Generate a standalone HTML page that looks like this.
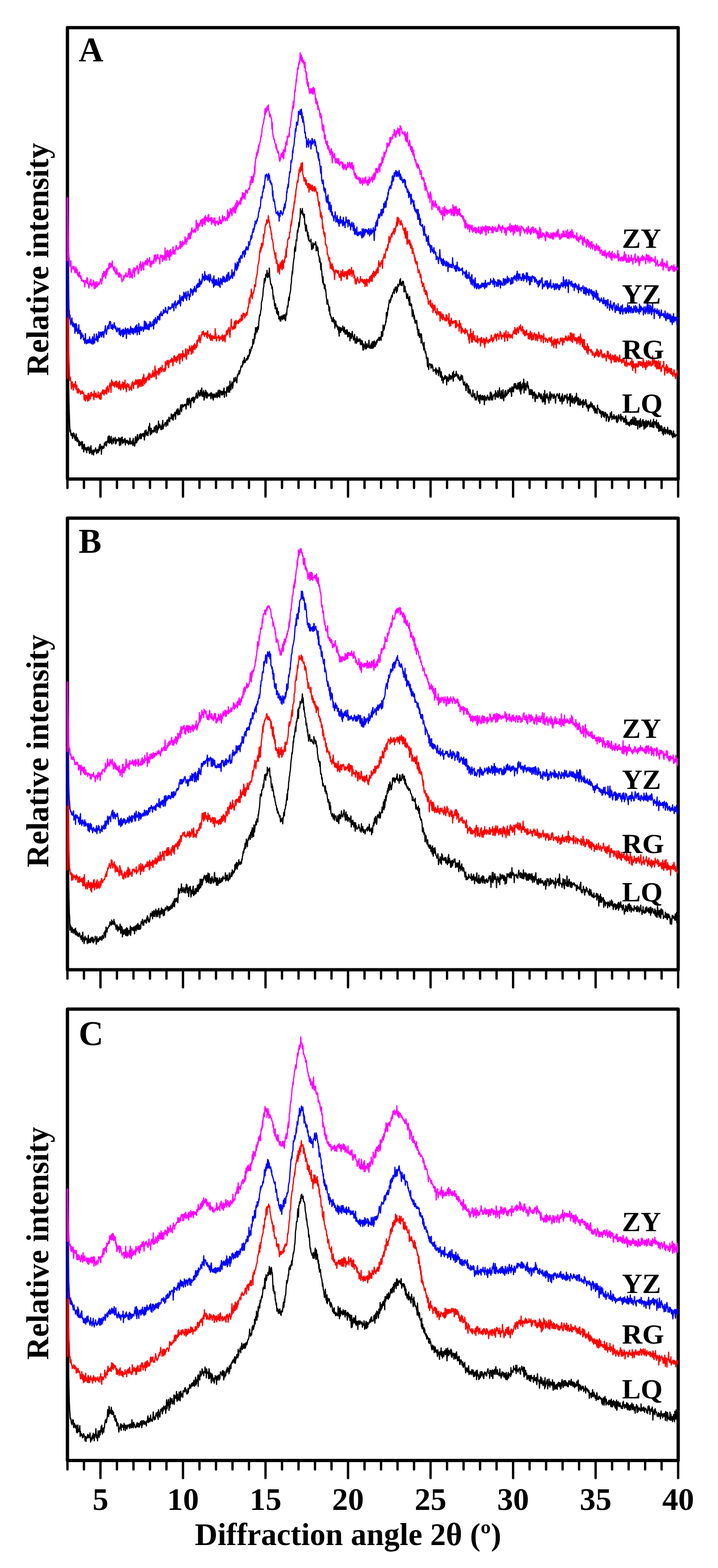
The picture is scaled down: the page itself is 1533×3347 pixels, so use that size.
<!DOCTYPE html>
<html><head><meta charset="utf-8"><title>XRD patterns</title>
<style>
html,body{margin:0;padding:0;background:#fff;}
svg{display:block;}
.fr{fill:none;stroke:#000;stroke-width:7;stroke-linejoin:round;}
.tk{fill:none;stroke:#000;stroke-width:5;stroke-linecap:round;}
.ax{fill:none;stroke-width:4;}
.cv{fill:none;stroke-width:2.6;stroke-linejoin:round;stroke-linecap:round;}
text{font-family:"Liberation Serif","Times New Roman",serif;font-weight:bold;fill:#000;}
.pl{font-size:73px;}
.lb{font-size:60px;}
.yt{font-size:67px;}
.xl{font-size:68px;}
.xt{font-size:67px;}
</style></head>
<body>
<svg width="1533" height="3347" viewBox="0 0 1533 3347">
<rect width="1533" height="3347" fill="#fff"/>
<rect x="144.0" y="59.0" width="1304.0" height="963.5" class="fr"/>
<path d="M144.0 1022.5V1041.5M179.2 1022.5V1041.5M214.5 1022.5V1060.0M249.7 1022.5V1041.5M285.0 1022.5V1041.5M320.2 1022.5V1041.5M355.4 1022.5V1041.5M390.7 1022.5V1060.0M425.9 1022.5V1041.5M461.2 1022.5V1041.5M496.4 1022.5V1041.5M531.6 1022.5V1041.5M566.9 1022.5V1060.0M602.1 1022.5V1041.5M637.4 1022.5V1041.5M672.6 1022.5V1041.5M707.8 1022.5V1041.5M743.1 1022.5V1060.0M778.3 1022.5V1041.5M813.6 1022.5V1041.5M848.8 1022.5V1041.5M884.0 1022.5V1041.5M919.3 1022.5V1060.0M954.5 1022.5V1041.5M989.8 1022.5V1041.5M1025.0 1022.5V1041.5M1060.2 1022.5V1041.5M1095.5 1022.5V1060.0M1130.7 1022.5V1041.5M1166.0 1022.5V1041.5M1201.2 1022.5V1041.5M1236.4 1022.5V1041.5M1271.7 1022.5V1060.0M1306.9 1022.5V1041.5M1342.2 1022.5V1041.5M1377.4 1022.5V1041.5M1412.6 1022.5V1041.5M1447.9 1022.5V1060.0" class="tk"/>
<path d="M144.5 422.0l.7 211.1 .7 119 .7 68 .7 44 .7 21.4 .7 20.1 .7 16.1 .7-4.4 .7 2.9 .7 8.6 .7 1 .7 0 .7-4.6 .7 5.9 .7 4.9 .7-10.4 .7 5.7 .7-7.2 .7 4.1 .7-2.3 .7 9.6 .7-5 .7 9.2 .7 .1 .7-1.2 .7-12.2 .7 11.5 .7 3.4 .7 1.5 .7-8.4 .7 6.4 .7-2.2 .7 1.5 .7 10.8 .7-9.7 .7 4.8 .7 5.6 .7-7.5 .7 3.2 .7 1.8 .7 .3 .7-6.5 .7 7.7 .7 7.7 .7-15.5 .7 13.9 .7-3.5 .7-3.6 .7 15.1 .7-6.3 .7-10.2 .7 7.5 .7 3.3 .7-3.7 .7 5.3 .7-3.6 .7 4.5 .7 4.8 .7-11.2 .7 5.3 .7-3.3 .7 3.7 .7-6.9 .7 3.7 .7 2.4 .7 6.4 .7 1.6 .7-13.3 .7 3.1 .7 8.2 .7-14.4 .7 8.6 .7 2.1 .7 7.6 .7-3.1 .7-5.6 .7-.2 .7 .6 .7 9.7 .7-10.8 .7 .6 .7 3.5 .7-2.7 .7-.6 .7-5.2 .7 5.9 .7-2.5 .7 8.7 .7-3.1 .7-3.9 .7 3.6 .7-5.7 .7 7.4 .7-6 .7 3 .7-10.5 .7 8.8 .7-11.5 .7-2.3 .7 9.2 .7-3.7 .7 5.3 .7 10.9 .7-17.5 .7 .6 .7 3.9 .7 .9 .7-4.4 .7-.9 .7 4.3 .7-1.7 .7-9.3 .7 4.5 .7-.2 .7-6.7 .7 6.5 .7-6.9 .7 9.3 .7-5 .7-1.2 .7-4.4 .7 1.9 .7-10.9 .7 4.2 .7 7.7 .7-14.2 .7 15.9 .7-14.6 .7 13.4 .7-9.1 .7 8.7 .7-3.7 .7-9.2 .7 15.3 .7 1 .7-8.2 .7-1.1 .7 .6 .7-4.4 .7 11.4 .7-8.9 .7 2.8 .7-4 .7 1 .7-3.5 .7 14 .7-7.7 .7 6.3 .7-5.2 .7-3.7 .7 2.1 .7-1.2 .7 3.2 .7-2 .7 .5 .7-5.8 .7 3.3 .7 13.6 .7-12.7 .7-2 .7 7.7 .7 6 .7-15.7 .7 6.9 .7-2.2 .7-6.2 .7 13.8 .7-4.2 .7 .6 .7-4.5 .7 6.6 .7-5.5 .7 2.2 .7-5.3 .7-.6 .7 14 .7-10.1 .7 4.4 .7-1.8 .7-2.2 .7-.4 .7 6.3 .7-5.2 .7 .9 .7 .9 .7 6.4 .7-2.8 .7-1.6 .7-5.2 .7-4.5 .7 12.8 .7 .1 .7-6.1 .7 3.8 .7 1.3 .7 .3 .7 .5 .7-7.6 .7 10.8 .7-15.2 .7 11.6 .7-2.1 .7 1.9 .7 5.4 .7-2.4 .7-14.7 .7-3.3 .7 13.5 .7-10.4 .7 5.2 .7 4.3 .7-14.1 .7-3 .7 12.6 .7-1.6 .7-2.1 .7 1 .7-5.4 .7-4.1 .7 6.8 .7-4.9 .7-4.3 .7 11.3 .7-3.7 .7 2 .7-8.3 .7 1.3 .7-2.4 .7 0 .7 5.4 .7-5.9 .7 5.7 .7-.6 .7 8.8 .7-19.3 .7 12 .7-5.8 .7-.1 .7-8.3 .7 5 .7 6.3 .7-4.9 .7 .5 .7-2.4 .7 7.6 .7-6.8 .7-12.3 .7 7.9 .7-7.3 .7-7.4 .7 14.6 .7 10 .7-7.4 .7-7 .7 .9 .7 11.1 .7-5.6 .7-.9 .7-.9 .7 .2 .7 3.9 .7-1.7 .7-2.2 .7-7.2 .7 8.2 .7-6.8 .7 9.4 .7-13.3 .7 5.9 .7 .4 .7-7.6 .7 16.4 .7-1.8 .7-10.9 .7 6.4 .7-2.5 .7-16.8 .7 15.3 .7-2.1 .7 .4 .7-6.7 .7 4 .7 .1 .7 7 .7-5.1 .7-2.3 .7 7.9 .7-11.9 .7 .4 .7-8.3 .7 18.1 .7-3.9 .7-.7 .7-1.9 .7-3.6 .7 0 .7-3.1 .7-.3 .7 .8 .7 7.5 .7-5.8 .7-4 .7-3.4 .7-.9 .7 11.7 .7-6.7 .7-3 .7-2.9 .7-4.8 .7 5.2 .7 4.5 .7-7.6 .7 .3 .7-.6 .7 1.2 .7-10 .7 6.9 .7-4.1 .7 9 .7-9.7 .7 6.7 .7 4.6 .7-10.7 .7-2.2 .7 3.7 .7-1.8 .7-6.1 .7 7.3 .7 7.8 .7-13.2 .7-.5 .7-5.4 .7 6.8 .7-9.4 .7 0 .7 12.4 .7-12.8 .7 10.1 .7 1.7 .7-7.7 .7 .8 .7 7 .7-12.6 .7-2.9 .7-4.9 .7 6.9 .7 7.2 .7-3.5 .7-11.1 .7-.2 .7 1.3 .7 3.8 .7-3.3 .7 1.7 .7 0 .7-3.8 .7 .9 .7 .9 .7-2 .7 2.8 .7 7.2 .7-7.5 .7-3.3 .7-9.9 .7 11 .7-13.2 .7 2.7 .7 12.1 .7-1.2 .7-5 .7-9 .7 7 .7-2 .7 6.9 .7 8.5 .7-11.6 .7-5.9 .7-2.6 .7 5.7 .7-1.1 .7-5.9 .7 6.4 .7-7.6 .7 11.8 .7-.9 .7-.6 .7-9.3 .7 4.7 .7-4.3 .7-2.2 .7-.5 .7-6.1 .7-1.5 .7 11.5 .7-6.1 .7 1.5 .7 3.6 .7-15.7 .7 4.5 .7 4.7 .7 .6 .7-4.7 .7 7.2 .7-4.9 .7-8.2 .7 1.3 .7 9.3 .7-2 .7-13 .7 17.8 .7-4 .7 4.2 .7-9.3 .7 .8 .7-4.3 .7 20.5 .7-14.5 .7 10.1 .7-11.9 .7 4.9 .7-9.6 .7 7.5 .7 8 .7-11.8 .7 13.2 .7-3.6 .7-7.2 .7 3.3 .7 .6 .7 2.5 .7-2.4 .7-1.4 .7 3 .7-4 .7-1.4 .7 6.8 .7 5.1 .7-13.3 .7 8.4 .7-3.7 .7-1.9 .7 10 .7-7.7 .7 11 .7-12.7 .7 6.3 .7-3.5 .7-3.1 .7 7.3 .7-4.3 .7 4 .7-3.8 .7-5.9 .7 5.3 .7 .6 .7 4.8 .7-10.4 .7 4.5 .7-9.4 .7 12.8 .7-9.7 .7-4.2 .7 9.4 .7 6.2 .7-14.7 .7 2.2 .7 1.6 .7-2.4 .7 8 .7-6.8 .7 .2 .7 6.9 .7-7.7 .7 6.2 .7-8.1 .7-1.6 .7-3.8 .7 19.9 .7-12.3 .7 2.7 .7-2 .7 .7 .7-1.1 .7 9.8 .7-16.7 .7-3.3 .7 2.5 .7-2.3 .7 11 .7-.2 .7-10.4 .7-2.9 .7 5 .7 8.9 .7-24 .7 17.6 .7-9.6 .7 10.7 .7-12.5 .7 3.4 .7-7.7 .7 1.9 .7 12 .7-4.2 .7-7.8 .7-3.6 .7-6.8 .7 7.1 .7 .9 .7-1.5 .7-1.2 .7-6.9 .7 4.7 .7-1.1 .7 6.1 .7 2 .7-12.2 .7-4.7 .7 2.5 .7-4.4 .7-2.2 .7 2.1 .7-7 .7 7.4 .7-5.6 .7 .2 .7-4.1 .7-4.7 .7-2.9 .7 2.3 .7-3.3 .7 2.8 .7-2.8 .7-8.8 .7 6.7 .7-8.9 .7 3.1 .7 .9 .7-10.4 .7 11.3 .7-.3 .7-2.2 .7-2.1 .7-.3 .7-4 .7 3 .7-2.5 .7 2.3 .7-8.6 .7 6.4 .7-2.3 .7-3.4 .7-3.6 .7 3.4 .7-14.3 .7 9.6 .7-3.3 .7-1.8 .7-1.6 .7-7.9 .7-.1 .7 2.6 .7-3.5 .7-3.6 .7-12 .7 8.9 .7 .9 .7-3.3 .7-6.7 .7-12.3 .7 11.4 .7-8.2 .7-15.4 .7 13.8 .7-12.6 .7-1.2 .7 1.3 .7 8 .7-11.6 .7 .9 .7 5.3 .7-3.9 .7-12.5 .7-4.4 .7-9.5 .7-1.1 .7 1.6 .7-5 .7-6.5 .7-.6 .7-15.9 .7-2.6 .7-1.8 .7-6.2 .7-2.7 .7-9 .7-9.1 .7-1.1 .7-11.8 .7-7.1 .7 9.6 .7-5.4 .7 .2 .7-12.7 .7 5.7 .7-2.8 .7-2.7 .7-8.9 .7 9.5 .7 6 .7-3.5 .7-5.9 .7 3 .7 4.4 .7-18.4 .7 16.3 .7 6 .7 3.6 .7 8.8 .7 .4 .7-1 .7 3.5 .7 6 .7-3.9 .7 6.6 .7 9.5 .7 10.3 .7-7 .7 5.1 .7 5.6 .7 10.3 .7-4.2 .7 11 .7-10.9 .7 6.8 .7 2.4 .7 7.9 .7 3.8 .7-11.8 .7 5.4 .7 9 .7-3.6 .7-3 .7 15.7 .7-1.6 .7 1.1 .7-4.4 .7 8.9 .7-6.6 .7 7.4 .7-11.1 .7 .2 .7 5.6 .7-5.3 .7 7.2 .7-2.7 .7-7 .7 4.9 .7-2.9 .7 6.3 .7-9.2 .7 .4 .7 8.1 .7 4.3 .7-2.9 .7-12.6 .7-1.3 .7 4.7 .7-11.7 .7-7.6 .7 3 .7-1.3 .7-10.2 .7-7.9 .7-2.5 .7 7.2 .7-12.7 .7-2 .7-3.8 .7-3.8 .7-11.5 .7-1.8 .7-14.1 .7-3.4 .7-9.9 .7 5.8 .7-12.4 .7-10.1 .7-4.3 .7-5.7 .7-1.4 .7-19 .7-3.1 .7-2.3 .7 10.4 .7-13.9 .7-10.8 .7-.3 .7 2.8 .7-17.1 .7-5.1 .7 4.5 .7-8.1 .7-3 .7-10.4 .7 9.4 .7-5.6 .7-10.9 .7-3.8 .7-18.9 .7 11.6 .7-6.5 .7 3 .7 1.9 .7-4.4 .7-5.7 .7 13.5 .7-3.6 .7 4.9 .7 1.3 .7 4.2 .7-8.1 .7 22 .7-2.3 .7 8.2 .7 8.4 .7-6.9 .7-6.2 .7 8.9 .7 1.9 .7 7.4 .7 6.3 .7-8.8 .7 15.1 .7-8.6 .7 11.4 .7-.8 .7 .3 .7 2.7 .7-1.4 .7 .7 .7-4.9 .7 9.9 .7 11 .7 1.2 .7-3.5 .7-3.3 .7-7.6 .7 11.6 .7-8.2 .7-.1 .7-1.2 .7 2.1 .7-2.9 .7 1.9 .7-5.5 .7 4.1 .7 15.3 .7-11.6 .7 .9 .7 6.6 .7 3.7 .7-7.1 .7 8.3 .7 9.6 .7-.1 .7 2.6 .7 11.3 .7-8.8 .7 8 .7 1.1 .7 15.8 .7-14.1 .7 12.1 .7 5.7 .7 11.3 .7 4.1 .7 8.4 .7-12.6 .7 16.4 .7-2.3 .7 1.3 .7 9.8 .7-4.8 .7-3.1 .7 12.6 .7-2.9 .7 8.1 .7 9.3 .7 3.4 .7 10.9 .7-5.9 .7-3.4 .7 8 .7 2.6 .7 1.5 .7 11.9 .7-3.5 .7-5.1 .7 16.9 .7-2.3 .7 4.5 .7 .6 .7 4.7 .7-1.6 .7 8.3 .7-2.9 .7 1.3 .7 1.5 .7-8.9 .7 8.4 .7 .7 .7 3.7 .7-7.4 .7 17.6 .7-7.3 .7-6.2 .7-1.6 .7 8.9 .7 2 .7-2.5 .7 5.4 .7-3.1 .7 7.4 .7-6.2 .7 4.5 .7 6.3 .7 9.4 .7-19.1 .7 3.5 .7-1.6 .7 9.3 .7-10.3 .7 4 .7 2.8 .7-4.9 .7 .3 .7 2.9 .7-8.7 .7 3.8 .7 5.9 .7 3.3 .7-1.6 .7-8.5 .7 7.4 .7 7.1 .7-1.1 .7-3.2 .7-4.2 .7 8.7 .7-6.4 .7-2.9 .7 2.3 .7 12.8 .7-6.4 .7 5.5 .7-8.7 .7 8.2 .7-8.1 .7 2.9 .7 14.9 .7-9 .7-6.6 .7 2.7 .7 2.7 .7 5.3 .7-8.9 .7-6.4 .7 8.5 .7 2 .7 1 .7 7.1 .7-5 .7 3.2 .7-10.1 .7 11.3 .7 7.2 .7-6.8 .7-2.3 .7-.1 .7 9.5 .7-14.4 .7 5.1 .7 3.7 .7 2.2 .7-5.8 .7 4.7 .7-2.5 .7 2.8 .7-.7 .7-4.9 .7 6.8 .7 5.6 .7-9.5 .7 4.6 .7 5.6 .7-9 .7 7.4 .7-6.3 .7 12.5 .7 6.9 .7-1.2 .7-12 .7 5.6 .7-3.2 .7 0 .7 8.2 .7-15.6 .7 13.2 .7-5.9 .7 8.2 .7-6.6 .7-4.6 .7 5.4 .7 2.6 .7-3.7 .7 2.6 .7-5.5 .7-8.8 .7 16.7 .7-1.1 .7-3 .7-.4 .7 5.2 .7-8.3 .7-1.6 .7 2.7 .7 7.3 .7-14.5 .7 13.9 .7-10.4 .7-2.9 .7 12.6 .7-7.9 .7-7 .7 4.7 .7 6.7 .7 .9 .7-9.5 .7 3.9 .7 1 .7-8.2 .7 4.6 .7-3 .7-3.7 .7-.8 .7 2 .7-1.3 .7-4.5 .7-.4 .7 7.1 .7-6.2 .7 2.3 .7 .4 .7-4.8 .7 7.8 .7-18.5 .7 7.4 .7-7.7 .7 10.4 .7-2.5 .7-21.7 .7 3.8 .7 7.2 .7-1.4 .7-2.6 .7-6.9 .7 .2 .7-1.8 .7-7 .7 2.9 .7-21.3 .7 12.5 .7-12.5 .7 7.5 .7-10 .7-7.1 .7 3.5 .7-10.4 .7-3.3 .7-6.8 .7 5.4 .7-.1 .7 .1 .7-9 .7 4.2 .7-7.8 .7-2.5 .7 2 .7 1.4 .7-9 .7-.7 .7-.8 .7 .2 .7-6.6 .7 9.4 .7-9 .7 3.6 .7-8.2 .7 5.5 .7-.8 .7-5.5 .7 12.5 .7-9.9 .7 6.9 .7-5.3 .7-9.6 .7 .9 .7 3.9 .7-2.6 .7-.6 .7-2.2 .7-8.7 .7 8.5 .7-11.1 .7 14.1 .7-5.9 .7 .2 .7 3.2 .7 3.3 .7-8.7 .7-.9 .7 4.8 .7-4.2 .7 7.1 .7 15.4 .7-13.1 .7 10.9 .7-9.6 .7 10.8 .7-1.7 .7 3.1 .7 5.2 .7 8.2 .7-6.8 .7 1.3 .7-4.3 .7 10.2 .7-2.9 .7 7.7 .7-3 .7 11.8 .7-18.5 .7 11.4 .7 8.7 .7-4.5 .7-.1 .7 5.3 .7-3.7 .7 10.7 .7 15.3 .7-4.6 .7-9.8 .7 3.8 .7 5.2 .7 10.3 .7-7.5 .7 3.3 .7 11.2 .7 2.4 .7-4.4 .7-1.6 .7-.1 .7 7 .7-6.2 .7 18.6 .7-5.4 .7 8.2 .7 9.8 .7-1.8 .7-10.7 .7 13.2 .7 3.6 .7-8.4 .7 .9 .7 6.6 .7-6.2 .7 19 .7-19.3 .7 9.2 .7 6.6 .7 2.3 .7 4.3 .7 2.7 .7-.6 .7 9.6 .7-15.8 .7 14 .7-1.5 .7 7.3 .7 3.1 .7-3.5 .7 4.2 .7 10.6 .7 .2 .7-3.2 .7 17.3 .7 3.5 .7-18.9 .7 11.2 .7 13.4 .7-8.4 .7-2 .7-1.4 .7-.8 .7 2.7 .7-1 .7 8 .7-5.5 .7 .6 .7-3.5 .7 7.1 .7-4 .7 4.6 .7 7.4 .7-3.1 .7 1.4 .7-.3 .7-1 .7-.5 .7-.4 .7 6.4 .7-9.6 .7 13.8 .7-6.6 .7-3.8 .7 1.9 .7-.5 .7 5.2 .7-4.3 .7 10.8 .7-10.1 .7-7.6 .7 9.1 .7-6.4 .7 11.4 .7 6.7 .7-1.6 .7-10.3 .7 3.8 .7 14.6 .7-7.4 .7-1.1 .7 6.4 .7 8.3 .7-5.8 .7-5.9 .7 1.7 .7 1.9 .7-6.3 .7-2 .7 6.4 .7-5.1 .7 5.1 .7 1.1 .7 12.5 .7-17.4 .7 4 .7-.2 .7 3.3 .7 3.2 .7-8.5 .7-2 .7-4.7 .7 3.8 .7 7.8 .7-2.9 .7-6.1 .7 3.2 .7 2 .7 2.3 .7-6.3 .7 1.6 .7-9 .7 3.4 .7 14.9 .7-21.2 .7 9.9 .7 2.8 .7-3.5 .7-2.7 .7 3.9 .7 .1 .7-.6 .7-10 .7 9.4 .7-4 .7 1.6 .7 4.2 .7 2.4 .7 1.5 .7-7.4 .7 8.1 .7 1.8 .7 .3 .7 2 .7-7.8 .7 .6 .7 6.2 .7-11.2 .7 9.6 .7-3.1 .7 1.9 .7-6.5 .7 5.8 .7 5.9 .7 6.1 .7 1.7 .7-4.7 .7 .5 .7-2.3 .7 7.9 .7-2.4 .7 5.9 .7 7.4 .7-8.7 .7-6.9 .7 4.5 .7-2.3 .7 2.5 .7 14.6 .7-5 .7-8.8 .7 12.7 .7 4 .7-8.2 .7-1.1 .7 2.6 .7 4.1 .7 2.7 .7 3.7 .7 .9 .7 .5 .7 1.7 .7-3.1 .7-11.4 .7 8.4 .7 3.2 .7-3.2 .7 7.8 .7-6.4 .7-2.5 .7 13.6 .7-3.7 .7-1.9 .7 4.4 .7 1.2 .7-3.6 .7-15 .7 10.1 .7 1.5 .7-2.6 .7 6.7 .7 5.6 .7-9.2 .7-3.5 .7 17.3 .7-13.6 .7-4.4 .7 8.1 .7 .9 .7-6.3 .7 8.2 .7-7.2 .7-2.5 .7 5.9 .7 3.2 .7-7.9 .7 5.2 .7-2.5 .7 15.8 .7-19.6 .7 11.4 .7-8.1 .7-.6 .7 4.5 .7 .7 .7 1.9 .7-5.3 .7-5.3 .7 .1 .7 5.6 .7 .2 .7 4.3 .7-5.5 .7 3.3 .7 2.4 .7-7.6 .7-9.3 .7 1.6 .7-1.6 .7 16.6 .7-13.6 .7 11.3 .7-3.6 .7 6.1 .7-4.1 .7-6.2 .7-.6 .7 1.4 .7 .4 .7-4 .7 2.6 .7 9 .7-18.4 .7 10.7 .7-6.5 .7 5.9 .7 3.5 .7-5.1 .7 4.5 .7-13.1 .7 14.7 .7-9.5 .7 6.7 .7-2.6 .7-15.3 .7 10 .7 5.2 .7 7.2 .7-7 .7-.3 .7-9.3 .7 15.5 .7 2 .7-9.9 .7-1.5 .7-7.8 .7 13.7 .7 9.8 .7-11 .7 2.9 .7-4.1 .7-8.5 .7 12.6 .7-14.2 .7 5.5 .7 2.6 .7 3.2 .7-2.7 .7-.2 .7-6.4 .7-3 .7 7.3 .7-4.4 .7-3.4 .7 .1 .7 4.1 .7-7.7 .7 2.6 .7-1.9 .7 9.4 .7 .3 .7 7.6 .7-20.6 .7 3 .7 7.2 .7-7.6 .7-1.9 .7 10.1 .7-12 .7-4.8 .7-.8 .7 9.1 .7 0 .7-9.1 .7 2.3 .7 8.6 .7 .4 .7-6.5 .7 7.2 .7-.1 .7-12.8 .7 8.2 .7 4.1 .7-5.4 .7-8.6 .7 10.1 .7 5.5 .7 4.3 .7-21 .7 26 .7-20.9 .7 11 .7 1.1 .7-1.8 .7-5 .7-7.6 .7 9.4 .7-7.7 .7-10.2 .7 29.3 .7-11.8 .7 6.1 .7-14.9 .7 13.3 .7 1 .7 .2 .7-8.1 .7-5.9 .7 6.3 .7-10.4 .7 3.5 .7 10.7 .7-5.1 .7 5.5 .7 1.2 .7 12.2 .7-2.5 .7-6.4 .7 7.9 .7-10 .7 3.3 .7 7.8 .7-10.9 .7 6.1 .7-5 .7 8.7 .7 8.9 .7-12.5 .7 5.9 .7-5.8 .7-1 .7-.2 .7 15.2 .7 5.3 .7-10 .7-6.2 .7 8.1 .7-5.4 .7 6.6 .7-2.5 .7 .2 .7 2.1 .7-6.3 .7 1.2 .7-7 .7 7.3 .7-5.2 .7 7.2 .7-4.3 .7 6 .7 2.1 .7-10.2 .7 3.4 .7-.6 .7 9.3 .7 5.3 .7-4.7 .7-6.6 .7 9.9 .7-16.4 .7 16.5 .7-11.9 .7-11.7 .7 29.8 .7-6 .7-14.5 .7 6.6 .7-2.2 .7 1.6 .7-8.8 .7 4.3 .7 6.2 .7-1.5 .7 5.3 .7-6.3 .7 12.4 .7-17 .7 5.3 .7-12.1 .7 3.5 .7 14.1 .7-12.6 .7 8 .7-3.3 .7-5.5 .7 3.7 .7-1 .7 .1 .7 6.8 .7-.6 .7-6.9 .7-1.8 .7 6.5 .7-2.1 .7 6.2 .7 8.9 .7-10 .7-4.8 .7-.7 .7-3.7 .7-.3 .7-.5 .7 3.4 .7-.1 .7 6.5 .7-6.2 .7 1.2 .7-5.6 .7 15.9 .7-6.2 .7 7.1 .7-5.3 .7 3.9 .7-9.4 .7 5.4 .7 11 .7-21.5 .7 13.4 .7 3 .7-6.9 .7 2 .7 2.9 .7-10.6 .7 6.2 .7-7.1 .7 1.2 .7 .5 .7 2.8 .7 1.8 .7 1.8 .7-10.3 .7 19.2 .7-4.5 .7-2.3 .7-5.9 .7 1.6 .7 3.7 .7-.6 .7-11.6 .7 13.8 .7 12.4 .7-26.7 .7 16.1 .7-3.3 .7-2.6 .7 8.6 .7-14.3 .7 7.8 .7 7.5 .7-9.2 .7-1.1 .7 3.2 .7-2.9 .7 11.4 .7-13.7 .7 10.3 .7-11.8 .7 11.1 .7-4.2 .7-13.8 .7 14.8 .7-5.8 .7 3.7 .7 11.5 .7-14.8 .7 .5 .7 14.4 .7-7.2 .7 8.3 .7-6.7 .7-6.5 .7 4.8 .7 7.6 .7-1.4 .7-5 .7 .5 .7-.6 .7-2.4 .7 14.5 .7-10.5 .7-6.1 .7 4 .7 7.1 .7-.1 .7-4 .7-2.6 .7 4.3 .7-9.2 .7 2.5 .7 12.3 .7-6.8 .7 5.2 .7 5.2 .7-2.8 .7-3.1 .7 12.4 .7-7.9 .7-5.3 .7 6.6 .7-1.4 .7-6.7 .7 5.7 .7-.9 .7-9.7 .7 10.5 .7-.1 .7-.5 .7-6.4 .7 7.7 .7 2.2 .7 1.3 .7-6.6 .7 10.4 .7-10.1 .7 6 .7 9 .7-10.9 .7 1.4 .7 9.4 .7-7.9 .7 .9 .7 3.3 .7 5.1 .7-18 .7 8.1 .7-.6 .7-.1 .7 1.7 .7 .5 .7 6.8 .7-6.3 .7 6.1 .7 1.9 .7-6 .7 5.3 .7 8.8 .7-7 .7-5.1 .7 3.6 .7-4.4 .7 7 .7 3.7 .7-9.1 .7 3.8 .7 7.7 .7-8.7 .7 4.2 .7-6.5 .7 1.4 .7 2.1 .7 15.1 .7-13.9 .7-.4 .7 .1 .7 2.4 .7 4.8 .7-2.3 .7 10.5 .7-9.9 .7 7 .7-6.2 .7 2.1 .7-11.1 .7 7.5 .7 .5 .7-.7 .7-10.3 .7 16.9 .7-6.8 .7 0 .7 1.2 .7 .3 .7 3.7 .7-9 .7 2 .7 6.9 .7-.6 .7-2.7 .7-.9 .7-1.2 .7 4.4 .7 7 .7-12.1 .7 14.4 .7-3.6 .7-6.9 .7 7 .7-12.2 .7-1.3 .7 2.6 .7 5 .7 .7 .7-.9 .7 3.6 .7-12.1 .7 14.6 .7-10.3 .7 4.4 .7 1.5 .7-3.9 .7-.9 .7 2.2 .7 5.7 .7 3.5 .7 .1 .7-8.4 .7 1.4 .7-.5 .7 7.7 .7-13.4 .7 18.2 .7-9.3 .7-1.4 .7 6.4 .7 4 .7-3.6 .7 4.1 .7-4.8 .7 6.2 .7 .3 .7-7.3 .7 8.7 .7-6.9 .7-.2 .7-5.4 .7 3.6 .7 6 .7-11.4 .7 11 .7-1.6 .7-.3 .7-13.6 .7 11.7 .7 4.2 .7-7.7 .7 4.7 .7-13.5 .7 16.8 .7-7.3 .7 8.5 .7-14.9 .7 13.9 .7-5 .7 5.7 .7-9.5 .7 1.7 .7 15.8 .7-16.9 .7 .7 .7 2.4 .7-4.1 .7 12.2 .7 2.9 .7-13.3 .7-5.6 .7 16 .7-.4 .7-1.5 .7 1.8 .7-11.1 .7 3.9 .7-6.7 .7-.2 .7 13.2 .7-9 .7 16.2 .7-12.1 .7-3.9 .7 8 .7 5.5 .7-7.2 .7-9.3 .7 8.7 .7 5.6 .7-10.2 .7-1.5 .7 9.9 .7-4.8 .7-6.7 .7 4 .7-1.9 .7 5.9 .7-.9 .7 5.8 .7-2.3 .7-12.3 .7 11 .7 2.8 .7-2.2 .7 3.3 .7-8.5 .7-2 .7 10.6 .7-10.8 .7-5.8 .7 17.7 .7-9.4 .7 2.6 .7-5.8 .7 .6 .7 1.2 .7 4.6 .7 4.3 .7-14.4 .7 17 .7-10.3 .7 .9 .7 9.8 .7-3.8 .7-7.8 .7 18.9 .7-14.6 .7 6.3 .7 0 .7 7 .7-10 .7 8.4 .7-9.3 .7 10.7 .7-10 .7 2.7 .7 12.9 .7-8.2 .7-.6 .7 12.3 .7-9.8 .7-5.9 .7 9.1 .7-10 .7 13.3 .7 1 .7-9.2 .7 .3 .7 4.9 .7-.3 .7-5 .7 9 .7-13.9 .7 9.3 .7 .5 .7 1.1 .7 3.5 .7-8.2 .7 10.2 .7-4 .7-2.5 .7-3.8 .7 1 .7 8.5 .7-7.2 .7 5.6 .7 5.6 .7-.2 .7 2.9 .7-10.2 .7-4.3 .7 11.6 .7-3.9 .7 4.5 .7-6.1 .7 6.5 .7-1.9 .7-.7 .7-1.1 .7-.6 .7-.9 .7-.1 .7 4.2" stroke="#000" class="cv"/>
<path d="M144.5 422.0l.7 173.6 .7 85.6 .7 61.9 .7 26.7 .7 18.2 .7 23.7 .7-5.8 .7-.9 .7 6 .7 4.1 .7 15 .7-9.7 .7 4.9 .7-9.9 .7 8.1 .7 2.5 .7 6.8 .7-13.1 .7 7.7 .7-1 .7-6.7 .7 6.1 .7-.8 .7-10.7 .7 16.6 .7 .3 .7-4.8 .7-4.4 .7 16 .7-6.1 .7 4.7 .7 2.7 .7-10.1 .7 7.9 .7-5.3 .7 1.6 .7 .4 .7 1.1 .7 6.8 .7-4.9 .7-.8 .7-.1 .7 4.1 .7-6.2 .7 2.8 .7 3.1 .7-2.2 .7 3.1 .7-2.2 .7 14.9 .7-3.2 .7-4.4 .7-2.3 .7 12.7 .7-10 .7-2 .7 2.4 .7 .1 .7 6.2 .7-7.9 .7 11.6 .7-16.4 .7 8.7 .7-9.3 .7 15.5 .7-11.8 .7 1.5 .7 5.4 .7 1.8 .7-13 .7 4.2 .7-5.8 .7 8.5 .7-1.4 .7-1.3 .7-1.9 .7 1.7 .7-2 .7 7 .7 5.4 .7-18.9 .7 10 .7-1.7 .7 5 .7-7.9 .7 4.4 .7-4.9 .7 9.5 .7-3.3 .7-1.4 .7 2.9 .7-3.4 .7-7.1 .7 11.8 .7-1.7 .7-2.4 .7 6.2 .7 1.2 .7-12.9 .7 1.5 .7 12.5 .7-1.1 .7-12.2 .7-3 .7 2.5 .7 .2 .7-6.6 .7 8.2 .7-7.9 .7-.3 .7 10.9 .7-9.6 .7 2.6 .7 3 .7 .2 .7-7.2 .7 1.3 .7-5.7 .7 13.3 .7-6.8 .7-10.5 .7 5.3 .7 3.1 .7-2.1 .7 6.7 .7-3.2 .7-11.2 .7 1.9 .7-7.2 .7 7.9 .7-1.1 .7 13.6 .7-14.7 .7-12.3 .7 7.5 .7 4.2 .7-7.7 .7 2.1 .7 2.8 .7 3.9 .7-2.8 .7-3.9 .7 9.3 .7-7.3 .7 .3 .7-4.8 .7 3.3 .7 8 .7-12.4 .7 8.6 .7 4.5 .7-6 .7 3.5 .7-7.3 .7 13.4 .7-1 .7-4.7 .7-10.8 .7 4 .7 11.2 .7 4.2 .7-7.7 .7 5.3 .7-10.1 .7 2.4 .7 1.1 .7 2.4 .7-10.6 .7 13.7 .7 2.1 .7-13.5 .7-1.1 .7 9.5 .7-5.5 .7-9.4 .7 17.5 .7-3.6 .7-3.4 .7 14.2 .7-10.8 .7-5 .7 4.7 .7-6.4 .7 1.5 .7 6.2 .7-5.2 .7 .4 .7 11.6 .7-4.6 .7-.5 .7-1.6 .7-.5 .7 5.2 .7-8.3 .7 10.1 .7-15.6 .7 3.6 .7-6.4 .7 5.5 .7 4.5 .7 4.9 .7-11.8 .7 3.4 .7-2.3 .7-2.3 .7-2.7 .7 6.6 .7-10.1 .7 9.9 .7-.8 .7-3.9 .7-2.2 .7-2.3 .7 17.6 .7-18 .7 15.7 .7-5.6 .7-5.7 .7-4.7 .7 11.7 .7 3.4 .7-15.1 .7 3.1 .7 7 .7-4.4 .7 8.7 .7-14.6 .7 5.7 .7-10.3 .7 17.9 .7-16 .7-8.6 .7 11 .7-.5 .7 10.8 .7-12.8 .7 1.3 .7 2.9 .7 5 .7-9.5 .7 5.7 .7-3.3 .7-4.9 .7 1.7 .7-.7 .7-5.6 .7 11.3 .7-14.7 .7 13.7 .7-1.6 .7-6.2 .7-4 .7 2.5 .7 3.5 .7 1.1 .7-2.9 .7 3.4 .7-8.9 .7 4 .7-10.3 .7 12.4 .7-3.8 .7-3.5 .7 8.3 .7-3 .7-19.7 .7 15.3 .7-8.7 .7 13.5 .7 7.4 .7-16.9 .7 2.8 .7-2.2 .7 2.9 .7 1.2 .7 3.1 .7-13 .7 13.7 .7-14.2 .7 6.2 .7 4.4 .7-2.9 .7-9.6 .7 .9 .7 .8 .7 1.8 .7 6.1 .7-13.9 .7 9.2 .7 .3 .7-.8 .7-1 .7 5.3 .7-6.2 .7 1.5 .7-2.1 .7 6.2 .7-20.8 .7 17 .7-9 .7-.6 .7-4.4 .7-5.4 .7 7.6 .7-2.2 .7 6 .7-11.3 .7 15.4 .7-6.9 .7-3.4 .7-3 .7-.9 .7-2.4 .7 2.7 .7 2.5 .7-1.5 .7-7.3 .7 5.9 .7-4 .7 5.4 .7 8.9 .7-7.3 .7-5.6 .7-7.6 .7 .7 .7-1.9 .7 12.8 .7-8.6 .7 4.2 .7-4.2 .7 3.6 .7 6.8 .7-11.8 .7 1.5 .7-2.9 .7 8.8 .7-10.8 .7-.9 .7-1.8 .7-.4 .7 9.9 .7 11.2 .7-19.9 .7 10.3 .7-4.2 .7-7.8 .7 4.2 .7-.1 .7-2.9 .7 14 .7-21.5 .7 12.2 .7-.6 .7-5.4 .7 3.6 .7 3.6 .7-4.4 .7 1 .7 1.1 .7-15.5 .7 18.9 .7 3.9 .7-7.6 .7-.3 .7-13.8 .7 6.5 .7-4.3 .7 .7 .7 7.9 .7-10.3 .7 3.1 .7-10.4 .7 9 .7 .8 .7-5 .7-.8 .7 13.7 .7-17.7 .7 .1 .7 .7 .7 10.3 .7 4.2 .7-10.4 .7-6.5 .7 .8 .7 7.4 .7-11.6 .7 12.2 .7-1 .7-8.1 .7 2.3 .7-.2 .7 3.6 .7-15.2 .7 11.3 .7-9.7 .7-3.3 .7 3.6 .7-3 .7-5.5 .7-4.6 .7 2.3 .7 11.9 .7 1.5 .7-8.4 .7 1.8 .7-10.5 .7 1.4 .7 1 .7-8.3 .7-.2 .7 5.4 .7-2.7 .7-4.4 .7 7.9 .7-3.5 .7 7.1 .7-5.5 .7-1.5 .7 2.6 .7-1.4 .7-2.5 .7 1.8 .7 6.7 .7-.2 .7 3.9 .7-16 .7 7.5 .7 .3 .7 3.7 .7-3 .7 .1 .7 7.5 .7-2.9 .7-6.9 .7 14.1 .7-1.4 .7-8.3 .7 8.1 .7-8.3 .7 10.5 .7-7.1 .7-3 .7 2.6 .7-2 .7 5.4 .7-.1 .7-.7 .7-3.3 .7-17.1 .7 20.7 .7-11 .7 11.7 .7 4.8 .7-4.8 .7-3.7 .7 1 .7 .2 .7-2.4 .7-.3 .7-2 .7 11.5 .7-6.8 .7 5.2 .7-6.8 .7 1.6 .7-1.5 .7 3.3 .7 1.8 .7-3.4 .7-5.3 .7-.8 .7 13.3 .7-10.9 .7-.3 .7 9.4 .7-2.3 .7-3.4 .7-5.6 .7 14.6 .7-11.3 .7 .2 .7-4.6 .7-7.6 .7-.3 .7 8.8 .7-1 .7-4.3 .7-6 .7-2.4 .7 5.2 .7-7.2 .7 12 .7 .5 .7 8.2 .7-11.6 .7-9.1 .7-2.4 .7-15.1 .7 14.9 .7 1.5 .7 5.5 .7-2.7 .7-.9 .7-2.7 .7 1.8 .7 3.7 .7-14.5 .7 2.7 .7-5.8 .7 15.9 .7-2.4 .7-3.6 .7-11.3 .7 6.9 .7-2.8 .7 1.1 .7-2.1 .7 3.3 .7-5.6 .7 6.2 .7-3.9 .7-3.6 .7 .4 .7-2.4 .7 6.3 .7-6.6 .7 2.5 .7-4.5 .7-6.6 .7 12.5 .7-11.5 .7 9 .7-2 .7-12 .7 3.4 .7 1.9 .7-2.2 .7-2.5 .7 10 .7-6 .7 2.8 .7-5.2 .7 3.2 .7-6.7 .7 3 .7 2.3 .7-4.3 .7-5.2 .7-7.4 .7 1.9 .7-4.6 .7-8.8 .7-7.8 .7 3.1 .7 8 .7-16.3 .7 2.9 .7-.3 .7-16.5 .7 14.4 .7-4.9 .7 11.1 .7-9.5 .7-3.6 .7 1.8 .7 0 .7-6.8 .7-.7 .7-11.1 .7 1.8 .7 .7 .7 1.6 .7-12.1 .7-7.5 .7-.1 .7-5.8 .7-1.1 .7-7.5 .7-10.5 .7-1.6 .7-4.1 .7-2.9 .7-4.1 .7-9 .7-10.7 .7 4.4 .7-10.9 .7 8 .7-3.7 .7-12.7 .7 9.5 .7-2.5 .7-7.8 .7 5 .7-2.7 .7-20.9 .7 8.3 .7-7.2 .7-3.8 .7-.7 .7-12.3 .7-2 .7-3.6 .7-1.8 .7 1.4 .7-9.6 .7 .3 .7 7.3 .7-4.9 .7 1.6 .7-12.9 .7 6.5 .7 2.5 .7 5.3 .7-.6 .7 11.7 .7-1.8 .7 4.4 .7 4.1 .7 8 .7-2.5 .7 12.5 .7 0 .7 2.2 .7 3.6 .7 7 .7 7 .7 4 .7 1.1 .7 6.7 .7-.5 .7 9.5 .7-3.8 .7-7.9 .7 22.2 .7-3.3 .7-3.8 .7 8.5 .7-1 .7 18.9 .7-6.7 .7-9.8 .7 12.7 .7-4.9 .7 12.6 .7-16.6 .7-7.2 .7 12 .7-3.2 .7-1.4 .7-10.7 .7 12.7 .7 5.4 .7-21.3 .7 15.3 .7-11.4 .7 14.2 .7-12.4 .7-5.3 .7 5.2 .7-5.2 .7-8.4 .7 4.6 .7-9.7 .7-10.4 .7 17.5 .7-16.8 .7-5.3 .7 1.2 .7-14.5 .7-2.9 .7 .7 .7-4 .7-.6 .7 1.9 .7-12.8 .7 1.2 .7-3.6 .7-13.5 .7 3 .7-10.8 .7 6.7 .7-7.8 .7-6.9 .7-12 .7 3.4 .7-9.7 .7 3.2 .7-9.6 .7-8.9 .7 4.4 .7-6.2 .7-12.3 .7 4.7 .7-12.9 .7-4.7 .7-2 .7-9.3 .7-3 .7-3.5 .7 4.3 .7-5.2 .7-14.5 .7 5.8 .7-13.2 .7-1.1 .7 0 .7-5.1 .7 10.8 .7-11.8 .7-7 .7 15.2 .7-7.5 .7 3 .7-12.2 .7 24.8 .7 1.9 .7 2.7 .7 3.8 .7 6.4 .7-7.4 .7 7.3 .7-7.2 .7 4.3 .7 9.8 .7-1.5 .7-7.5 .7 11.3 .7-1.3 .7-1.9 .7 8.1 .7-3.6 .7-5.8 .7 2.8 .7 16.1 .7-17.9 .7 9.7 .7 2.2 .7 .3 .7-10.2 .7 5.1 .7 2.6 .7 3.7 .7-7.8 .7-2.8 .7 12.1 .7 .8 .7-3.9 .7-5 .7 6 .7-1.1 .7 4.7 .7-10.7 .7 8.4 .7-.5 .7-4.1 .7 8.5 .7 .4 .7-.3 .7 7.3 .7-6.6 .7 11.3 .7 6.6 .7 3.1 .7 7.9 .7-9.1 .7 1.7 .7 13 .7 4.6 .7 12.6 .7-4.8 .7-4.6 .7 12.8 .7-5.5 .7 .2 .7 26.3 .7-8.8 .7 6.2 .7 3.4 .7 11.2 .7-4 .7 9.5 .7-7.9 .7 2.4 .7 19.8 .7 4.4 .7-1.3 .7 2.3 .7 3.6 .7-.7 .7 16.1 .7-1 .7 2.7 .7 2.7 .7 6.7 .7-.2 .7 3.8 .7-8.2 .7 11.5 .7 11.5 .7-12.7 .7 4.2 .7 7.6 .7 2.2 .7-.1 .7-10.7 .7 13.1 .7-7.9 .7 3.2 .7 8.5 .7-3.8 .7 6.8 .7 13.5 .7-12.3 .7 .3 .7-8.3 .7 2 .7-1.7 .7 3.5 .7-2.6 .7 2.9 .7 2.9 .7-4 .7-1.9 .7 .6 .7 10.3 .7-2 .7 5.5 .7 .2 .7-7.6 .7 5.6 .7-11.6 .7 20.4 .7-6 .7-7.8 .7-5.2 .7 8.4 .7-12.4 .7 5.9 .7 8.3 .7-3.8 .7-3.2 .7 7.9 .7-11.1 .7 7.2 .7-4.4 .7-2 .7 7.1 .7-8.2 .7 15.8 .7-13.8 .7 13.9 .7-17.3 .7 8.9 .7-10.3 .7-1.2 .7 7.8 .7 2.4 .7-11.1 .7 13.1 .7-11.2 .7 4.9 .7 1.2 .7 1.1 .7-13.1 .7 19.4 .7-4.9 .7-4.2 .7-1.8 .7-2.1 .7 3.7 .7 12.3 .7-3.1 .7-2.6 .7 5 .7 12.9 .7-9.3 .7-.6 .7 11.1 .7-4.5 .7-2 .7-3.3 .7-4.9 .7 2.3 .7 4.1 .7 1.6 .7 3.4 .7 1.3 .7-1.6 .7 .1 .7-6.6 .7-6.1 .7 9.1 .7-2.3 .7 1.7 .7 2.1 .7-5.3 .7 .8 .7 5.5 .7 1.2 .7-4.4 .7 6.3 .7-4.1 .7-4.6 .7 5.6 .7 9.9 .7-14.3 .7 9.8 .7 .9 .7 .3 .7-13.1 .7 15.3 .7-10.8 .7-2.4 .7-.3 .7 4.2 .7-3.4 .7-1.6 .7 7.6 .7-11.6 .7-2.3 .7 9.5 .7-1.1 .7 1.5 .7-12.6 .7 11.1 .7-4.1 .7 6.3 .7-17.4 .7 7.3 .7-3.6 .7-8.1 .7 4 .7 9.3 .7-9.7 .7-2.3 .7 7.8 .7-.3 .7-1 .7-10.8 .7 2.9 .7 4.9 .7-10.4 .7-1.7 .7 7.6 .7 2.8 .7-16.1 .7-9.1 .7 5.1 .7 1.2 .7 3.7 .7 2.9 .7-5.3 .7-4.2 .7 3.5 .7-7.2 .7 3.8 .7-4.4 .7 17.1 .7-11.5 .7-10.4 .7-2.2 .7 1.7 .7-8.2 .7 3.5 .7-1.7 .7 7.1 .7-9.3 .7-4.3 .7-5.5 .7-1.7 .7 3.4 .7-3.6 .7 4.6 .7-12.5 .7 6.5 .7-7 .7-4 .7-13.3 .7 1.8 .7 9.3 .7 1.8 .7-8.2 .7 1.3 .7-8 .7-1.4 .7-3.1 .7 7.6 .7-4.9 .7-4.6 .7-1.9 .7 3.5 .7-2.6 .7-7.7 .7 12.6 .7-9.4 .7-2.8 .7 6.5 .7-4.1 .7-7.7 .7 1.8 .7-10.4 .7 .9 .7-10.4 .7 17.8 .7-18.4 .7 13 .7-9.3 .7-1.6 .7 3.7 .7 2.2 .7 1.8 .7 6.6 .7-7.1 .7 4 .7-6.7 .7 9 .7-1.2 .7-1.2 .7 4.3 .7 2.5 .7 3.8 .7 3.5 .7-2.8 .7 .8 .7 10 .7-11.8 .7 7.5 .7 13.4 .7-22 .7 12.6 .7 9 .7-11.5 .7 24.7 .7-27.1 .7 23.5 .7 2.1 .7-2.1 .7-4.8 .7 4.7 .7-5.4 .7 11 .7-8.9 .7 6.4 .7 8.9 .7-9.7 .7 6.1 .7 5 .7-6.1 .7 15.9 .7-2.3 .7-8 .7 10.3 .7-1.7 .7 2.8 .7 6.2 .7-2.2 .7 11.3 .7-7.2 .7 11.3 .7-3.8 .7 6.9 .7-5.9 .7 2.1 .7-1.7 .7 11.4 .7 3.9 .7 8.4 .7-2.6 .7-3.6 .7-.4 .7 5.5 .7 .1 .7 10.8 .7-.1 .7-6.8 .7 3.9 .7 14.4 .7-2.7 .7 .1 .7 10.8 .7-5.8 .7 3.2 .7 1.4 .7-6.1 .7 17.5 .7-9.4 .7 5.3 .7 .9 .7 9.8 .7-2.7 .7 2.1 .7-7.7 .7 10.3 .7-6.1 .7 11.3 .7 1.7 .7-.7 .7 12.7 .7-6.9 .7 1.7 .7-1.2 .7-.5 .7 7.7 .7 2.1 .7-11.9 .7 14.3 .7-1.6 .7 3.8 .7-1.4 .7-8.1 .7 1.7 .7 17.8 .7-7.4 .7-7.9 .7 10.9 .7-2.8 .7-7 .7-1.4 .7 4.9 .7 11.2 .7-.8 .7-.3 .7 3.7 .7 2.5 .7-14.2 .7 10.4 .7-2.3 .7-1.7 .7 4.3 .7 2.8 .7-.4 .7-6 .7 5.7 .7 14.2 .7-16.5 .7-3.1 .7 11.2 .7 2.1 .7-.4 .7-8.3 .7 11.9 .7-9.4 .7-1.6 .7 3.2 .7 3 .7 4.8 .7-.2 .7-3.2 .7 5.5 .7-4.4 .7 4.8 .7-12.4 .7-.6 .7 13.2 .7-11.6 .7 6.3 .7 1.4 .7-1.8 .7 .5 .7 10.5 .7-21.2 .7 19.1 .7 8.1 .7-12.1 .7 .1 .7 4.5 .7 6.5 .7-16.2 .7 7.4 .7-1.1 .7 4.5 .7-1.8 .7 3.2 .7-5.6 .7 3 .7-3.5 .7 .4 .7 3.3 .7 .4 .7-5.2 .7 15.5 .7-9 .7-6.4 .7 14.1 .7-9.7 .7 7.3 .7-2.4 .7 1.9 .7 0 .7-3.7 .7 3.9 .7 11.4 .7-23 .7 13.1 .7 2.5 .7-7.7 .7-1.2 .7 19.9 .7-13.4 .7 13.9 .7-7.9 .7-2 .7 2.7 .7 1.5 .7 3.6 .7-3.4 .7-1 .7 .8 .7 7.2 .7-2.3 .7-9.2 .7 2.7 .7 6 .7-4.5 .7 2.1 .7-2.5 .7 4.6 .7 4.5 .7 3.8 .7-4.7 .7 12.1 .7-11.2 .7 18.7 .7-11.4 .7-2.1 .7-4.9 .7-12.2 .7 15.3 .7 2.3 .7 10.1 .7-17.6 .7 18.5 .7-11.5 .7 5.8 .7-17.6 .7 15 .7-2.4 .7 6 .7-3 .7-6.5 .7 11.7 .7-1.1 .7-.3 .7 2.6 .7 .7 .7-5.9 .7-7.1 .7 .1 .7 15.2 .7-3.2 .7-3.2 .7-2.7 .7 2.8 .7 .1 .7-1.8 .7-1.8 .7 16 .7-10.5 .7-4.5 .7-3.6 .7 3.3 .7 8 .7 .4 .7-5.3 .7 1.6 .7-1.9 .7-4.3 .7 13.3 .7-5.1 .7 11.6 .7-17.8 .7 3.4 .7 5.6 .7-6.3 .7-6.4 .7 2.3 .7 5.6 .7 1.1 .7-2.6 .7 5.8 .7-.4 .7-4 .7-2 .7-1.9 .7 4.1 .7 1.6 .7-5.1 .7 1.7 .7-4.6 .7-6.4 .7 1.8 .7 9.3 .7-2.2 .7 5.8 .7-8.9 .7 4 .7 2.1 .7-2.2 .7-9.2 .7 1.9 .7 1.3 .7-6.5 .7 7.7 .7 2.7 .7-8.6 .7 13.2 .7-12.7 .7 .2 .7-.4 .7-2.8 .7 6.1 .7-2.3 .7 8.9 .7-5.9 .7-.5 .7-4.3 .7-6.6 .7 7.2 .7-4.3 .7 9.9 .7-5.5 .7 9.3 .7-5.2 .7 .5 .7-3.4 .7-.2 .7 2.4 .7 1.5 .7-9.1 .7 6.6 .7 11.7 .7-15 .7-.9 .7-2.5 .7-4.2 .7 14.5 .7-6.3 .7 1.3 .7 8.4 .7 3.6 .7-18.7 .7 10.6 .7-2.4 .7-1.3 .7 .4 .7-2.8 .7 8.7 .7-5.4 .7-1.6 .7 4.9 .7-2 .7-2.5 .7-.8 .7 7.7 .7-7 .7-3.4 .7-4.4 .7 2.6 .7-4.3 .7 6 .7 .4 .7-13.2 .7 10.8 .7 2.9 .7-3.2 .7-6.8 .7 11.6 .7-11.4 .7-3.5 .7 .3 .7 5.3 .7 5 .7 .6 .7-5.7 .7-8 .7 2.7 .7-1.5 .7 3.9 .7-8.7 .7 10.5 .7 3.1 .7-4.1 .7 3.6 .7-7.3 .7-2.4 .7 5 .7 10.4 .7-.2 .7-7.6 .7 9.8 .7-7.8 .7 10.7 .7-5 .7-4.4 .7 7.5 .7-8 .7-.3 .7-2.2 .7 10 .7-1.2 .7 .4 .7-1.4 .7 10.6 .7-9.9 .7-1.3 .7 11.1 .7 1.2 .7-5.8 .7-11.2 .7 6.4 .7 6.9 .7-3.1 .7 8.6 .7-15.9 .7 11.4 .7-7 .7 10.9 .7-7.6 .7 6.2 .7-9.1 .7-4 .7 1.7 .7 2.9 .7-2.2 .7 12.4 .7 .9 .7-5.8 .7-7.1 .7 5.2 .7-3 .7 11.8 .7-6.1 .7 1.1 .7-4.8 .7-8.8 .7 7 .7-1.8 .7 8.3 .7-1.4 .7-4.8 .7 2.4 .7 10.9 .7-13.7 .7 .4 .7 3.9 .7-2.4 .7 1.6 .7 5.5 .7 6.8 .7-19.1 .7 9.9 .7 .6 .7-.4 .7-.4 .7-.5 .7 7.6 .7-7.8 .7 2.1 .7 1 .7 .9 .7-1.3 .7 6.8 .7-5.3 .7 1.3 .7-1 .7-4.9 .7 1.2 .7-1 .7 7.1 .7-4.7 .7-1.7 .7 7.4 .7 1.8 .7-12.3 .7 19.1 .7-8.9 .7-.6 .7 6.6 .7-5.3 .7-3.6 .7 15.5 .7-17.9 .7 5.5 .7 5.2 .7-10.5 .7 5.3 .7 2.7 .7 11 .7-18.2 .7 4.6 .7 3.7 .7-3.3 .7-7.2 .7 8.6 .7-1.8 .7 1.6 .7 3.5 .7-.9 .7-3.6 .7-.8 .7-8 .7 5 .7 1.6 .7-3.7 .7 2.4 .7-5.4 .7 12.7 .7 3.1 .7-14.3 .7 4 .7-3.8 .7 8 .7-4.9 .7-2.2 .7-1.9 .7 1.7 .7-6.4 .7 9 .7-7.9 .7 6.7 .7-2.3 .7 5.1 .7-6.2 .7 5.7 .7-10.8 .7 8.5 .7-4.6 .7 2.3 .7-.7 .7 4.8 .7-16.2 .7 12.9 .7-10 .7 14.9 .7-17.4 .7 5.4 .7-3.6 .7 18.3 .7-16.1 .7 7.8 .7-3.5 .7-6.8 .7 8.1 .7 5.6 .7-4.5 .7 6.3 .7-7.1 .7 2.2 .7-2.1 .7 4.2 .7 8.6 .7-8.3 .7-.7 .7-4.4 .7-.6 .7 12.4 .7-14 .7 1.2 .7 4.8 .7-1.5 .7 13.6 .7-23.2 .7 15.6 .7 2.7 .7-9.3 .7 3.4 .7 6.9 .7 7.5 .7-13 .7-2.6 .7 15 .7 4.1 .7-9.1 .7-9.3 .7 21.2 .7-8 .7 8.3 .7-5.5 .7-.9 .7 .5 .7 11.4 .7 .6 .7-19 .7 7.3 .7 15.4 .7-11.3 .7-5.1 .7 7.9 .7-.2 .7 .4 .7-1.7 .7 1.3 .7-.4 .7 4.6 .7-5.9 .7 3.2 .7 1.1 .7 8.3 .7-4.9 .7-2.3 .7 3.8 .7-.4 .7 4 .7-2.9 .7 7.3 .7-2.2 .7-7.4 .7-1.8 .7 7.4 .7-1.8 .7-3.1 .7-7.4 .7-1.7 .7 12.2 .7 2.6 .7 .4 .7-11.3 .7 13 .7-8.4 .7 5.3 .7 .3 .7-6.4 .7 1.4 .7-8 .7 6.6 .7-4.6 .7 12.5 .7-1.8 .7 4.9 .7-2.8 .7-5.3 .7 5.6 .7-3.8 .7 5.7 .7-1.4 .7-7 .7 5.7 .7 .5 .7-1.8 .7 6.8 .7 4.7 .7-11.3 .7 .3 .7-10.2 .7 11.8 .7-1.5 .7-9.3 .7 13.7 .7 1.8 .7-7.1 .7 2.2 .7-3.1 .7 9.7 .7-12.3 .7 6.8 .7 12.6 .7-10.2 .7 2.5 .7-3.2 .7-5.5 .7 6.5 .7 2.6 .7-7.7 .7 7.8 .7 5.1 .7-.7 .7-14.4 .7 3.6 .7-3.3 .7 14.9 .7-2.3 .7 .8 .7-8.5 .7-1.4 .7 7.1 .7 .4 .7-5 .7 5.7 .7 3 .7-2.1 .7-6.7 .7-5.7 .7 10.5 .7 2.5 .7-2.1 .7-.7 .7-1.2 .7 8 .7-4 .7 1.2 .7-5.8 .7 2.1 .7 4.6 .7-6.2 .7-1.2 .7 5.3 .7 8.6 .7-5.3 .7 7.2 .7-8.6 .7-.8 .7-5.8 .7 4.7 .7 11.3 .7-6 .7 2.4 .7 0 .7-3.7 .7-.9 .7 1.9 .7 3.3 .7-1 .7 .3 .7-1.7 .7-4.9 .7 3 .7-3.5 .7 10.8 .7-16.9 .7 10.6 .7 14.5 .7-14.9 .7-4.2 .7 6.3 .7 7.4 .7-7.8 .7 4.4 .7-2.7 .7-2.4 .7 19.5 .7-16.8 .7-3.3 .7 .4 .7 4.9 .7 .3 .7 2.1 .7-3.4 .7-8.6 .7 10.9 .7-4.6 .7 .2 .7-6.5 .7 5 .7-.8 .7 3.8 .7-7.8 .7 8.3 .7 .3 .7-6.9 .7 2.7 .7-1.4 .7 9.6 .7-19 .7 11.9 .7-7.4 .7 6.6 .7 6.9 .7-8.3 .7 4 .7-5.5 .7 15.1 .7-5.9 .7 1 .7-13.7 .7 1.1 .7 11.8 .7-7.2 .7-.6 .7 3.1 .7-8.9 .7 10.9 .7-4.3 .7 2.4 .7-6.5 .7 6.3 .7-6.8 .7 9 .7 .8 .7-1.3 .7-2.3 .7 .6 .7-18.5 .7 19.4 .7-6.1 .7 2 .7-2.1 .7-6 .7 4.8 .7 6.7 .7 4.3 .7-11.1 .7-1.3 .7 13.2 .7-12.6 .7 16.5 .7-10.8 .7-4.8 .7 10.6 .7 4.3 .7-16.8 .7 16.8 .7-9.7 .7 10.2 .7-9.8 .7-6.2 .7 11.9 .7 2.8 .7 6.9 .7-1.6 .7-5.2 .7-4.6 .7-1.1 .7 1.7 .7-2.5 .7 3.5 .7-12 .7 15.4 .7-.7 .7 14.7 .7-9.6 .7-6.4 .7 6.1 .7-9.5 .7 3.8 .7-6.7 .7 18.5 .7-4.3 .7-9.5 .7 6.4 .7 5.9 .7-2.3 .7-.3 .7-6.6 .7 1.5 .7 4.3 .7 4.8 .7-9.3 .7-1.4 .7 12.7 .7-11.1 .7 11.3 .7-4.3 .7 3.7 .7 5 .7-5.6 .7 .8 .7-9.1 .7 1.4 .7 7.6 .7 5.2 .7-.6 .7 5.3 .7-10.8 .7-.4 .7 4.7 .7-5.3 .7-.2 .7-5.2" stroke="#f00" class="cv"/>
<path d="M144.5 422.0l.7 104 .7 72.9 .7 26.8 .7 35.7 .7 1.1 .7 17.8 .7-8.2 .7 9.6 .7 11.2 .7-9.3 .7 6.1 .7-1.9 .7-9.1 .7 15.3 .7 1.5 .7-7.6 .7 10 .7-6.7 .7-.3 .7 6.3 .7-2.9 .7 17.1 .7-20.4 .7 13.5 .7 2.1 .7-15.5 .7 2.2 .7 13.4 .7-4.9 .7 5.5 .7 5 .7-7.5 .7-3 .7-8.4 .7 17 .7-5.4 .7 7.7 .7 .5 .7-7.8 .7 18.1 .7-2.5 .7-.2 .7-10.1 .7 5.4 .7 .3 .7 1.8 .7-2.9 .7 9.6 .7-.2 .7 1.7 .7-4 .7 10.7 .7-5.4 .7-15.4 .7 12.1 .7 3.6 .7 6 .7-6.8 .7 .4 .7-2.3 .7 7.3 .7-6.2 .7-.9 .7-.9 .7 7.1 .7-6.2 .7-6.4 .7 12.4 .7-7.5 .7 5.6 .7-.1 .7 4.3 .7-1.2 .7-9.2 .7 2 .7-6.5 .7 16 .7-7.2 .7 4.9 .7-9.8 .7-9.8 .7 19.3 .7-8.3 .7-.2 .7-.8 .7 2.8 .7-1 .7-12.1 .7 14.3 .7-9.3 .7 0 .7 11.6 .7-4.8 .7-7.4 .7-8.7 .7 10.7 .7 1.6 .7-3.8 .7-7 .7 2 .7-3.2 .7 7.5 .7 2.6 .7 .4 .7-10.4 .7 4.6 .7 1 .7-6.7 .7 1.2 .7 11.6 .7-11.4 .7 2.9 .7-8.1 .7 1.8 .7-10.5 .7 8.5 .7 5.9 .7 4.2 .7-5.8 .7-3.5 .7-4.2 .7-4.3 .7 1.8 .7 3.6 .7-8.2 .7 8.9 .7-11 .7-4.8 .7 3.9 .7-3.9 .7 1.4 .7 13.6 .7-7.4 .7 2.3 .7 5.2 .7 .7 .7-9.5 .7 10.3 .7-5 .7-1.8 .7 2.8 .7-9.9 .7 3.9 .7 4.2 .7 4.4 .7-4.9 .7 1.9 .7 6.5 .7 3 .7-3 .7 3.3 .7-8.6 .7 1.1 .7 4 .7-2.9 .7-.5 .7 12.4 .7-9.7 .7-3.7 .7 8.5 .7 7.8 .7-9.2 .7 6.7 .7-8.8 .7 0 .7-.8 .7 3.2 .7 11.1 .7-16.3 .7 15.4 .7-14.5 .7 4.2 .7 5.9 .7-1.2 .7-2 .7-10.6 .7 11 .7-7.7 .7 19.6 .7-15.3 .7 2.1 .7-7.5 .7 3.6 .7-4.6 .7 12.3 .7-6.9 .7 4.4 .7-7.1 .7 .9 .7 9.7 .7-12.6 .7-4.8 .7 12 .7-8.7 .7 3.7 .7 7.2 .7-9.7 .7 9.2 .7-8.8 .7 11.7 .7-1.1 .7-10 .7 1.2 .7-3.6 .7 5.5 .7 5 .7-14.5 .7 12.8 .7-12.5 .7 2.4 .7-5.3 .7 21.2 .7-11.4 .7 .8 .7-5.2 .7 9.4 .7-17.7 .7 11.6 .7 11.8 .7-14.5 .7 2 .7 3.5 .7-8.4 .7 4.4 .7 5 .7-4.5 .7 .8 .7-4.2 .7 3.5 .7-1.7 .7 7.5 .7-4.2 .7-5.6 .7-12.3 .7 17.1 .7 0 .7-9.4 .7-6.2 .7 4.4 .7 11.2 .7-11.3 .7 3.1 .7 3.5 .7 5.2 .7-7.1 .7-.8 .7-2.7 .7 11.7 .7-3.5 .7-6.7 .7-7.5 .7 3 .7 7.2 .7-7.5 .7 8.5 .7-3.3 .7-.7 .7 1.5 .7-1.3 .7-7.9 .7 2.3 .7 14.1 .7-20.1 .7 3.4 .7 7.8 .7-7.4 .7-4.3 .7-3.6 .7 9.5 .7 2 .7 1.3 .7-8.2 .7 4.7 .7-12.2 .7 5.9 .7-5.4 .7 3.9 .7 2.5 .7 1.1 .7-12.1 .7 11.8 .7-10.2 .7-3.7 .7 4.1 .7-7.7 .7 7.5 .7 .9 .7-3.3 .7 3.5 .7-5.3 .7 1.2 .7-8.6 .7 7.6 .7-5.5 .7 1.6 .7 1.4 .7 1 .7-10.7 .7-.1 .7 6.3 .7 3.7 .7-1.2 .7 2.4 .7 1.7 .7-5 .7-3.4 .7-6.1 .7-.1 .7 2 .7 3.5 .7-.8 .7-1.7 .7-1.5 .7 3.8 .7-2.9 .7-.1 .7-.5 .7-5.2 .7-3.2 .7 7.8 .7-1 .7-4 .7-1.7 .7 14.3 .7-17.3 .7 2.5 .7 2.1 .7-8.4 .7 6.5 .7 8.7 .7-5.3 .7-2.2 .7-.8 .7-3.1 .7 4.1 .7-6.7 .7-2 .7 2.4 .7 3.9 .7-3.7 .7 1.3 .7-15.3 .7 17.1 .7 5.8 .7-6.1 .7-9.6 .7-3.4 .7 5.6 .7-7.4 .7 8.8 .7-7.4 .7 7.7 .7 1.7 .7-19.2 .7 12.2 .7-6 .7-4.4 .7 3.8 .7 1.7 .7 6.3 .7-14.6 .7 13.6 .7 4.8 .7-8.4 .7-.8 .7-3.6 .7-6.9 .7 8.8 .7-1.3 .7 1.4 .7 9.6 .7-10.7 .7-2.2 .7 5.8 .7-16.5 .7 .6 .7 3.7 .7-2.1 .7 6.9 .7-6.1 .7 10.8 .7-1.7 .7-4.7 .7-6.9 .7 4.9 .7 .5 .7-10.9 .7 7.1 .7 1.4 .7-3.4 .7 6.8 .7-2.6 .7-11.9 .7 4.4 .7-6.2 .7 6.8 .7-9 .7 8.8 .7-4.2 .7 2 .7-7.3 .7-8.5 .7 16.4 .7-11.9 .7 7.3 .7-6.4 .7 .1 .7 5.2 .7-9.2 .7 4.8 .7-16.8 .7 12.1 .7-6.8 .7-.1 .7 .3 .7 1.5 .7 7.1 .7-19.4 .7 10.5 .7-4 .7 10.5 .7-8.5 .7 5.2 .7-4.3 .7 6.2 .7 2.4 .7-7.3 .7 3 .7-7.5 .7 10 .7 3.6 .7-7.1 .7 9.8 .7-17 .7 1.8 .7 3.2 .7 5.5 .7 3.3 .7 0 .7 .5 .7 4.8 .7-6.2 .7-4 .7 .4 .7 18.7 .7-24.4 .7 12.1 .7 9 .7-5.4 .7-7.2 .7 4.5 .7 4.7 .7 1.9 .7-11.7 .7 9 .7-2.9 .7 4.6 .7 1.5 .7-9.7 .7-6.2 .7 10 .7 7.4 .7-6.2 .7-2.6 .7 11.7 .7-19.1 .7 10.5 .7-8.3 .7 3.2 .7 0 .7 7.7 .7-13.7 .7 2 .7-6.1 .7 11.3 .7-5.5 .7 4.7 .7-8.5 .7 3.7 .7 7.4 .7-6.9 .7 4.1 .7-.9 .7-5.2 .7-6.9 .7 13.6 .7-4.8 .7 4.1 .7-16.9 .7 1.5 .7-3.1 .7 6.5 .7 10.1 .7-3.1 .7-3.8 .7 .4 .7 3 .7-6.4 .7 3.3 .7-2 .7-13.4 .7 9.3 .7 8.9 .7-10.3 .7 .7 .7-3.4 .7-.3 .7 7.8 .7-8.8 .7-5.3 .7-12.8 .7 12.6 .7-9 .7-.7 .7 12.9 .7-2 .7-16 .7 13.6 .7-3.7 .7-8.5 .7 6.7 .7-14.6 .7 .7 .7-3 .7 .2 .7 9.4 .7-13.7 .7-.6 .7-.3 .7 4.8 .7-4.3 .7 5.3 .7-9.9 .7-4.4 .7 3.1 .7 1.8 .7-6.4 .7 5.5 .7 7.4 .7-14.3 .7 2.4 .7 6.2 .7-12.1 .7-2.2 .7-2.4 .7 7.1 .7-.5 .7-4.8 .7-.1 .7 5.5 .7-3.5 .7-13.8 .7 6.3 .7-.8 .7 1.9 .7-6.8 .7-4 .7-.7 .7-9.1 .7 7.6 .7-5.8 .7 3 .7-11.3 .7 .3 .7-5.7 .7-2.9 .7 7.4 .7-8.6 .7 2.8 .7-10.7 .7 4.6 .7-11.9 .7 4.6 .7-2.3 .7 3.8 .7-4.4 .7-4.3 .7 3.1 .7-6.2 .7-.9 .7-1.7 .7-7.7 .7-4.6 .7 0 .7-7.6 .7 .8 .7 .3 .7-5.1 .7-10.4 .7-8.7 .7 3.1 .7-4 .7 3.3 .7-11.6 .7-2.5 .7 1.2 .7-10.8 .7-2.5 .7 6 .7-5.3 .7-8.6 .7-5.5 .7-9.7 .7 6.1 .7-4.3 .7 .3 .7-4 .7 3.1 .7-.4 .7 3.5 .7 7.1 .7-4.7 .7-9.9 .7 5.2 .7-1.9 .7 5.9 .7 9.1 .7 .8 .7-3.5 .7 7.3 .7-2.4 .7 0 .7 4 .7 7.1 .7 16.7 .7-11.1 .7 18 .7 4 .7-4.8 .7 4.4 .7 .6 .7 7 .7 7.3 .7-.2 .7 8.4 .7 3.6 .7-2.6 .7 1.4 .7-.8 .7 3.5 .7-6.8 .7 9.4 .7-.1 .7-5.1 .7 17.2 .7-16.7 .7 .7 .7 6.3 .7-12.6 .7 5.7 .7-4.9 .7 1.9 .7 3.3 .7 .9 .7 2.6 .7-3.4 .7 .1 .7-5.4 .7-7.9 .7 6.5 .7-11 .7-3 .7 9.2 .7-7.2 .7-6.7 .7-1.1 .7-3.5 .7-16.8 .7 2.2 .7-10.7 .7 2.2 .7-9.2 .7 6.4 .7-9.3 .7-11.9 .7-.3 .7-11.4 .7 2 .7-2.2 .7-6.6 .7-17.1 .7 3.7 .7-.4 .7-6.2 .7-.3 .7-18.4 .7 5 .7-11.7 .7-.6 .7-4.1 .7-3.8 .7-12.2 .7-1 .7-12.4 .7-6.1 .7 6.3 .7-7.6 .7-12.4 .7 .6 .7 1 .7 4.6 .7-6.5 .7-5.1 .7-17.7 .7 6.1 .7 .3 .7-2.9 .7-1.7 .7-4.9 .7 10.4 .7-1.4 .7-7.5 .7-3.1 .7 19.1 .7-11.4 .7 12.9 .7 7.3 .7-12.1 .7 10.2 .7-.2 .7 8.2 .7 3.2 .7 13.7 .7-2.3 .7 1.9 .7 11.5 .7-2.8 .7 4.1 .7 18.2 .7-13.8 .7 3.9 .7 3.8 .7-6.1 .7-5.9 .7 17.2 .7-10.4 .7 1 .7 .5 .7-3.8 .7-.9 .7 6.3 .7 11.9 .7-9.6 .7-.3 .7-12.8 .7 7.9 .7-6.6 .7 10.6 .7-5.6 .7 1.7 .7-.1 .7-1.7 .7-3.9 .7 13.1 .7-9.1 .7 3 .7 6.8 .7-.2 .7 7.3 .7 6.5 .7-1.5 .7 2.9 .7 2.5 .7 8.2 .7-11 .7 16.1 .7-3.1 .7 2.4 .7 10.8 .7 1.7 .7 9 .7 6.7 .7-14.9 .7 16.4 .7 15.3 .7-1.9 .7 7.3 .7-3.4 .7-4.6 .7 5.4 .7 13.5 .7 4.5 .7-6.5 .7 5.2 .7 5.3 .7-8.8 .7 9.8 .7 12.9 .7 5.1 .7-10.7 .7 12.6 .7-11.1 .7 .4 .7-5.9 .7 19.6 .7-5.1 .7 17.2 .7-8.7 .7 1.5 .7-8.6 .7 20.6 .7-8 .7 3.3 .7-9.2 .7 19.1 .7 2 .7-7.3 .7 5.1 .7 2.9 .7 4.4 .7-3.4 .7 10.1 .7-9.6 .7-.9 .7 1.9 .7-10.3 .7 10.5 .7 10.9 .7-3.2 .7-5.2 .7 7.2 .7-12.4 .7 10 .7 4.9 .7 1.2 .7-7.9 .7 9.4 .7 5.3 .7-12.6 .7 6.4 .7-12.6 .7-2.2 .7 14.2 .7-3.1 .7 .9 .7-4.3 .7 1.6 .7 6.1 .7 5 .7-10.6 .7-7.9 .7 16.1 .7-3.7 .7 .5 .7-2.7 .7 11.8 .7-12.3 .7 2.4 .7-13 .7 7.1 .7-.5 .7 3.7 .7 2.4 .7-5.7 .7 14.1 .7-14.9 .7 4 .7 4.5 .7-7.5 .7 10.7 .7 1.1 .7-4.3 .7 12.9 .7-9.3 .7 1.9 .7-6.1 .7-3 .7 6.7 .7 2.8 .7 .5 .7 7.9 .7-16.1 .7 8.1 .7-2.7 .7 18.5 .7-9.6 .7 1.1 .7-2.6 .7 11.5 .7-7 .7 3.7 .7-12.3 .7 17.8 .7-4.2 .7 1 .7 3.9 .7-7.7 .7 .2 .7 5 .7-1.5 .7-3.6 .7 1.6 .7-2.9 .7 6.7 .7 1.3 .7-5.1 .7 10.4 .7-18.8 .7 7.1 .7 10.8 .7-11.8 .7-6.5 .7 16.4 .7-4.7 .7-9.6 .7 10.7 .7-10 .7-1.8 .7 6.5 .7-1.9 .7-3.6 .7 4 .7-3.7 .7 5.8 .7-.6 .7 4.1 .7-6.8 .7-4.9 .7-.1 .7 5.8 .7 9.6 .7-3.9 .7-8.4 .7 8.5 .7-11.8 .7 11.7 .7-8 .7 6.1 .7-1.1 .7-5.3 .7 2.9 .7-8.1 .7 5.1 .7 5.9 .7 16.1 .7-19.4 .7-4.4 .7-7.6 .7 9.7 .7-17.1 .7 2.5 .7 4 .7-11 .7 12.7 .7-4.8 .7-11.4 .7-1.8 .7-5.9 .7-2 .7 8.7 .7-.4 .7-2.8 .7-1.8 .7-5.9 .7 3.8 .7-11.4 .7 6.8 .7 6.7 .7-2.3 .7-11.5 .7-.9 .7 7.8 .7 .5 .7-19.9 .7 4.1 .7 1.8 .7 3.5 .7-13.3 .7 6.3 .7-7.2 .7 12.9 .7-12.7 .7-5.2 .7-3.1 .7 5.5 .7-4.2 .7-11.9 .7 5 .7-10.7 .7 1 .7-5.1 .7-2.2 .7 1.5 .7-3.6 .7 6.2 .7-.7 .7-8 .7-7.2 .7 8.2 .7-18.1 .7-1.8 .7 12.3 .7-2.5 .7-.3 .7-8.5 .7-7.4 .7 2.7 .7 4.8 .7-8.2 .7-.1 .7-3.9 .7 1.3 .7 11.3 .7-1.9 .7-8.6 .7 .8 .7 3.3 .7 6.7 .7-9 .7 6.1 .7-10.3 .7 5.6 .7 9.9 .7 3.3 .7-10.7 .7 2.8 .7 9.4 .7-5.8 .7 0 .7 6.8 .7-.8 .7 6.1 .7-.7 .7-6.4 .7 3.7 .7 1.5 .7-5.9 .7 3.4 .7 12 .7-12.8 .7 15.6 .7-2.4 .7-.7 .7 5.5 .7 1.4 .7 5.9 .7-7 .7 2.8 .7 1.8 .7 13.7 .7-3.3 .7-8.5 .7 5 .7-.3 .7 5.6 .7 2.6 .7 13.1 .7-21.3 .7 17.3 .7-1.8 .7-4.8 .7 4.5 .7-.5 .7 4.5 .7 6.8 .7-12.5 .7 17.2 .7-7.8 .7 12 .7-4.4 .7 6.2 .7-2 .7 4.5 .7-4 .7-3.1 .7 10 .7 2 .7 9.4 .7-20.8 .7 11.7 .7 8.8 .7-10.9 .7 7.5 .7 14.8 .7-1.9 .7-10.7 .7 14.7 .7 .7 .7-.1 .7-.1 .7 1.3 .7-4 .7 4 .7 8.9 .7-1.2 .7 11.4 .7-10.1 .7-9.5 .7 13.2 .7 5.2 .7 2.5 .7 .1 .7-3.1 .7 14.6 .7-10.2 .7 9.4 .7-3.8 .7-3.4 .7 16.1 .7-20.1 .7 10.7 .7 8.5 .7-2.9 .7 7.5 .7-3.4 .7-.6 .7 15.6 .7-11.8 .7 1.5 .7-3.9 .7 3 .7 8.9 .7 .6 .7-2 .7-2.9 .7 8.7 .7-12.2 .7 8.5 .7 1.4 .7-2.3 .7 6.4 .7-3.6 .7 .1 .7 15.2 .7-5 .7 3.3 .7-5.5 .7 5.8 .7-.2 .7 3.1 .7 7 .7-13.6 .7 3.3 .7-1 .7-18.5 .7 12.2 .7 8.4 .7 3.9 .7-6.1 .7 10 .7 1.3 .7-8.8 .7 10.6 .7 2.3 .7-6.6 .7-7.5 .7 13.9 .7-8.5 .7-.7 .7 3.1 .7-3.1 .7 9.2 .7-1.2 .7 2.8 .7-3.1 .7-7.2 .7 3.9 .7 6 .7-6.7 .7 18.6 .7-17 .7-1.6 .7 9.8 .7-1.9 .7-4 .7-.8 .7 3.8 .7 2.5 .7-.1 .7-5.7 .7 4.3 .7 2.5 .7-.2 .7-21 .7 12.3 .7 .9 .7 3.2 .7 2.5 .7 4.3 .7-1.4 .7-3.9 .7 1.1 .7 9.8 .7-12.8 .7 5.3 .7 7.3 .7-6.5 .7-12.8 .7 13.6 .7-3.8 .7 1.8 .7 6.8 .7-2.8 .7-3.7 .7 6.8 .7-2 .7-1.3 .7 1.6 .7 .3 .7-2.6 .7-.1 .7 3.4 .7-4.7 .7-1 .7 14.8 .7-7.7 .7 1.9 .7 .2 .7 1.6 .7 .8 .7 1 .7-4 .7 10.4 .7-8.2 .7 10.3 .7-15.5 .7 5.5 .7 12 .7-5.5 .7-2.2 .7 6.5 .7-7.1 .7 6.8 .7-12 .7 10.3 .7-.5 .7 7.2 .7 2.5 .7-8.9 .7 14.2 .7-11.4 .7-7.4 .7-1.1 .7 22.3 .7-8.3 .7-2.4 .7 .1 .7-1.2 .7 14.1 .7-7.3 .7 11 .7-10.4 .7-11.2 .7 18.1 .7-6.2 .7 1.3 .7 10.3 .7-9.6 .7 8.2 .7-6.1 .7-3.8 .7 7.2 .7-5.9 .7 10.2 .7-1.4 .7-5 .7 3 .7-.2 .7-4.7 .7 6.3 .7-6.2 .7 4.5 .7-8.7 .7 5.6 .7 1.6 .7-6.8 .7 1.9 .7-.9 .7 6.8 .7-8.2 .7 6.2 .7 5.7 .7-6.6 .7-11.1 .7 9.4 .7 4.8 .7-7.6 .7 7.5 .7-2.9 .7-1.3 .7-4 .7-1.6 .7 1.2 .7 1.5 .7 2.4 .7-.8 .7-4.1 .7 1.8 .7 1.7 .7-11.2 .7 4.6 .7-.3 .7 3.2 .7-.5 .7 0 .7-3.5 .7 8.4 .7-2.2 .7-10.7 .7 9.1 .7-6.4 .7 15.5 .7-11.9 .7 .2 .7 2.6 .7-1.6 .7 .7 .7 8.8 .7-7.4 .7 3.3 .7 1.6 .7-11.6 .7 14.5 .7-5.5 .7 1.4 .7-10.1 .7 9.2 .7-2.3 .7-5.3 .7 15.5 .7-9.5 .7-4.5 .7 2.3 .7 3.9 .7 1.1 .7-3.1 .7 3.4 .7 1.3 .7-14.9 .7 4 .7-2.6 .7 5.6 .7 7.3 .7-4.4 .7-9.5 .7 4.1 .7 7.1 .7-8.7 .7 2.2 .7 2 .7-11.8 .7 14.1 .7-2.7 .7 1 .7-8.7 .7 .9 .7 .7 .7 4.4 .7-1.3 .7 0 .7 8.9 .7-3 .7-11.4 .7 .1 .7 12.7 .7-11.5 .7 9 .7 1 .7-12.1 .7 1.2 .7 1.6 .7-5.4 .7-.9 .7 2.9 .7 6.6 .7-7.4 .7 1.1 .7-1.7 .7-5.1 .7 15.4 .7-21.2 .7 9.1 .7 6.5 .7-10.9 .7 10.9 .7 3.5 .7-11.7 .7 5.8 .7-7.3 .7 8.9 .7-2.3 .7 .7 .7 6.4 .7-4.8 .7 4.9 .7-3.8 .7-10 .7 8.2 .7 1.4 .7-10.5 .7 15.5 .7-6.8 .7 1.8 .7-6.7 .7 5.5 .7 1.5 .7-3.2 .7 2.4 .7-11.8 .7 19.3 .7-13.4 .7-5.6 .7 6.9 .7 .9 .7 7.8 .7-7.8 .7 6.8 .7-6.6 .7 17.6 .7-9 .7 8 .7-16.2 .7 9.5 .7-8.8 .7 8.7 .7 .8 .7-12.3 .7 2.7 .7 0 .7-1.6 .7 4.5 .7-1.1 .7-2.4 .7 8.7 .7 2.7 .7-10 .7 4.4 .7 3.3 .7-1.1 .7-2.4 .7 8.6 .7 .4 .7-.7 .7-4.7 .7 12.3 .7-1.1 .7-11.6 .7 1.7 .7 7.4 .7-10.7 .7 6.8 .7-1.8 .7-3.9 .7 2.8 .7-7.2 .7 5.8 .7-7.8 .7 23.7 .7-4.1 .7-1.3 .7-4.9 .7 4 .7 1.7 .7-1.3 .7-.3 .7-9.9 .7 7.6 .7-5.1 .7-3.4 .7 .4 .7 8.8 .7 3.7 .7-13.2 .7 17.3 .7-1.3 .7-10 .7-.3 .7 2.3 .7 6 .7-7.3 .7-3.9 .7 8.2 .7-13.1 .7 12.2 .7 5.8 .7-4.6 .7 2.7 .7-1.4 .7 1.4 .7-3.2 .7-5.2 .7 3.4 .7 .9 .7 7.3 .7 2.1 .7-6.6 .7-6.4 .7 .1 .7 3 .7 8.6 .7-5.8 .7-2.2 .7-3.9 .7 9 .7-3.3 .7-2 .7 .8 .7 8.6 .7-10.2 .7 10.1 .7-2.6 .7-6.6 .7 4.5 .7-5.6 .7-4 .7 3 .7-3.7 .7 7.7 .7-2.8 .7 3 .7 1.3 .7-21.8 .7 18.8 .7-11.8 .7 10.8 .7-5.9 .7 5.4 .7 6.8 .7-17 .7 10.4 .7-1.5 .7-10.1 .7 14 .7-3.4 .7-3.1 .7-1.2 .7 21.7 .7-19.9 .7-7.7 .7 4.8 .7 3.2 .7-.1 .7 1.8 .7-5.3 .7 8.9 .7-5.6 .7-4.7 .7 3.2 .7 2.5 .7 6.9 .7-1.8 .7-4.3 .7 2.1 .7 1.3 .7 10.2 .7-14.4 .7 6.2 .7 1.7 .7-9 .7 6.5 .7 .1 .7-3.2 .7 5.9 .7 2.8 .7 .9 .7-7 .7 2.3 .7 12.2 .7-18.7 .7 7.5 .7 4 .7-3.8 .7 3.1 .7-2.4 .7 3.5 .7 3.1 .7-8 .7 2.6 .7-1.1 .7-1.6 .7 2.4 .7-5.8 .7 10.7 .7 5.6 .7 .4 .7-2 .7-12 .7 14.1 .7-11.9 .7 4.1 .7 10.8 .7-15.6 .7 11 .7-2.7 .7-1.9 .7-3.5 .7 7.6 .7-4.5 .7 8.8 .7 1.5 .7-13.9 .7 5.3 .7 1.5 .7-4.3 .7 .8 .7 7.2 .7-1.2 .7-7.5 .7 6.6 .7 6.3 .7-9 .7 2 .7 14.3 .7-1.1 .7-15.7 .7 2 .7 9.9 .7-8.2 .7 5.6 .7-.7 .7 6 .7-16.5 .7 2.2 .7 5.9 .7 12.7 .7-5.9 .7-8.1 .7 12.5 .7 1.7 .7-4.8 .7 0 .7 4.7 .7 4.7 .7-5.4 .7 2.6 .7-2.8 .7-1.4 .7-2.5 .7 6.9 .7-2.6 .7 .8 .7 6.9 .7-2 .7 2.5 .7-13 .7 12.2 .7-5.9 .7-.8 .7 .1 .7 11.8 .7-1.7 .7-8.1 .7-2 .7 6.7 .7-2.2 .7 12 .7-16.8 .7-1.7 .7 9 .7 1.8 .7 1 .7 3.7 .7 7.6 .7-12.9 .7-.8 .7-6.3 .7 11.3 .7 3.7 .7-5.8 .7 8.3 .7-6 .7 8.5 .7-6.2 .7-7.3 .7 2.6 .7-4.6 .7-.8 .7 11.3 .7 3.6 .7 6.3 .7-10.8 .7-.7 .7-4.6 .7 11.8 .7-3 .7-5.2 .7 7.3 .7-.4 .7-13.2 .7 14.6 .7-3.2 .7-2.7 .7 .1 .7 12 .7-1 .7 1.8 .7-16.3 .7 2.9 .7 8.7 .7-11.5 .7 2.8 .7-5.9 .7 20.2 .7-4.2 .7-3.2 .7-1.2 .7-3.4 .7 .2 .7 5.7 .7-7.2 .7 10.8 .7-9.4 .7-2 .7 12 .7-7.8 .7 3.9 .7-5.2 .7-10 .7 15.4 .7-10.3 .7 13.4 .7-14.4 .7-1.7 .7 12.1 .7 .7 .7-1.7 .7-7.2 .7 11.6 .7-12.9 .7 5.5 .7-1.7 .7 2.2 .7 6.8 .7-8.1 .7 6.6 .7 .7 .7-13.2 .7 3 .7 4.3 .7-1.2 .7 4.9 .7-12.3 .7 14.5 .7 .1 .7-5.1 .7-6.8 .7 7.6 .7-3.1 .7 6 .7-3.7 .7 4.4 .7-6.5 .7 10.2 .7-20.7 .7 7 .7 8.2 .7-11.2 .7 12.3 .7-10.9 .7 7.1 .7-5.6 .7 2.5 .7 3.2 .7-1.6 .7-1.6 .7 13.8 .7-11.8 .7-5.5 .7 10.3 .7-.6 .7 2.1 .7 3.1 .7-15.1 .7 11 .7 .4 .7-6.3 .7 1.3 .7-17.8 .7 13.4 .7 13 .7-19.6 .7 6.9 .7 4.7 .7 1.6 .7 6 .7-18.6 .7 10.1 .7 4.7 .7-11.8 .7 7.2 .7 10.7 .7-2.9 .7-4.1 .7-17.1 .7 13.9 .7 3.1 .7-3.6 .7 1.6 .7 17.6 .7-17.9 .7-3.9 .7 7 .7-2.8 .7 .3 .7 1.5 .7 5 .7-2.6 .7-7.6 .7 6.1 .7 3.7 .7-4.9 .7 9.1 .7-1.7 .7-9.5 .7 7.5 .7 9.5 .7-2.1 .7-8.6 .7 5.5 .7-8.3 .7-4 .7 11.4 .7-1.4 .7 1.8 .7-2.6 .7 2.3 .7-4.2 .7 5.8 .7 2.3 .7-4.5 .7 5.1 .7-13.8 .7 5.8 .7 12.6 .7 2.1 .7-7.9 .7-1.6 .7-6.1 .7 9.4 .7 2.6 .7-12.1 .7 11.5 .7-.1 .7 .1 .7-8.4 .7 9.5 .7-10.9 .7 16.7 .7-7.1 .7-6.9 .7 14.1 .7-.7 .7-9.7 .7 16 .7-17.4 .7 7.6 .7 5 .7-18.7 .7 18.3 .7-5.6 .7 .5 .7-5.5 .7 8 .7-7.7 .7 1 .7 3.2 .7-4.1 .7 15.7 .7-15.7 .7 3.4" stroke="#00f" class="cv"/>
<path d="M144.5 422.0l.7 59.6 .7 39 .7 20.5 .7 5.6 .7 6.5 .7 6.5 .7 7.6 .7 1.6 .7-5 .7-7.1 .7 24.3 .7-5.5 .7-2.8 .7 1.3 .7-3.8 .7-1.8 .7 4.6 .7 1.4 .7-1.4 .7-3.7 .7 7.1 .7 5.7 .7-5.1 .7 3.6 .7-10.8 .7 11 .7 1.2 .7-5.3 .7-2.1 .7 12.5 .7-6 .7 7.8 .7-4.4 .7 6.4 .7-4.7 .7-5.8 .7 8.5 .7-.7 .7 6 .7-5.4 .7 1 .7 7.5 .7 2.4 .7-1.6 .7 2.2 .7-2.6 .7 2.4 .7 1.3 .7-2 .7-1.2 .7 1 .7 13.1 .7-12.5 .7-.8 .7-.1 .7 2.4 .7 2.1 .7-7.1 .7-4.1 .7 13 .7-10 .7 10.7 .7-.2 .7 6 .7 3.2 .7-6.8 .7-4.7 .7-3.1 .7 2.3 .7 4.9 .7-11.4 .7 11.9 .7-.3 .7 3.7 .7-5.4 .7 2.5 .7-4.7 .7 1.5 .7-7.2 .7 10.3 .7 7.8 .7-7.7 .7 1 .7-7.6 .7 13.2 .7-12.3 .7 8.5 .7-4 .7-6.1 .7 10.8 .7-5.8 .7 .7 .7 1.3 .7-2.9 .7-2.1 .7 4.4 .7-5.1 .7 2.2 .7-4.6 .7-5.1 .7 3.7 .7 .1 .7 1.8 .7 5.4 .7-17 .7 8.7 .7-14.1 .7 5 .7 1.5 .7-11 .7 .7 .7 9.5 .7-2 .7-2.6 .7-5.3 .7 14.7 .7-14.3 .7-5.4 .7 12.5 .7-7.3 .7-6.8 .7 7.3 .7-7 .7 1.5 .7-3.4 .7-7.9 .7 10 .7-5.3 .7-7.1 .7 .8 .7 9 .7-7.6 .7 2.1 .7 3.3 .7-2.8 .7-8.8 .7 12.3 .7 2.2 .7 .2 .7 4.8 .7-6.1 .7 3.1 .7 5.4 .7-9.3 .7 12.2 .7 1.1 .7-4.1 .7 7 .7-4.3 .7-8.3 .7 12.2 .7-3.2 .7 1.6 .7-.3 .7 7.7 .7-3.4 .7-5.8 .7 7.4 .7 2.2 .7-7.2 .7 2.3 .7 .9 .7-.7 .7 5.6 .7 4 .7 4.9 .7-3.8 .7-1 .7 .6 .7 .9 .7-9.5 .7 5.7 .7-2.3 .7-2.7 .7-2 .7-.6 .7 1 .7-5.6 .7 9.3 .7-3.4 .7 .4 .7 .9 .7 1.7 .7-7.7 .7 2.3 .7-8.7 .7-3.8 .7 1.1 .7 18.6 .7-18.9 .7 12.2 .7 5.1 .7-11.1 .7 11 .7 .8 .7-5.4 .7 7.4 .7-10 .7-7.8 .7 6.5 .7-5.7 .7-5.1 .7-.3 .7 19.4 .7-16.2 .7 2.5 .7-4 .7 4 .7-2.5 .7-1.4 .7-4.9 .7-1.6 .7 3.2 .7 5.3 .7 9.3 .7-6.1 .7 3.8 .7-7.8 .7-3.7 .7-7.2 .7 6.8 .7-12.3 .7 9.7 .7 10.1 .7-7.6 .7 4 .7-8.8 .7-5.9 .7 4.5 .7 0 .7 8.4 .7 3.8 .7-15.4 .7 1.7 .7 .8 .7-1.5 .7-5.3 .7 7 .7 1.1 .7-.2 .7-9.1 .7 5.7 .7-9.3 .7 14.3 .7-10.9 .7 3.8 .7-1.2 .7-1.1 .7-2.9 .7-4.1 .7 19 .7-8.4 .7-.2 .7 9.8 .7-12.3 .7 3.3 .7-3.2 .7 6.2 .7-4 .7-1.3 .7-3.3 .7 2.7 .7 4.6 .7-18.1 .7 10.5 .7-1.8 .7 .4 .7-9.5 .7 14.7 .7-8.9 .7 3.1 .7-1.8 .7-6.6 .7 6.4 .7-7.9 .7 4.7 .7 3.1 .7 1.5 .7 0 .7-1.3 .7 12.2 .7-9.7 .7-9.4 .7 3 .7-.5 .7 2.3 .7-2.6 .7-1.8 .7 13.5 .7-9.1 .7-2.5 .7 .2 .7-.1 .7 8.5 .7-5.4 .7 3.2 .7-23.6 .7 18.6 .7 3.7 .7 4.6 .7-11 .7-10 .7 12.4 .7-6.9 .7-7 .7 6.1 .7 8.9 .7 .4 .7-3 .7-10.2 .7 19.3 .7-20.7 .7 5.6 .7-7.9 .7 14.7 .7-5.2 .7 2 .7-4.8 .7-1.3 .7 .9 .7-11.8 .7 15.4 .7-.9 .7-7.7 .7 1.6 .7 1.2 .7 6.5 .7-6.8 .7-2.7 .7-3.6 .7-6 .7 4.4 .7 3.1 .7-2.4 .7 1.2 .7 3.1 .7-2.3 .7-1.5 .7 1.4 .7-3.2 .7-1.9 .7 2.1 .7-12.7 .7 15.7 .7-14.7 .7 11.1 .7-5.3 .7 5.4 .7-6.6 .7-6.1 .7 10.4 .7-5.6 .7-1.1 .7-.9 .7 4.3 .7-1.7 .7-3.9 .7-10.5 .7 5.5 .7 2.1 .7 8.6 .7-8.5 .7-3.3 .7 6.4 .7-7.9 .7-.3 .7 .3 .7-9.8 .7 12.7 .7-3.6 .7-4.7 .7-5.5 .7 6.7 .7 5.7 .7-12 .7-3.1 .7 7.4 .7-11.9 .7-4.2 .7 8.9 .7-2.1 .7 1.5 .7-2.3 .7 4 .7-3.8 .7-2.9 .7 0 .7 5.2 .7 1.1 .7-1.1 .7-1.9 .7-22.7 .7 11.9 .7 3 .7 2.1 .7-10.8 .7 16 .7-7 .7-5.8 .7 3.5 .7-3.6 .7-3.1 .7 6.2 .7-6.1 .7-6.1 .7 3.5 .7 2.1 .7-6 .7 12.1 .7-13.6 .7 14.9 .7-5.4 .7-10.7 .7 5.2 .7 5.2 .7-8.1 .7-6 .7 6.6 .7 9.9 .7-19.6 .7 10.9 .7-3.4 .7-1.1 .7-1.9 .7 0 .7 7.1 .7-2.8 .7-9.1 .7 13.8 .7-16 .7 10.6 .7-2.8 .7 5.4 .7-4.7 .7 4 .7-5.6 .7 6.1 .7-2.7 .7 10.8 .7-14.6 .7 11.5 .7-3 .7-.5 .7-3.1 .7 6.3 .7-9.9 .7 1 .7 11.5 .7-12.5 .7 16.5 .7-9.5 .7 2.8 .7-1 .7 1.7 .7-3.9 .7-.7 .7 1.2 .7 6.3 .7 .3 .7 .5 .7-5.2 .7-3.3 .7-8.4 .7 12.6 .7 .8 .7-7.1 .7 6.4 .7 2.3 .7-6.8 .7 5 .7-4.5 .7-11.5 .7 6.6 .7 .1 .7 4.8 .7-8 .7 2 .7-3.3 .7 4.7 .7 .1 .7 4.4 .7-1.5 .7-4.1 .7-.2 .7-1.4 .7-.6 .7 7.2 .7-23 .7 12 .7 1.9 .7 3.7 .7-13 .7 7.1 .7 2 .7-8 .7-8.9 .7 7.7 .7-5.5 .7 9.3 .7-9.1 .7 13.7 .7-9.8 .7-6.1 .7 .9 .7-4 .7 7.3 .7 5.2 .7-10.2 .7 5.5 .7-11.2 .7 6.1 .7 10.1 .7-21.3 .7 13.6 .7-1.2 .7-17.7 .7 1.5 .7 1.6 .7 9.8 .7-8.6 .7 .5 .7 3.9 .7-4.2 .7-.4 .7-3.9 .7 7 .7-11.5 .7 12.6 .7-12.1 .7-3.5 .7 7 .7-2.1 .7-14.3 .7 11.2 .7-9.6 .7 1.9 .7 7.9 .7-10 .7 5.8 .7-5 .7 11.7 .7-12.1 .7-7 .7-.6 .7 .1 .7 4.6 .7-1.8 .7 4.2 .7-5.5 .7-1.4 .7-.2 .7-3.8 .7 1 .7 1.4 .7-1.4 .7-8.7 .7-8.2 .7 3.7 .7 4.4 .7-17 .7 9.2 .7 3.1 .7-7.6 .7-5.3 .7 13.4 .7-4.9 .7-12.4 .7 4.8 .7-4.5 .7-17.9 .7 16.2 .7-24.8 .7-1.1 .7-9.3 .7 2 .7-11.8 .7 3.6 .7 2.7 .7-7.8 .7-5.5 .7 7.3 .7-16 .7 7.7 .7-9.5 .7 .3 .7-3.6 .7-2.2 .7-3.9 .7-7.2 .7-2.3 .7 1.6 .7-7.3 .7-10.4 .7-2.1 .7-4.5 .7-.8 .7-2.8 .7-4 .7-7 .7 .9 .7-10.4 .7-11 .7 12.9 .7-11.4 .7 1.6 .7-3.6 .7 8.2 .7-11.6 .7 7 .7-4.9 .7-4.4 .7-1.6 .7 12.1 .7 1 .7 3.9 .7 8.1 .7-6.1 .7 2.8 .7 .8 .7 4.4 .7 .7 .7 1.7 .7 22.1 .7-14.1 .7 18.9 .7 7.8 .7 4.2 .7-2 .7 7.3 .7 1.3 .7-.9 .7 7.8 .7 .1 .7 1.2 .7 8.6 .7-7.6 .7 10.2 .7-3.7 .7 8 .7 .5 .7 3.5 .7-4.1 .7 3.7 .7 2 .7 7.9 .7 5.1 .7 3.4 .7-7.5 .7 3.9 .7-9.2 .7-3.7 .7 6.6 .7 0 .7-6.3 .7-3 .7 10.7 .7-9.4 .7-7.1 .7 19.7 .7-14 .7-5 .7 3.3 .7-10 .7 10.5 .7-19.6 .7-1.3 .7 3.8 .7-6.2 .7 9 .7-19.5 .7 1.7 .7 2.1 .7-1.4 .7-.9 .7-7.1 .7 6.5 .7-18.5 .7-.4 .7-.4 .7-10.6 .7-4.3 .7-5.4 .7-5.5 .7-7.4 .7-1.5 .7-10.3 .7 5.5 .7-16.2 .7 14.3 .7-7.9 .7-9.3 .7-13.3 .7-8.2 .7 4 .7-11.5 .7-3.3 .7-12.1 .7 5.1 .7-14.6 .7 .3 .7-14.7 .7 1.1 .7 1.8 .7-9.6 .7-4.1 .7 3.2 .7-7.8 .7 4.8 .7-21.7 .7 15.6 .7-.3 .7-11 .7 1.9 .7 12.6 .7-9.8 .7 3.4 .7 7.9 .7-3.8 .7 5.7 .7-5.9 .7 8.2 .7 6.9 .7-.9 .7-10.1 .7 19.6 .7 .9 .7-1.1 .7 16.6 .7-13.5 .7 23.1 .7-10.3 .7 15.8 .7-5.1 .7-3.3 .7 11.3 .7 4.3 .7 3.7 .7 4.5 .7-9.9 .7 7.7 .7 1.3 .7-5.5 .7-3.6 .7-.1 .7 9.3 .7 .3 .7-8.9 .7-2.8 .7 14.1 .7-15 .7 10.1 .7-4 .7-3.6 .7 12.3 .7 .6 .7 11.4 .7 7.3 .7-10.6 .7 9.5 .7 3.1 .7-5.7 .7 .9 .7 16.3 .7-8.3 .7 4.3 .7 1.2 .7 3.5 .7 .1 .7 10.1 .7 5.6 .7-6.1 .7-2.6 .7 10.8 .7-5.4 .7 7.7 .7 13.3 .7 9.3 .7-7 .7-4.1 .7 13.9 .7-12.6 .7 12.4 .7 15.9 .7-.5 .7-8.2 .7 1.6 .7 16.7 .7-2.5 .7-.8 .7 7.6 .7-3.4 .7-5.5 .7 16.7 .7-6.2 .7-.4 .7-.2 .7 10.1 .7-4.4 .7 9.1 .7-3.7 .7 8.5 .7-6.9 .7-.4 .7-6.1 .7 5.7 .7 11 .7 13.7 .7-22.7 .7 2 .7 8.4 .7 1.6 .7-5.5 .7 4.9 .7-8.5 .7 8 .7 7.2 .7 4.8 .7-9.2 .7 .2 .7 4.6 .7 4.3 .7-2.7 .7-6.1 .7 6.8 .7 4.1 .7-8.4 .7-2.7 .7 10.8 .7 0 .7 3.9 .7-4.1 .7-3.3 .7 1.7 .7-2.6 .7 1 .7 2.6 .7 .9 .7 9.1 .7-12.5 .7 6.8 .7-2.8 .7 11.6 .7-6.7 .7-3.4 .7 6.5 .7-4.2 .7-3 .7 10.9 .7-4.6 .7 5.4 .7-3.3 .7-2.2 .7-3.7 .7-6.8 .7 9.7 .7-3.7 .7 3.2 .7-3.9 .7-3.9 .7-1.8 .7 9.2 .7 3.2 .7-8.7 .7 4 .7 5 .7-11.9 .7 3.4 .7-2.9 .7 14.3 .7-2.8 .7-1.6 .7-4 .7 10.8 .7 9.1 .7-4.5 .7 1.6 .7 8 .7-8.5 .7 8.3 .7 3.7 .7-6.9 .7 .3 .7 6.4 .7-1.3 .7-.3 .7 2.9 .7 .6 .7-5.8 .7 1.8 .7 6.4 .7 4 .7 1.6 .7-11.7 .7 10.8 .7-1.6 .7-4.2 .7 3 .7 1.9 .7 5.3 .7-15.6 .7 9.1 .7-4.1 .7-.3 .7 7.4 .7-1.8 .7-10 .7 4 .7 2.8 .7-9 .7 12.4 .7-5.1 .7 1.3 .7 1 .7 8 .7-9.7 .7-2.1 .7 11.4 .7-12.2 .7-.1 .7-4.8 .7 13.2 .7-4.7 .7 .6 .7-2.1 .7-2.2 .7-4.2 .7-.6 .7 5.9 .7-2.5 .7 7.4 .7-13.8 .7 .6 .7-3.7 .7 12.2 .7-15 .7 10.1 .7 2.7 .7-9.5 .7 3.7 .7-16.6 .7 8.4 .7-8.1 .7 8.8 .7-2.2 .7-5.5 .7 8.1 .7-4.6 .7-6.1 .7-1.3 .7-6.6 .7 5.6 .7 11.2 .7-16.8 .7 4.7 .7-6.7 .7 5.8 .7-3.6 .7-5.2 .7-10.1 .7 5.3 .7 7.6 .7-9.5 .7 3 .7-7.7 .7-9.3 .7 10.8 .7-2.3 .7-6.6 .7-.7 .7 1.7 .7-6.8 .7 3.2 .7-5 .7-13.7 .7 10 .7-4.4 .7-3.2 .7 4.8 .7-6.7 .7 3.9 .7 1.3 .7-6.7 .7-10.7 .7 3.1 .7 7.7 .7-7.6 .7-4.1 .7 2.7 .7 2.2 .7-2.4 .7 1.1 .7-9 .7 2 .7-.8 .7 .3 .7-12.1 .7 9.2 .7-6.9 .7 14.1 .7 0 .7-.1 .7-5.6 .7-8 .7 7 .7-7.3 .7 3.5 .7-9.1 .7 .9 .7 5.1 .7 6.5 .7-10.2 .7 12.1 .7 2.6 .7-21.9 .7 7.1 .7-4.6 .7 5 .7-1.4 .7 3.3 .7 6.5 .7 .8 .7-2.7 .7-.4 .7 1.6 .7 1 .7 3.4 .7-2 .7 3.9 .7-8.7 .7 12.8 .7 6.5 .7-7.1 .7-7.2 .7 16.5 .7-7.6 .7-12.9 .7 16.6 .7 6.1 .7 .4 .7 6.3 .7-1.7 .7-1 .7-9.6 .7 6.6 .7 8.9 .7 4.7 .7-7.4 .7 4.3 .7 7.8 .7-11 .7 1.8 .7 11.2 .7 4.5 .7-2.2 .7-8.2 .7 14.3 .7-5.7 .7 12.4 .7-2.5 .7 3.6 .7 3.7 .7-4.8 .7 9 .7 3.8 .7-3 .7 6.7 .7-9 .7 10.1 .7-1.8 .7-5 .7 6.7 .7-.7 .7 1.7 .7 5.3 .7 7.2 .7-5.7 .7 4.3 .7-6.8 .7 10.5 .7 7.6 .7 0 .7 .1 .7-3.5 .7-.5 .7 6.8 .7-4.7 .7 2.7 .7 14 .7-7.9 .7 16.9 .7-15.4 .7 12.2 .7-6.7 .7 9.3 .7-4.7 .7 7.6 .7 .6 .7-.1 .7 6.7 .7 6.8 .7-10.2 .7 9.3 .7-3.1 .7 .5 .7 13.3 .7-22.7 .7 9.2 .7-5 .7 9.2 .7 1.5 .7 23.1 .7-17.8 .7 8.9 .7-1.6 .7-8.4 .7 6 .7 7.5 .7-7.1 .7 1.2 .7 2.6 .7-10 .7 4.8 .7 7.2 .7 2.1 .7-7 .7 4.2 .7 2 .7 .8 .7 5.5 .7-2.2 .7 1.4 .7-7.5 .7 3.2 .7 8.6 .7-9.3 .7 11.2 .7-4.1 .7-.1 .7 8.5 .7-6.9 .7-1 .7 1 .7 4 .7 14.6 .7-26.6 .7 11.3 .7-1.3 .7 6.4 .7-7.3 .7-11.7 .7 20.6 .7-13.4 .7 5.5 .7-7.3 .7 1.3 .7 3 .7 7.2 .7-.3 .7-8.1 .7 5.8 .7-5 .7 2.4 .7 .1 .7 2.3 .7-7 .7 2.4 .7 1.7 .7-.9 .7-5.1 .7 13.6 .7-12.1 .7 6.4 .7-3.2 .7 5.4 .7-18.7 .7 22.9 .7-12.5 .7-5.7 .7 7.4 .7 11.5 .7-9.7 .7-9.5 .7 4.1 .7 9.8 .7-14.9 .7 6.8 .7-.4 .7 13.8 .7-12.9 .7 9.4 .7-10.2 .7 .2 .7 10.8 .7-1.1 .7-11.7 .7 14.1 .7 1.2 .7-5.6 .7 5.8 .7 1.6 .7-2.7 .7 .8 .7 .9 .7 3.5 .7-4.4 .7 8.4 .7-6.6 .7 9.8 .7 .3 .7-4 .7 11.4 .7 6.9 .7-2.4 .7-13.8 .7 15.1 .7-5.1 .7-.9 .7-2.4 .7 3.8 .7 8.2 .7-4 .7-4.7 .7-.8 .7 1.9 .7 6.1 .7 7.5 .7-15.4 .7 6.3 .7-1.6 .7-1.5 .7 6.7 .7 1.3 .7-10.3 .7 2.5 .7 12.6 .7-4.4 .7 1.4 .7-5.2 .7 .9 .7 4.9 .7-5 .7-3.1 .7 6.2 .7 5.1 .7-10.5 .7 11.5 .7-2 .7-8.5 .7 4.7 .7-.3 .7 3.7 .7 .1 .7-10.7 .7-.3 .7 12.9 .7-5.1 .7 1.6 .7-.5 .7 6.4 .7-15 .7 12.4 .7-10.4 .7 8.3 .7 3.2 .7-14.9 .7 9.6 .7-3.8 .7-.2 .7 1.8 .7-6.1 .7 .4 .7 8.7 .7 .9 .7-7.8 .7-4.9 .7 20.4 .7-6.7 .7-4.1 .7-7.6 .7 2.3 .7 4.4 .7-6.6 .7 13.9 .7-8 .7 1.3 .7-7.8 .7 .7 .7 .6 .7 5.7 .7-2.9 .7-.2 .7 3.3 .7-.5 .7 6.9 .7-9.2 .7-4.4 .7 5.4 .7 8 .7-10.9 .7 3.3 .7-2.2 .7 4.1 .7-.8 .7-5.8 .7 3.2 .7 6.3 .7 .8 .7-.9 .7-.3 .7-6.5 .7-.2 .7 7 .7-11.3 .7 6 .7-9.7 .7 8 .7-1.8 .7-2.7 .7 9.7 .7-7.2 .7 2 .7 .6 .7-2.6 .7 11.7 .7-10.4 .7 3.8 .7-8.1 .7 4.5 .7 .8 .7 .1 .7-1.5 .7 3.9 .7 7.6 .7-9.1 .7 0 .7-1.4 .7 15.8 .7-5 .7-5.7 .7 .8 .7-7.6 .7 3 .7 2 .7-.5 .7-5.3 .7 .4 .7 7 .7-1.1 .7-13 .7 11.8 .7 6.4 .7-10.4 .7 4.8 .7-9.1 .7 12.3 .7-10.5 .7-.7 .7 5 .7 14.5 .7-16.1 .7-3.5 .7 9.3 .7-1.2 .7 7.7 .7-15.8 .7-1.8 .7 6.9 .7 3.8 .7-.1 .7 3.9 .7-13.9 .7 3.6 .7 3.7 .7 5.3 .7-2 .7-4.8 .7-3.3 .7 10.3 .7 .4 .7 9.5 .7-15.6 .7 9.7 .7-15.2 .7 3.6 .7-.7 .7 1.2 .7-2.1 .7 1.9 .7 2.7 .7-2 .7 6 .7-3.8 .7 .5 .7 8.1 .7-6.1 .7-.8 .7-.8 .7 .6 .7 2.9 .7-7.2 .7 10.6 .7 2.4 .7-2.1 .7-8.7 .7-5.8 .7 6.4 .7 3.3 .7 3.8 .7-5.3 .7-.5 .7 10 .7-11.6 .7 9.6 .7-.7 .7-11.8 .7 8.9 .7-4.3 .7-1.9 .7-4.6 .7 1.8 .7 10.9 .7-4.1 .7 3.9 .7-7 .7 4.3 .7 .5 .7-6.6 .7-.4 .7 11.6 .7-1.3 .7-5.5 .7 4.7 .7 4.4 .7 6.5 .7-14.4 .7 8.4 .7 8.3 .7-10.9 .7 7.8 .7-21.6 .7 21.9 .7-7.7 .7-9.9 .7 14.5 .7 1.6 .7 1 .7 .1 .7-6.5 .7-3.8 .7 1.7 .7 2.4 .7 2.5 .7-4.7 .7 2.9 .7 4.6 .7-2.9 .7 10.8 .7-.7 .7-17.7 .7 3.2 .7-3.9 .7 .9 .7 9.3 .7-8.2 .7-.2 .7 4.3 .7 5.8 .7-6.1 .7 0 .7 7 .7-2.4 .7 0 .7 2.8 .7-10.6 .7 6.7 .7-4.5 .7 9 .7-1.1 .7-10 .7 12.9 .7-13.5 .7 12.7 .7-5.2 .7-5.8 .7-1.3 .7 4.4 .7 1.5 .7-3.7 .7 6.9 .7-10.7 .7 7.5 .7 .1 .7-10.2 .7 11.7 .7-8.5 .7-6.8 .7 10.1 .7 2.1 .7 6 .7-7.6 .7 10.5 .7-.3 .7-1.9 .7 1.1 .7-5.4 .7-5 .7 6.4 .7 1.7 .7-4.1 .7-2.7 .7-7.3 .7 12.1 .7-1.9 .7-9 .7 7.5 .7 3.2 .7-4.6 .7 4.8 .7-.2 .7-12.2 .7 6.3 .7 4.2 .7 2.3 .7 2.7 .7-18.1 .7 10 .7 4.2 .7 2.8 .7 2.5 .7-14.2 .7 3.1 .7-3.6 .7 10.3 .7-11.5 .7 13.8 .7-1.2 .7-2.3 .7-14.2 .7 8.3 .7 8 .7-11.5 .7 6.7 .7 1 .7 5.7 .7-3 .7 .3 .7-3.6 .7 2.8 .7-.4 .7 5 .7-4.6 .7 7 .7-14.5 .7 16.1 .7-7 .7 7.4 .7-5.3 .7 4.6 .7 3.8 .7-10.7 .7 3.8 .7-1 .7 2.4 .7-9.5 .7 8.2 .7-.1 .7-2.5 .7 3.5 .7-7 .7 16.4 .7-4.9 .7 8.2 .7-14.6 .7-1.2 .7 8.2 .7-10.2 .7 10.7 .7-4.6 .7 2.4 .7 3.6 .7-.8 .7 10.3 .7-6.2 .7-10.1 .7 12.8 .7-12.2 .7 8.2 .7-6.8 .7 2.7 .7 12.1 .7-9.8 .7 0 .7 .9 .7 1.8 .7 10 .7-13.8 .7 .1 .7 10.3 .7-11.4 .7 7.1 .7 8.6 .7-5.7 .7-2.2 .7-.8 .7-.7 .7 2.2 .7 4.4 .7 6.4 .7-1.1 .7-7.9 .7-.4 .7 8.2 .7-13.2 .7 7.9 .7 1.1 .7-3.8 .7 1.1 .7 7.8 .7-10.4 .7 4.5 .7 2 .7 4.4 .7-7.4 .7 13.8 .7-7 .7 .7 .7-.1 .7-1.2 .7-1.2 .7 12 .7-4.7 .7-1.2 .7 6.4 .7-8.8 .7 7.7 .7-2.9 .7-4.5 .7 9.3 .7-11.9 .7 12 .7-8 .7 7.4 .7 5.5 .7-4.1 .7-6.1 .7 3.4 .7-1.6 .7-4.2 .7 .6 .7 6.4 .7 2.9 .7-12.3 .7 9.4 .7 3.3 .7-2 .7-5.8 .7 11.2 .7-12.1 .7 10.3 .7 5.3 .7-19.6 .7 12.6 .7 .5 .7-.3 .7-5.3 .7 2.6 .7-5.7 .7 8.4 .7 2.3 .7-6.4 .7-1.3 .7 2.6 .7 2.6 .7 .5 .7-.7 .7 1 .7-7.3 .7-7.6 .7 18.2 .7 4.4 .7-15.2 .7 4.2 .7 5.3 .7 3.6 .7-1.6 .7 3.5 .7-7.1 .7 2.7 .7 0 .7-4.4 .7 8.9 .7-3 .7 2 .7-7.3 .7 7.8 .7-11.2 .7 7.9 .7-16.1 .7 8.7 .7 9.5 .7-6.3 .7 3.5 .7-9.6 .7 17.2 .7-5.1 .7-3.2 .7 2.4 .7-.4 .7 6 .7-6.4 .7-9 .7 6.6 .7 8.3 .7-3.7 .7-5.3 .7 5.6 .7-2.6 .7 2.7 .7-11.8 .7 3.8 .7 8.4 .7-4.7 .7 3.1 .7 8.7 .7-12.2 .7 2.9 .7-4.2 .7-.4 .7 2.9 .7-7.4 .7-3.5 .7 18.7 .7-7.9 .7 6.6 .7-5.4 .7 .2 .7 2.8 .7 .2 .7-10.3 .7 12.9 .7-11.7 .7 6.3 .7 12.7 .7-13.3 .7 8.5 .7-10.8 .7 5.2 .7-3.1 .7 2 .7-6.8 .7-.4 .7 6.8 .7-10.2 .7 3.8 .7 8 .7-6.7 .7-1.5 .7-1.2 .7 6.7 .7-2.7 .7 2.8 .7-1.9 .7 11 .7-12.3 .7-8.2 .7 11.2 .7-.6 .7 .8 .7-9.4 .7 14.7 .7-6.1 .7 0 .7-8.1 .7 11.2 .7-2.7 .7 7.8 .7-9.2 .7-4.1 .7 7.5 .7-5.2 .7 7.4 .7-7.7 .7 5.4 .7-.2 .7 1.4 .7-2.2 .7-1.2 .7 4.4 .7-2.4 .7 4.3 .7-1.9 .7-10.2 .7 12 .7 8.2 .7-5.5 .7 2 .7-.4 .7-4.6 .7-4.3 .7 11.8 .7 1.6 .7-2.3 .7-.4 .7 .1 .7-2 .7 1.8 .7-1.1 .7 1.8 .7-6.5 .7 1.9 .7 6.5 .7-4.6 .7-10.8 .7 13.7 .7-12.6 .7 22.5 .7-6.2 .7 0 .7-6.9 .7-2.3 .7 5 .7 1.5 .7-4 .7 5.1 .7 3 .7-.3 .7-8.5 .7-5.8 .7 11.7 .7-3.4 .7 6 .7 6.5 .7 .2 .7-7 .7 4.5 .7 3 .7-8.3 .7 1.4 .7 3.2 .7-4.5 .7-2.3 .7-1.2 .7 4.1 .7-3.1 .7 7.6 .7-5.9 .7 9.6 .7-1.2 .7-12.7 .7 12.3 .7-7.7 .7 9.5 .7-4.4 .7-2.8 .7 3.8 .7-6.3 .7 4.8 .7 .3 .7-2.6 .7 2.8" stroke="#f0f" class="cv"/>
<path d="M144 422V557" stroke="#c0c" class="ax"/>
<path d="M144 557V678" stroke="#00c" class="ax"/>
<path d="M144 678V808" stroke="#c00" class="ax"/>
<rect x="144.0" y="1106.0" width="1304.0" height="964.0" class="fr"/>
<path d="M144.0 2070.0V2089.0M179.2 2070.0V2089.0M214.5 2070.0V2107.5M249.7 2070.0V2089.0M285.0 2070.0V2089.0M320.2 2070.0V2089.0M355.4 2070.0V2089.0M390.7 2070.0V2107.5M425.9 2070.0V2089.0M461.2 2070.0V2089.0M496.4 2070.0V2089.0M531.6 2070.0V2089.0M566.9 2070.0V2107.5M602.1 2070.0V2089.0M637.4 2070.0V2089.0M672.6 2070.0V2089.0M707.8 2070.0V2089.0M743.1 2070.0V2107.5M778.3 2070.0V2089.0M813.6 2070.0V2089.0M848.8 2070.0V2089.0M884.0 2070.0V2089.0M919.3 2070.0V2107.5M954.5 2070.0V2089.0M989.8 2070.0V2089.0M1025.0 2070.0V2089.0M1060.2 2070.0V2089.0M1095.5 2070.0V2107.5M1130.7 2070.0V2089.0M1166.0 2070.0V2089.0M1201.2 2070.0V2089.0M1236.4 2070.0V2089.0M1271.7 2070.0V2107.5M1306.9 2070.0V2089.0M1342.2 2070.0V2089.0M1377.4 2070.0V2089.0M1412.6 2070.0V2089.0M1447.9 2070.0V2107.5" class="tk"/>
<path d="M144.5 1456.0l.7 221.3 .7 118.5 .7 84.2 .7 42.7 .7 26.6 .7 8.2 .7 27.9 .7-11.4 .7 5.5 .7-2.5 .7 13.1 .7-8.8 .7 8.5 .7-9.4 .7 7.3 .7-3 .7 7.4 .7-5.8 .7-2.4 .7 7.4 .7-8.1 .7 1.7 .7 9.6 .7-13.3 .7 14.2 .7-5.6 .7-2.2 .7 6.5 .7 2.5 .7-5.9 .7 2.6 .7 5.5 .7 .2 .7-3.8 .7-3.3 .7-.6 .7 2.2 .7 7.1 .7-.1 .7-1 .7 6 .7-8.4 .7 .1 .7 .3 .7 12.4 .7-20.2 .7 12.6 .7 1.2 .7-1.5 .7 12.2 .7-5.7 .7-1.6 .7-8.3 .7 7.6 .7-4.1 .7 2.5 .7 1.1 .7-3.2 .7 6.1 .7 5.5 .7-2.8 .7-4 .7-10.8 .7 15.9 .7 .1 .7-6.4 .7-1.2 .7 6 .7-7.5 .7 8.5 .7-9.7 .7 .9 .7 4.9 .7-7.6 .7 7.5 .7 2.7 .7-9.6 .7 11.6 .7-7.7 .7 5.6 .7-1.8 .7-3.5 .7-.5 .7-6.2 .7 5.1 .7-.5 .7 12.4 .7-3.4 .7-12.5 .7 11.1 .7-3.1 .7-3.3 .7 4.2 .7 1.5 .7-7.2 .7 1.3 .7 2.1 .7-6.1 .7 5.8 .7-1.6 .7-3.5 .7-1.3 .7 5.3 .7 2.3 .7-3.6 .7-7 .7 7.3 .7-4 .7 1.1 .7 1.8 .7-11.8 .7 2.7 .7-3.6 .7-2.7 .7 13.5 .7-6.8 .7-15.3 .7 9.9 .7-6.3 .7 7.4 .7-6.8 .7-2.6 .7 .4 .7 .1 .7-3 .7-2.4 .7-.6 .7 2.4 .7-9.4 .7 5 .7-1.3 .7-2.5 .7 5.7 .7-10.8 .7 4.4 .7-2.6 .7 7.1 .7-5.1 .7 2.8 .7 2 .7-9.9 .7 11 .7-5.7 .7 3.1 .7 1.4 .7 5.4 .7 .4 .7 6.1 .7-7.4 .7-2.5 .7 .8 .7 6.8 .7 5.8 .7-5.6 .7-3.8 .7 5.3 .7 .7 .7-.2 .7-3.2 .7-8.4 .7 11 .7 8.9 .7-3.6 .7-11.8 .7 11.9 .7-9.1 .7 20.1 .7-8.9 .7-6.9 .7 10.4 .7-8.1 .7 6.9 .7-2.9 .7-6.2 .7 9.4 .7-10.4 .7 13.6 .7-6.7 .7-5.8 .7-4.2 .7 17.4 .7-1.1 .7-14.2 .7 14.7 .7-7.9 .7-2.3 .7 .4 .7-1.2 .7 8.4 .7-6.9 .7-10.6 .7 19.9 .7-6.6 .7-10.5 .7 3.4 .7-3.2 .7 4.6 .7 1.4 .7-1.2 .7-4.6 .7-1.4 .7 8.1 .7-5.3 .7 11.8 .7-16.1 .7 7.8 .7-4.1 .7-4.6 .7 10.5 .7-6.8 .7-5.7 .7 2.5 .7 6.4 .7-12 .7 12.9 .7-4 .7-5.5 .7 7.9 .7 1.5 .7-6.4 .7-2.7 .7 8 .7-2.3 .7-13 .7 3.2 .7-.6 .7-1.6 .7-6.1 .7 11.8 .7-4.8 .7-.4 .7 6.2 .7-10.7 .7 2.1 .7 1.2 .7-4.2 .7 1.2 .7 4 .7-4.5 .7 6.4 .7-11.3 .7 4.4 .7-9 .7 6.2 .7-3.6 .7 10.1 .7-3.7 .7-1.8 .7 6.3 .7-2.6 .7-4.3 .7-7.9 .7-4.4 .7 6.8 .7-2.2 .7-2.1 .7 1.4 .7-7.6 .7 15.8 .7-14 .7 2 .7 6 .7-11.8 .7 12.8 .7-.2 .7-6.8 .7-4.3 .7 2.9 .7-7.4 .7 16.5 .7-7.1 .7-4.4 .7-1.1 .7 7.5 .7 4.6 .7-14.6 .7 3.4 .7-6.3 .7 12.4 .7-2.9 .7 10.8 .7-12.6 .7-1.9 .7-1.6 .7 7.9 .7-13.1 .7 12.1 .7-2.9 .7-4.1 .7-2.3 .7 9.9 .7 4 .7-12.2 .7 4.8 .7 6.1 .7-12.5 .7 1.7 .7-5.3 .7 5.3 .7 .1 .7-2 .7-2 .7-4.7 .7 .9 .7 1.6 .7 8.1 .7-6.3 .7-2.2 .7 7.5 .7-1 .7-7.4 .7 .1 .7 6 .7-2.2 .7-7.1 .7 4.8 .7-2.3 .7 5 .7-11.3 .7 8.2 .7-3.4 .7-8.6 .7 9.8 .7-1.8 .7-12.8 .7 16.2 .7-17.4 .7 0 .7 1.8 .7 4.4 .7-2.4 .7-5 .7 6.3 .7-6.5 .7 3.9 .7 6.1 .7-15 .7-15.7 .7 10 .7-4.5 .7 5 .7-1.2 .7-8.1 .7-.7 .7 3.7 .7-.4 .7-13.3 .7 18.5 .7-5.2 .7-.3 .7 1.5 .7-7.1 .7 5 .7 5.7 .7 .1 .7-3.3 .7-4 .7-2.9 .7 11.3 .7-4.3 .7-5 .7-9.3 .7 6.9 .7-5.7 .7 17 .7-5.5 .7-4.8 .7 2.7 .7 15.6 .7-7.1 .7-13.4 .7 6.8 .7-5.7 .7-2.3 .7 10.4 .7 12.2 .7-4.4 .7-8 .7-2.2 .7 3.1 .7 4.4 .7-13.6 .7-2.3 .7 20 .7-8.8 .7 6.9 .7-7.7 .7 6.4 .7-11.6 .7 5.6 .7 5.4 .7-3.2 .7-8.4 .7 6.9 .7-9 .7-4.8 .7 9.9 .7 4.1 .7-3.8 .7-12.3 .7 10.7 .7-1.9 .7-7.1 .7-12 .7 18.1 .7-1.7 .7-3.2 .7-13.2 .7 0 .7 12 .7-2.9 .7-3.5 .7-5.8 .7 1.9 .7-6.6 .7 .2 .7-3.7 .7 5.9 .7-3.6 .7 7.6 .7-1.1 .7-8.2 .7 14.8 .7-15.9 .7 8.9 .7 3.9 .7 1.4 .7-18.7 .7 18 .7 1.6 .7 1.6 .7-19.7 .7 8.9 .7 3.5 .7-1.6 .7 10 .7-10.8 .7 10.6 .7-3.6 .7-11 .7 2.6 .7 2.8 .7 3.1 .7 5 .7-6.5 .7 6 .7-13.7 .7-8.1 .7 14.9 .7 4.4 .7-4.5 .7-3.6 .7 7.9 .7 8.3 .7-11.2 .7-3.4 .7-.6 .7 15.4 .7-11 .7 3.6 .7 3.3 .7-.8 .7-11 .7 10.3 .7-.8 .7-2.1 .7 2.7 .7-8.8 .7 2.4 .7-2.7 .7 6.8 .7-8.1 .7 5.5 .7-8.5 .7 5 .7-1.6 .7 1.1 .7 1 .7-2 .7-.5 .7-10.5 .7 17.2 .7-9.8 .7 1.8 .7-3.6 .7 9.7 .7-10.8 .7 7.4 .7 3.3 .7 2.1 .7-2.9 .7-3.6 .7-10.5 .7 13.1 .7-1.1 .7-2.7 .7-1 .7-4.8 .7-4.1 .7 7.8 .7 0 .7-13.7 .7 9.6 .7-4.8 .7 2.4 .7-4.5 .7 3.4 .7-1.6 .7-1.9 .7-13.6 .7 10.9 .7-5.3 .7-7.6 .7 9 .7-12.4 .7 11.4 .7 3.4 .7-12.9 .7 6.9 .7-3.3 .7 .5 .7-11.5 .7 10.1 .7-3.1 .7 2.7 .7-4.6 .7 5.2 .7-5.4 .7 1.2 .7 2 .7-8.8 .7 1.5 .7-7.5 .7-1.8 .7-9.1 .7 3.8 .7-.5 .7-9.6 .7 2.8 .7-3.7 .7-9.9 .7 6.5 .7 3.9 .7-11.1 .7-8.3 .7 9.5 .7-5.9 .7 12.4 .7-11.9 .7-1.2 .7-4.8 .7 3.4 .7-5.8 .7-3.2 .7 3.2 .7-5.4 .7 10.2 .7-14.7 .7 4.7 .7-4.4 .7-4.8 .7 15.4 .7-21.3 .7 18.2 .7-16.6 .7 7 .7 10.5 .7-25.1 .7 2.6 .7 12.7 .7-8.4 .7-6.4 .7 0 .7-7.9 .7 2.9 .7 4.6 .7-12.8 .7 .5 .7 3.6 .7 2.2 .7-16.1 .7 2.2 .7-7.7 .7-5 .7-4.7 .7-7.9 .7-12.6 .7-7.5 .7 2 .7 .5 .7 2 .7-13.1 .7-1.4 .7 1.2 .7-2.7 .7-7.6 .7-2.7 .7 7.5 .7-14.7 .7-3.6 .7-8.8 .7 8.6 .7-6 .7 9.5 .7-14.2 .7 3.9 .7-1.6 .7 1.7 .7-17.8 .7 14 .7-9.2 .7-.8 .7-.1 .7 1.6 .7 3.1 .7-7.3 .7 19 .7 1.2 .7-2 .7 7.9 .7 15.8 .7-7 .7-.8 .7 14.7 .7-9.9 .7 6.9 .7 1.4 .7 5.3 .7 8.8 .7 2.7 .7-3.5 .7 6.8 .7 5.1 .7 1.4 .7 6 .7 .2 .7 3.4 .7 7.1 .7-3.6 .7 9.7 .7-1.4 .7-2.1 .7 3.4 .7 2.4 .7 3.3 .7 2.9 .7-.5 .7-2.4 .7 13.2 .7-2.1 .7-3.8 .7 4.7 .7-3.4 .7-3.8 .7 .5 .7 12 .7-11.3 .7-2.4 .7-10.7 .7 2 .7 5.3 .7-13.5 .7-.3 .7-2.8 .7-7 .7 1.3 .7-11 .7-2.7 .7-10.5 .7 12.7 .7-17.4 .7-6.2 .7 1.5 .7-15.5 .7-2.9 .7-9.7 .7-1.6 .7-8.5 .7-1.6 .7-10.3 .7-9.3 .7-5.1 .7-5.7 .7-8.4 .7 1.8 .7-6.9 .7-8.1 .7-12.2 .7 4 .7-14.4 .7 3 .7-5.4 .7-8 .7-5.8 .7-3.8 .7 10 .7-17.1 .7-4.4 .7 1.4 .7-7.4 .7-1 .7-16.2 .7-2.9 .7 20.3 .7-20.6 .7-3.8 .7-.1 .7 2 .7-13.9 .7 5.7 .7-3.6 .7 1.9 .7-4.1 .7-4.8 .7-2.6 .7-8.7 .7 18.7 .7-10.7 .7 9.4 .7 15.8 .7-5.6 .7 11.2 .7 1.1 .7 9.6 .7 .9 .7 1.8 .7 14.8 .7-3.7 .7-.8 .7 9.9 .7 8.9 .7-5.1 .7 13.2 .7 2.2 .7 9.3 .7-12.6 .7 8.8 .7-10.5 .7 8.2 .7 4.1 .7 2.7 .7-1.7 .7 .2 .7-2.7 .7 .9 .7 4 .7 1.3 .7 .4 .7 1.9 .7 1 .7-15.8 .7 6.8 .7 1.9 .7-2.6 .7 9 .7-1.6 .7-4.5 .7 2.7 .7 9.8 .7-3.1 .7 6.3 .7 12.4 .7 2.7 .7 9.4 .7-1 .7 6.4 .7-2.3 .7 2.2 .7 9.2 .7-9.9 .7 20.1 .7 6.6 .7-1.3 .7 1.6 .7 10 .7-3 .7 8.2 .7 9.2 .7-5.1 .7 3.8 .7 .2 .7 1.3 .7 2.7 .7 1.3 .7 7.7 .7-11.9 .7 9.4 .7 7.1 .7-5.7 .7 6.2 .7-.8 .7 8.3 .7 4.7 .7 5.6 .7-2.1 .7-3.4 .7 8.4 .7 5 .7 7.8 .7-15.5 .7 16.4 .7-8.6 .7 15.9 .7 .9 .7 2 .7 3.3 .7-1.5 .7-4.4 .7 6.3 .7 5.4 .7-6 .7 1.5 .7-5.8 .7 13.1 .7-8.3 .7-.9 .7 1.7 .7-2.1 .7 3.2 .7 8 .7-2.5 .7 3.3 .7 .4 .7-12.6 .7 7.3 .7 5.3 .7 4.2 .7-19.5 .7 0 .7 9.9 .7-4.4 .7-4 .7 6.6 .7-7 .7-8.8 .7 10.8 .7-.3 .7 1.7 .7 .8 .7-4.7 .7-2.7 .7-2.5 .7-5 .7 6.7 .7 8.1 .7-1 .7 8.3 .7-10.5 .7-7.3 .7 14.9 .7 2.4 .7-10.3 .7-1.1 .7 10.4 .7 3.9 .7-8.7 .7 4.8 .7-1.6 .7-1.5 .7 0 .7 8.2 .7-2.1 .7-1 .7-9.6 .7 23.4 .7-13.6 .7 4.8 .7-4.8 .7 8.6 .7-9.4 .7 9 .7-.9 .7 6.4 .7-9.9 .7 3 .7 2.8 .7 12.9 .7-18 .7 9.9 .7-4.4 .7 5.7 .7 2.3 .7-2.2 .7 1.1 .7 .5 .7-4.2 .7 2.3 .7-7.2 .7 7.1 .7-1.8 .7 3 .7 5.5 .7-1.6 .7 .7 .7 3.6 .7-18.2 .7 15 .7-2.3 .7-.3 .7-6.3 .7 9.7 .7 3.1 .7-.7 .7-6 .7 3.6 .7 1.4 .7 4.5 .7-3.3 .7-5.9 .7-.4 .7 .3 .7 .2 .7-3.9 .7 6.6 .7-7.7 .7-.5 .7 6.2 .7-4.8 .7 2 .7-9.5 .7 15.3 .7-4 .7-.4 .7 3.2 .7-1.2 .7-4.7 .7 14.2 .7-13.5 .7 6.2 .7 2.7 .7-15.1 .7 1.3 .7-7.5 .7 7.1 .7-9.9 .7-6.5 .7 10.6 .7-3.8 .7-10.6 .7 10.1 .7-5.8 .7 12.6 .7-5.8 .7-12.3 .7 1 .7-3.6 .7 4.9 .7-1 .7 3.1 .7-4 .7-8.9 .7 2.6 .7 10.8 .7-2.4 .7-8 .7-1 .7-1.4 .7-.4 .7-10.3 .7 12 .7-9.7 .7 2.7 .7-15.8 .7 12.6 .7 3.6 .7-21.3 .7 16.9 .7-8.5 .7-9.4 .7-7.7 .7 11.3 .7-7.9 .7-1.3 .7-7.4 .7-5.4 .7 6.4 .7-11.6 .7 8 .7-15 .7 2.4 .7-4.2 .7 13.2 .7-17.4 .7 2 .7 8.3 .7-3.3 .7 9.2 .7-2.8 .7-7.4 .7-.5 .7-14.1 .7 4.2 .7 2.1 .7 0 .7-7.1 .7 1.5 .7-.3 .7 9.2 .7-4 .7-4.7 .7-.3 .7 2.4 .7-5.6 .7 1.9 .7-8 .7 12.5 .7 1.5 .7-3.2 .7 .6 .7-.6 .7 8.8 .7-9.6 .7-8.1 .7 1.5 .7 9.2 .7 1.9 .7-1.5 .7 .3 .7-3.4 .7-8.7 .7 4.5 .7-5.2 .7 8.2 .7-4.3 .7 8.7 .7-.3 .7-8.3 .7 15.4 .7 1.4 .7-10.1 .7 9.3 .7 4.3 .7-4.2 .7 7.2 .7-2.3 .7 5.8 .7-3.4 .7-.5 .7 4.9 .7 2.8 .7-1.4 .7-2.2 .7-.3 .7 3.7 .7 .4 .7 5.7 .7 1.4 .7 .2 .7 2.1 .7 2.7 .7 9.1 .7 0 .7-7.6 .7 7.2 .7-2 .7 3.1 .7 1.1 .7-.1 .7-2.1 .7-4.1 .7 15.8 .7 6.9 .7-9.5 .7 9 .7-3.2 .7 5.1 .7-4.2 .7 4.6 .7 2.3 .7-10.3 .7 15.6 .7 0 .7-10.4 .7 18.8 .7-1.2 .7 3.8 .7 3.5 .7-1.4 .7-.7 .7 6.3 .7 3.1 .7 17.1 .7 1 .7-9.4 .7 3.4 .7 6.9 .7 4.2 .7-3.8 .7 1 .7 18.3 .7-2.2 .7-11.6 .7 1.1 .7 6.9 .7 7.4 .7 3.3 .7-3.4 .7-5.4 .7 11 .7 3.3 .7-2 .7-1.5 .7 6.9 .7-2.3 .7-4.6 .7 7.5 .7-6.4 .7 13.1 .7-1.7 .7-7 .7 7.4 .7 6.4 .7-17.3 .7 11.5 .7 10.3 .7-16.4 .7 8.2 .7-6 .7 7.9 .7-11.8 .7 4.8 .7 6.4 .7 4.2 .7 1.9 .7 .9 .7 4.5 .7-1.9 .7 .8 .7-8.6 .7 4.9 .7 18.5 .7-4.3 .7-7.2 .7 0 .7 1.9 .7-7 .7 13.2 .7-12.1 .7 2.1 .7 12.6 .7-22.5 .7 13.6 .7-10.8 .7 6.2 .7 3.4 .7-1 .7 3.2 .7-4.7 .7 4 .7-5.6 .7 4.7 .7-5.1 .7 11.3 .7-10.3 .7 11 .7-5.8 .7 .8 .7 8.3 .7-5.7 .7-10.6 .7 13.1 .7-18.3 .7 17.3 .7-3.5 .7-5.3 .7 8.1 .7-2 .7 12.6 .7-13.2 .7 13.1 .7-3 .7-10.8 .7-1 .7 11.7 .7-7.8 .7 1.7 .7-2.2 .7-5.1 .7 4.7 .7-3.1 .7-3 .7 6.9 .7 11.5 .7-.7 .7-9 .7 1.4 .7 2.3 .7 5.1 .7-5.2 .7-3.8 .7 1.1 .7 9 .7 8.8 .7-16.9 .7-7 .7 16.5 .7-3.9 .7 2.1 .7 7 .7-5.4 .7-6.6 .7-2.5 .7 11.5 .7-5 .7 8.9 .7-7.5 .7 6 .7-5.1 .7 7.1 .7 .5 .7 6.6 .7 5 .7-7.5 .7-2.9 .7 16.2 .7-8 .7 2 .7 .6 .7 5.2 .7-2 .7-1.4 .7 .9 .7-8.5 .7 1.7 .7 3.2 .7 1.5 .7-.1 .7 2 .7-1.2 .7-2.1 .7-6.2 .7 13.9 .7-1 .7-7.7 .7 7.9 .7-.3 .7-1.4 .7-10.2 .7 3.7 .7 3.7 .7 12.4 .7-13.3 .7 3 .7-3.9 .7 3.6 .7 4.7 .7-13 .7-4.1 .7 19.4 .7-3.3 .7-3.4 .7 8.7 .7 .1 .7-16.8 .7 10.6 .7 7 .7-9.7 .7 1.9 .7 6.9 .7-6.7 .7-5.1 .7 2.7 .7-3.6 .7 10.3 .7-12.6 .7 14.9 .7-14.6 .7 9.2 .7-8.5 .7 6.3 .7 7.2 .7 .5 .7 .8 .7-7.7 .7 .9 .7 .6 .7 2 .7-5.7 .7 8.1 .7-4.4 .7 4.4 .7-3.8 .7 1 .7-7.8 .7 1.6 .7-5 .7 5.4 .7 .6 .7 5.4 .7-11.6 .7 24.7 .7-18.6 .7 7.5 .7-1.2 .7-19.7 .7 12.4 .7 9.4 .7-21.5 .7 17.5 .7-9.3 .7 2.4 .7 3.7 .7-11.5 .7 11.2 .7-4.7 .7-.6 .7 7.9 .7 15.4 .7-17.5 .7 1.1 .7-3.3 .7-3.8 .7 5.3 .7 6.9 .7-7.4 .7 3.8 .7-6.2 .7 15 .7-22.9 .7 12.2 .7-.3 .7-1.6 .7-7.7 .7-.2 .7 4.9 .7 1.8 .7-7.3 .7 .7 .7 8.9 .7 2.5 .7-8.9 .7-.8 .7-.2 .7 17.5 .7-11 .7-3.2 .7 5.8 .7 7 .7-6.3 .7-14.4 .7 7.2 .7-1.9 .7 .2 .7-5 .7 4.4 .7-4 .7 7.7 .7-1.8 .7-8.2 .7-1.8 .7 6.5 .7 6.1 .7-1.1 .7-3.3 .7-18 .7 15.3 .7-1.5 .7 2 .7-5.1 .7 4.2 .7-1.5 .7 18.5 .7-11.3 .7-5.1 .7 .7 .7-.6 .7 1.6 .7-3.4 .7 2 .7 5.6 .7-1.2 .7-3 .7 5.6 .7-6.2 .7-6.8 .7-4.2 .7 5.7 .7 3.5 .7 2.5 .7 3.7 .7-9.1 .7-1.2 .7 8.8 .7 2.3 .7-9 .7 4.6 .7 5.9 .7-5.6 .7-1.9 .7-10.9 .7 19 .7-3.5 .7-2.6 .7-3 .7-4 .7 6.6 .7 .3 .7 6.9 .7-12.5 .7 15 .7-7.5 .7 6.6 .7-11.6 .7 7.6 .7 5 .7-5.8 .7-8.5 .7 6.5 .7 5 .7-10.5 .7 0 .7 9.5 .7-6.3 .7 9.2 .7-10 .7-3.4 .7 6.1 .7 12.8 .7-12.8 .7 5 .7 1.6 .7-6.3 .7 11.5 .7-4.8 .7 1.7 .7-11.5 .7-.1 .7-5.3 .7 14.4 .7 0 .7 5.4 .7 4.5 .7-9.4 .7 .1 .7 4.2 .7 6.2 .7-12.8 .7 8.2 .7-4.7 .7-.3 .7 6.5 .7-8.6 .7-1.4 .7 9.7 .7-3.7 .7-1.2 .7 .9 .7 3.5 .7-4.6 .7 6.3 .7-1.8 .7 6 .7-1.1 .7-2.1 .7-5.8 .7 1.9 .7-3.8 .7 19 .7-16.8 .7 4.4 .7 4.5 .7-14.9 .7 3.1 .7 2.4 .7-3.2 .7-1.4 .7 4.2 .7 10.1 .7-3.1 .7-3.7 .7 0 .7-9.2 .7 13 .7-1.4 .7-8.2 .7 7.1 .7-2.1 .7-1.8 .7-2.5 .7 1.8 .7-1.5 .7 7.8 .7-.5 .7-.2 .7-2.8 .7-1.2 .7 13.5 .7-21.5 .7 16.8 .7-4.6 .7-1.6 .7-3.2 .7 1.6 .7-5.3 .7-1.1 .7 7 .7-8.5 .7 13.8 .7 1.5 .7-25.1 .7 10.4 .7 10 .7-.3 .7-.5 .7 1.7 .7 1.7 .7 .7 .7 5.1 .7-9.7 .7 4.6 .7-13.7 .7 8.2 .7-6 .7 14.4 .7 5.2 .7-9.9 .7-10.1 .7 6.5 .7 .8 .7 1 .7 4.8 .7-.7 .7-19.8 .7 22.1 .7-10.3 .7-.3 .7 10.9 .7-9.3 .7-6 .7 .3 .7 7.7 .7 4.8 .7 3.4 .7-9 .7-1.5 .7 11.8 .7-11.2 .7 10.8 .7-6.4 .7 .3 .7-2.2 .7 3.2 .7-3.8 .7-.8 .7 3.4 .7-2.4 .7 5.7 .7-.8 .7-1.5 .7 .8 .7 .3 .7 11.3 .7-9.1 .7-2.8 .7 2.1 .7 5.8 .7-4.3 .7 .7 .7-.1 .7 2.8 .7 1.6 .7 .8 .7-11 .7 3.5 .7-8.2 .7 19.3 .7 2 .7 1.4 .7-6 .7 5.9 .7-6.2 .7-.1 .7-7.5 .7 4.5 .7 1.4 .7 8.7 .7 4.4 .7-11.4 .7 5 .7-.2 .7-5.4 .7-4.9 .7 5.7 .7-3.4 .7 6.5 .7 1.3 .7 .1 .7 .4 .7 3.9 .7-7.4 .7 10.4 .7-13.8 .7 9.9 .7 2.2 .7-6.2 .7-4 .7 12.6 .7-6.9 .7 8.4 .7 .3 .7-3.9 .7 .4 .7 5.8 .7-3 .7-6.8 .7 6.4 .7 2.5 .7-1.6 .7 .3 .7-1.4 .7 .6 .7-4.1 .7-2.3 .7 14.4 .7-9.2 .7 5.2 .7-9 .7 9.5 .7-5 .7 21.3 .7-21.4 .7 .8 .7 10.9 .7 1.5 .7-17.3 .7 13.4 .7 3.8 .7-11 .7 10.9 .7-6.2 .7-2.1 .7 3.9 .7-.1 .7-4.7 .7 20.3 .7-14.3 .7-1.2 .7 9.1 .7-4.7 .7 8.1 .7-8.4 .7 3.7 .7-1 .7 .7 .7-1.7 .7 .8 .7 10 .7-12.6 .7 1 .7 1.4 .7 5.3 .7-.7 .7 3.2 .7-12.2 .7 9 .7-2.1 .7-.4 .7 2.7 .7-11.4 .7 12.5 .7-.5 .7-8.3 .7 7.5 .7 9.1 .7-10.3 .7 5.6 .7-4.3 .7-3 .7-.4 .7 3.1 .7 9.4 .7-2.4 .7-8.1 .7 9.4 .7-5.9 .7-2.9 .7 6.3 .7-7.2 .7-3.4 .7 15.7 .7-16.8 .7 13 .7-11.1 .7 8.3 .7-.8 .7-1.2 .7-9.4 .7 11.4 .7 .5 .7-4.6 .7 4.7 .7 5.8 .7-9.2 .7 5.4 .7-7.5 .7 8.4 .7 1.5 .7 10.1 .7-8.5 .7-2.5 .7 5.4 .7-13 .7 11.3 .7-8.7 .7-.3 .7 9.4 .7-4.6 .7 5.9 .7-14.9 .7 9.4 .7-4.3 .7 1.5 .7-8.8 .7 15.4 .7-3.8 .7-6.5 .7-1.8 .7 2.6 .7 12.4 .7-8.1 .7-1.2 .7 4.5 .7-2.5 .7 1.2 .7 2.9 .7-2.2 .7 3 .7-11.1 .7 6.8 .7-2.2 .7 2.6 .7-.7 .7-3.2 .7 1.6 .7 7 .7-8 .7-3.7 .7 10 .7 2.1 .7-6.7 .7 2.2 .7-5.2 .7 3.5 .7 7.1 .7-1.6 .7-3.5 .7-2.2 .7-7.3 .7 10.5 .7 .8 .7 3.3 .7 5.2 .7-8.8 .7 3.2 .7-11.1 .7 12.6 .7-1.8 .7 2.7 .7-3.6 .7-1.2 .7 5.6 .7-11.5 .7 7.1 .7 2.5 .7-10 .7-1.9 .7 8.6 .7-1.6 .7 2.7 .7 .3 .7-7.4 .7 6 .7 4.4 .7-7.8 .7 .5 .7-4.3 .7 10.6 .7 6.3 .7-17.7 .7 11.7 .7 .9 .7-7.6 .7 1.2 .7-3.4 .7 1.6 .7 5.3 .7 2.9 .7-2.7 .7 4.2 .7-3.2 .7-7.1 .7 14.2 .7-1.1 .7-10 .7 13.6 .7-6.7 .7-1.6 .7 9.8 .7-23.4 .7 5 .7 12.6 .7-4.9 .7-3.5 .7 13.4 .7-5.2 .7-9.3 .7 3.5 .7 8.3 .7 5.3 .7-20.2 .7 12.3 .7-3.2 .7-7.1 .7 8.7 .7-7.5 .7 5.9 .7 11.8 .7-5.7 .7 1.6 .7-.7 .7-1.1 .7 3.5 .7-11.3 .7 4.5 .7 6.8 .7-8.3 .7 1.7 .7 9.1 .7 1.9 .7-11.2 .7-.9 .7 7.7 .7-1.5 .7-4.9 .7 7.1 .7-.1 .7-2.3 .7 15.6 .7-8.3 .7-2.7 .7 1.3 .7 10.6 .7-9.8 .7-9.5 .7 5.8 .7-1.1 .7-3.3 .7 4.7 .7 .1 .7-1.4 .7-2.1 .7 7.3 .7-12.9 .7 13.3 .7-4.2 .7 1.6 .7-14 .7 22 .7-18.1 .7 4.8" stroke="#000" class="cv"/>
<path d="M144.5 1456.0l.7 167.9 .7 100.8 .7 48.4 .7 43.7 .7 23.3 .7 14.1 .7 1.8 .7 7 .7 3.9 .7-4.2 .7 .7 .7 15.5 .7-14.5 .7 11.7 .7-5.7 .7 7.9 .7-10.9 .7 6.6 .7-.6 .7-2.6 .7 3.3 .7-5.4 .7 4.1 .7-1.3 .7 6.6 .7-4.2 .7-6.6 .7 5.9 .7 1.9 .7-4 .7 12.4 .7-4.5 .7 2.7 .7-8.3 .7 2.4 .7 8 .7-12.7 .7 10.1 .7-1 .7-2.7 .7 3.7 .7-5.8 .7 7.5 .7-7.2 .7 .2 .7 15 .7-10.8 .7-7.1 .7 17.2 .7-8.9 .7-14.3 .7 19.2 .7 5.8 .7-2.7 .7 7.8 .7-9.5 .7 4.3 .7-8.4 .7 6.7 .7 7.6 .7-5.3 .7-1.7 .7-11.4 .7 8.8 .7-4.9 .7 11.2 .7-8.3 .7 6 .7-7.4 .7 15.6 .7-16.6 .7 7 .7 13.4 .7-13.1 .7-6 .7 7.9 .7 2 .7-.8 .7-15.5 .7 11.7 .7-12.8 .7 21.7 .7-10.1 .7-3 .7 6 .7-1.2 .7-9.3 .7 15.1 .7-10.3 .7-8.5 .7 16.9 .7 .6 .7-1.8 .7-4 .7-8.1 .7 9.7 .7 4.7 .7-5.9 .7 4 .7-13.2 .7 9.5 .7-.7 .7-13.5 .7-1.1 .7 4.4 .7 3.5 .7 1.1 .7-4.8 .7-.4 .7-1.6 .7-.4 .7 1.1 .7-2.1 .7-4.8 .7-.1 .7-5.7 .7 5 .7-9 .7 9.9 .7-10.9 .7-.2 .7-7.3 .7 .6 .7 1.2 .7-2.2 .7-4.9 .7-4.1 .7 5.5 .7-.2 .7 1.4 .7 3.3 .7-8.8 .7-9.2 .7 10.2 .7-9.2 .7 3.3 .7 12.9 .7-2.1 .7-6.2 .7 .5 .7 3.5 .7-8.5 .7 12.8 .7-3.9 .7 12.7 .7-15.1 .7 12 .7-8.4 .7 10.1 .7-10.2 .7 10.2 .7-5.6 .7-1.3 .7 4.5 .7 4.2 .7 .4 .7 7.2 .7-3.4 .7-18.3 .7 12.9 .7-8 .7 9.4 .7 6 .7-10.2 .7 1.3 .7 7.6 .7-2 .7 10.5 .7-6.7 .7 1.2 .7 6.7 .7-12.4 .7 2.7 .7-5.5 .7 6.8 .7 4.1 .7 1.7 .7-7.9 .7-3.9 .7-.5 .7-3.7 .7 8 .7 6.6 .7-20.8 .7 .8 .7 19.3 .7-16.8 .7 10.3 .7-9 .7 10.8 .7-.3 .7-3.7 .7 3.2 .7-4.6 .7 2.5 .7 6.6 .7-4.4 .7-9.9 .7-1.2 .7 2.8 .7-.2 .7 1.3 .7-4 .7 6.6 .7-3.6 .7 1.5 .7-2.2 .7 3.1 .7-10.2 .7 15 .7-7.1 .7 .3 .7 .7 .7 2.3 .7-2.1 .7-3 .7-2.6 .7-8.3 .7 10 .7-3.1 .7-.3 .7 14.7 .7-23.7 .7 10.3 .7 6.1 .7-1.7 .7 1.3 .7-14 .7 1.4 .7 8.4 .7-5.3 .7 10.8 .7-8.5 .7-.4 .7 1 .7-4.2 .7 1.9 .7-4.7 .7 3.2 .7-2.8 .7 3.8 .7-9.5 .7-.8 .7 10.4 .7-1.6 .7-6.9 .7 3.7 .7-4.9 .7 16.6 .7-20.2 .7 17.6 .7-14.4 .7 6.4 .7-4.2 .7-1.1 .7 6.8 .7-1.2 .7-6.5 .7-3.9 .7 15.9 .7-4.2 .7-7.5 .7-2.9 .7 2.7 .7-1.7 .7 5.6 .7-12.4 .7 4.8 .7-4.9 .7 10.9 .7 2.2 .7-11 .7 3 .7 4.2 .7-10 .7-4 .7 10.3 .7-3.4 .7-4.5 .7 8.7 .7-7.3 .7-11.6 .7 11.2 .7-2.8 .7 10.2 .7-10.9 .7-1.5 .7 3.1 .7-1.5 .7-9.6 .7 8 .7-2.9 .7 9.2 .7 5 .7-19.7 .7 .5 .7 .3 .7 .7 .7-.6 .7 3.8 .7 5.3 .7-13.4 .7-1.7 .7-2 .7 15.9 .7 .9 .7-16.1 .7-.9 .7 9.4 .7 4.9 .7-.7 .7-4.9 .7 2.3 .7-2.3 .7-5.2 .7 13.1 .7-10.9 .7-6.5 .7 3.1 .7-6.3 .7 8.1 .7 5.5 .7-13.5 .7 12.6 .7 4.8 .7-9.9 .7-9.1 .7 1.1 .7 2.3 .7-5.9 .7-.5 .7 4.7 .7-.6 .7 3.1 .7-11.2 .7 15.5 .7-6 .7-2.6 .7-10.1 .7 11.5 .7-13.2 .7 10.2 .7-5.7 .7-12.4 .7 1 .7 11.4 .7-6 .7-7.5 .7 1.1 .7-.8 .7-5.8 .7 2.9 .7-2.7 .7 1.2 .7 4.8 .7-8 .7 9.2 .7-3.5 .7 3.5 .7 .6 .7 1.9 .7-3.4 .7 .3 .7-4.9 .7 4.1 .7-8.2 .7 3.6 .7 5.4 .7-4.4 .7 2.7 .7-8.3 .7 13.3 .7-10.7 .7 5.3 .7-2.4 .7 5.3 .7-7.3 .7-3.4 .7-5 .7 8.7 .7-4.9 .7 9.4 .7 5 .7-20.3 .7 5.1 .7 8.7 .7 5 .7-5.2 .7 0 .7 .9 .7 .3 .7 5.8 .7-5.9 .7-10.3 .7 3.8 .7 3 .7-6.8 .7 1.6 .7-3.2 .7-2.9 .7 5.5 .7-8.3 .7-6.3 .7-.4 .7 1.7 .7 9 .7-12.6 .7 4.5 .7-7.6 .7-16.5 .7 12.3 .7-8.2 .7-3.8 .7 .9 .7 15.6 .7-18.6 .7 5.4 .7 9.9 .7-2.6 .7-13 .7 9 .7-2 .7 2 .7 5.6 .7-7.1 .7 1.7 .7 10.2 .7-17.9 .7 8.5 .7 5 .7-9.1 .7 3.8 .7-3.4 .7 8.6 .7-3.9 .7 8.2 .7 1.7 .7-5 .7-1.9 .7 3.9 .7-.7 .7-6.7 .7 13.1 .7-4.3 .7 3.5 .7-11.6 .7 12.7 .7 7.1 .7-8 .7-11.2 .7 8.5 .7-.3 .7 1.7 .7-2.4 .7 4.1 .7-5.2 .7 3.9 .7-5.1 .7 4.2 .7 4.8 .7-8.4 .7 6.1 .7-9 .7 2.5 .7 .3 .7 7.7 .7-11.7 .7 10.4 .7-15.5 .7 6.6 .7 5.2 .7-1.9 .7-10.2 .7-1.9 .7 10.9 .7-12.6 .7 9.4 .7-6.8 .7 2 .7 12.1 .7-5.1 .7-5.1 .7-13.4 .7 8.1 .7-2.7 .7-2.2 .7 6.6 .7-18.3 .7 10 .7-2.3 .7-6.1 .7 12.7 .7-17.6 .7 6.4 .7-.6 .7-13.4 .7 3.5 .7 1.9 .7 9.1 .7 .2 .7-2.5 .7-2.6 .7-14.2 .7 12.9 .7-4.7 .7 8.9 .7 .4 .7 4.3 .7-9 .7 0 .7-10.9 .7 5.5 .7-7.9 .7 11.2 .7-12.4 .7 4.7 .7-4.1 .7 1.1 .7 4.3 .7-6.7 .7 3.3 .7-8 .7 12.1 .7-12.6 .7 7.9 .7 4.9 .7-26.8 .7 6.8 .7 3.2 .7 6.6 .7-10.3 .7 4 .7-7 .7 6.4 .7-10.7 .7 10.8 .7-22.1 .7 5.4 .7 20 .7-10 .7-6.8 .7 16.5 .7-7.4 .7-.5 .7-9.6 .7 4.8 .7-1.6 .7-13.1 .7 11.6 .7-5.5 .7 7.2 .7-1.1 .7-12.1 .7-1.1 .7 3.1 .7 1.2 .7-7.4 .7 .1 .7 2.3 .7-3 .7 2 .7-7.5 .7-8.8 .7-7.5 .7 11.9 .7-9.1 .7-2.7 .7-2.2 .7-9.7 .7 4.3 .7-14.8 .7 10 .7-5.1 .7 13.1 .7-10.2 .7-6 .7-.3 .7 .8 .7-10.7 .7 .5 .7-3.1 .7 13.6 .7-15.9 .7-13.8 .7 13.1 .7 7.6 .7-22.6 .7 22.1 .7-23.2 .7 2.1 .7-13.5 .7-3.6 .7-11 .7-4.7 .7-11.8 .7 13.1 .7-17.9 .7 4.1 .7-3.8 .7-8 .7 2.1 .7-2.6 .7-3.9 .7 1.6 .7-1.5 .7-7.3 .7-2.7 .7 1.5 .7 4.8 .7 6.5 .7 .2 .7-6.6 .7 4.1 .7-3.7 .7 7.1 .7-3.6 .7 3.8 .7-1.2 .7 4.4 .7 14 .7-14.3 .7 10.2 .7 .1 .7 12.3 .7 8.3 .7-8.7 .7-10.8 .7 22.5 .7 3.8 .7-8.9 .7 12.6 .7 5.5 .7-8.6 .7 20.8 .7 1.8 .7 1.3 .7-6.1 .7 2.9 .7 1.3 .7 7.1 .7-7.6 .7 14.5 .7-5.5 .7-14.1 .7 22.5 .7-8.3 .7-3.7 .7 3.9 .7-10.8 .7 11.6 .7-15.2 .7 8 .7 13.1 .7-1.1 .7-9.9 .7-4.5 .7 9.8 .7-6.7 .7 .2 .7 1 .7-11.2 .7 9.2 .7-18.1 .7 18.8 .7-19.2 .7 2.9 .7-3.1 .7 4.7 .7-3.5 .7-6.1 .7-2.9 .7-4.5 .7-7.1 .7-14.5 .7-6.1 .7-3.5 .7 9.5 .7-4.2 .7-2.7 .7-1.1 .7-5.9 .7-7.8 .7-6.6 .7-6.2 .7 13.5 .7-6.7 .7-19 .7-.5 .7-2.8 .7-.3 .7-18.9 .7-2 .7-1 .7-23.3 .7-.9 .7-2.5 .7-10.1 .7 10.5 .7-12.5 .7-8.4 .7-10.6 .7 6.8 .7-5.1 .7-10.3 .7-2.9 .7-9 .7 5.3 .7 3.3 .7-.7 .7-3.1 .7 1.5 .7-7.7 .7 1.5 .7 10.6 .7-3 .7-5.6 .7 9.1 .7 3.7 .7 1.2 .7-1.4 .7-1.5 .7 7.3 .7 9.6 .7-6.1 .7-1.6 .7 9.3 .7-5.3 .7 12.3 .7 .9 .7 11.3 .7-1 .7 9.1 .7 10.7 .7-11.2 .7-.8 .7 10.2 .7-.5 .7 3.8 .7-1.7 .7 9 .7-.4 .7-10.5 .7 13.3 .7 5.5 .7 7 .7-8 .7 .8 .7 13.2 .7-8.1 .7 6.1 .7 3.9 .7 3.2 .7-2.5 .7-4.7 .7 13.7 .7-6.7 .7 1.1 .7 16 .7-4.8 .7-9.3 .7 5.1 .7 3.2 .7-.9 .7-4.5 .7 17.9 .7 2.3 .7-.5 .7-.9 .7 6.3 .7 5.3 .7-6.6 .7 7 .7 1.8 .7 10.2 .7 .5 .7-5.9 .7 6.8 .7 16.5 .7-12.7 .7 9.4 .7-1.4 .7 13.9 .7-4.3 .7 1.1 .7-1.1 .7 8.4 .7 9.2 .7 2.1 .7-8.5 .7 19.1 .7-7.7 .7-2.3 .7 8.9 .7-2.4 .7 2.1 .7 1.5 .7 4.8 .7-.6 .7-5.3 .7 14.3 .7-4.5 .7 11.2 .7-2.5 .7 1.7 .7-1.3 .7 7.4 .7-8.3 .7-2.9 .7 8.5 .7-16.7 .7 14.2 .7 4 .7-2.9 .7 10.2 .7-2.5 .7-2.8 .7-2.3 .7 9 .7-9.5 .7 2 .7 7.1 .7-.4 .7 8.6 .7-12.4 .7-9 .7 14.8 .7 3.8 .7-7.7 .7 10.2 .7 1.7 .7-13.5 .7 1.4 .7-4 .7 10.6 .7 1.3 .7-.4 .7-10.1 .7 2.9 .7-3.7 .7-.8 .7 1.5 .7-1.2 .7 7.9 .7 3.4 .7 1.1 .7-3.8 .7-3.8 .7 3.7 .7 3.2 .7-5.1 .7 1.9 .7-2.2 .7-1.4 .7 3.1 .7-6.7 .7 12.2 .7-14.9 .7 11.4 .7-10.4 .7 16.2 .7-3.7 .7-9.5 .7 2.3 .7-3.4 .7 6.7 .7 3.4 .7 13 .7-21.3 .7 15.8 .7-9.2 .7 6 .7 4.5 .7-.9 .7 .4 .7-2.6 .7 1.9 .7 1.7 .7 6.5 .7-14.7 .7 5.9 .7-3.9 .7 1.9 .7 1.3 .7 11 .7 6.2 .7-4.2 .7-14.1 .7 7.4 .7-6.6 .7 9.2 .7 4.9 .7-3.6 .7 1.9 .7-5.5 .7-9.9 .7 .3 .7 11 .7 4.3 .7 4.5 .7-8.7 .7 3 .7 1.6 .7 5.1 .7-5.8 .7-5.2 .7 12.9 .7-3.3 .7 .3 .7-8.9 .7 7.6 .7-9.4 .7-1.3 .7 10.1 .7-1 .7 5.7 .7 4.7 .7-8.7 .7 9.7 .7-14.2 .7 6.8 .7-12.5 .7 6.8 .7-3.7 .7-.6 .7 3.3 .7-15.2 .7 10.1 .7-6.4 .7 4.2 .7 .5 .7-5.4 .7-1.1 .7-5.6 .7 8.5 .7-8.1 .7 5.1 .7-11.7 .7 14.5 .7-14.7 .7 11.1 .7-10.3 .7 4.3 .7-5.1 .7 3.4 .7-5.1 .7 5.9 .7-4.6 .7-1.2 .7 4.3 .7-14.7 .7 10 .7-8.3 .7-10 .7 9.7 .7-5.2 .7 9.4 .7-13.7 .7 1.7 .7-.3 .7-13.4 .7 12.2 .7-9.8 .7 12.1 .7 0 .7-11 .7-10.6 .7 8.2 .7-1.9 .7 1.2 .7-7.6 .7-7 .7 4.1 .7-6.3 .7 13.5 .7-15.7 .7-1.2 .7 2 .7-8 .7 3.4 .7 .8 .7-2.6 .7 .9 .7 8.2 .7-4.7 .7-10.1 .7 4.9 .7 6.6 .7-8 .7 4 .7-.7 .7 3.1 .7-4 .7 .1 .7-4.1 .7 6.8 .7-7.4 .7 14.9 .7-10 .7-1.2 .7 5.5 .7-5.1 .7 .8 .7-1 .7-4 .7-1.4 .7 1 .7 10 .7-10.2 .7 1 .7-.5 .7 6.3 .7 7 .7-16.5 .7 8.1 .7-2.5 .7-2.4 .7 4.6 .7-9.8 .7 12.2 .7-2.9 .7-6.2 .7 15.4 .7-3.3 .7 2.7 .7-13.7 .7 7.8 .7-.3 .7 7.6 .7 5.1 .7-17.3 .7 11.9 .7 .2 .7 7.5 .7-4.7 .7-5.7 .7 7.4 .7-3.5 .7 2.8 .7 6 .7-1.5 .7 5.6 .7-8.7 .7 23 .7-4.6 .7-1.8 .7-10 .7-3.6 .7 8.5 .7 4.7 .7 15 .7-4.1 .7-9.2 .7 10.9 .7 1.1 .7-5.7 .7 7.8 .7-3.9 .7-4.5 .7-1.9 .7 7.1 .7 7.4 .7-12.1 .7-.3 .7 13.4 .7-17.1 .7 26.7 .7-11.5 .7 7.8 .7 7.6 .7-17.4 .7 3.5 .7 19.9 .7-12.9 .7 2.3 .7 3.6 .7 6.2 .7 3.3 .7-5 .7-.5 .7 4 .7 5 .7 9.3 .7-2.5 .7 13.9 .7-10.5 .7 12.5 .7 11.4 .7 1.7 .7-1.5 .7-3.4 .7 3.6 .7 5.1 .7 4.3 .7-1.5 .7-5.2 .7 5.6 .7 8.6 .7 3.2 .7-11.2 .7 7.2 .7-6 .7 7.5 .7 24.3 .7-18.4 .7-1.2 .7-.3 .7-2.5 .7-2.6 .7 11.1 .7-.4 .7 10.7 .7-16.7 .7 12.4 .7 5.8 .7-17.9 .7 15.4 .7-12.2 .7 12.5 .7 5.9 .7-7.9 .7 2 .7-5.1 .7 5.8 .7 5 .7-7.1 .7 .5 .7 3.3 .7 2.7 .7-13.6 .7 9.7 .7-3.9 .7 6.8 .7 3.3 .7-3.9 .7 5.7 .7-12.7 .7 3.5 .7-3.1 .7 6 .7 .4 .7-1.5 .7-5.6 .7 6.6 .7-1.9 .7 6 .7-4.8 .7 8.2 .7-5.1 .7-11.7 .7 9.6 .7-6.9 .7 13.6 .7 2.8 .7-8.1 .7 2.8 .7-10.5 .7-4.4 .7 9.6 .7 1.9 .7-7 .7 9.2 .7 1.3 .7 2 .7 5.2 .7-4.1 .7-6.5 .7 2.8 .7 2.8 .7-9.1 .7 13.4 .7-2.3 .7-6.2 .7-2.3 .7 25.1 .7-16.5 .7 .6 .7 5 .7-4.5 .7-4.2 .7 2.9 .7-8.9 .7 9.3 .7-12.5 .7 11.2 .7 1 .7-11.6 .7 19.9 .7-16.8 .7 12.9 .7-8.2 .7 5.4 .7-4.7 .7 18.5 .7-7.3 .7 5.3 .7-4.9 .7 .5 .7-2 .7-1.2 .7 5.8 .7-1.5 .7-.7 .7-5.9 .7 7 .7 6.1 .7-5.1 .7 5.5 .7-1.9 .7-4.1 .7 1.4 .7 1.7 .7 3.1 .7 .9 .7 8.4 .7-11.7 .7-4.7 .7 16 .7-5.7 .7 2.6 .7 15.8 .7-5.5 .7-4.2 .7 2.7 .7-4 .7 5.5 .7-8.2 .7 .1 .7 2 .7 12.2 .7 .5 .7-11.7 .7 10.6 .7-6.9 .7 7.5 .7-7.4 .7 7.7 .7-5.6 .7-.6 .7 1.9 .7 1.3 .7-3.9 .7-4.1 .7 17.5 .7-11.7 .7-7.9 .7-2.4 .7-3 .7 12.3 .7 11.1 .7-16.9 .7 7.4 .7-8.6 .7 16.6 .7-4.2 .7-.3 .7 5.7 .7 1.6 .7-3.5 .7-9.2 .7-4.3 .7 1.5 .7-4.1 .7 20 .7-11.3 .7 1.7 .7 .2 .7 10.3 .7-14.7 .7 9.7 .7-5 .7-2.7 .7-10.1 .7 15.9 .7-9.5 .7 1.5 .7 3.8 .7-.8 .7 5.7 .7-10.2 .7 4.6 .7 .6 .7-1.5 .7 3.7 .7-5.4 .7 8.2 .7-10.9 .7-4.1 .7 7.9 .7 6.8 .7-9.6 .7-.6 .7 1.6 .7 2.9 .7-2 .7 2.8 .7-11.5 .7 18.2 .7-5.2 .7-8.1 .7 12.6 .7-5.2 .7 5.8 .7-15 .7 16 .7-9.1 .7-11.9 .7 15.9 .7-6 .7-4 .7 4.5 .7-9.8 .7 14.3 .7-4.5 .7-.3 .7 9.5 .7-7.8 .7-3.9 .7-1.7 .7 5.1 .7 6.4 .7-9.4 .7-2.5 .7 11.1 .7-4.9 .7-.5 .7 11.9 .7-18.6 .7 8 .7-11.2 .7 8.3 .7 5.1 .7 3 .7-13.6 .7 12 .7-.3 .7-5.2 .7 14.6 .7-13.9 .7-5.1 .7 7.3 .7-13.1 .7 19.3 .7-3.4 .7-8.1 .7 5.6 .7-.7 .7 7.7 .7-14.7 .7-4.1 .7-4.4 .7 9.5 .7-7.5 .7 7.7 .7 3 .7-5.2 .7-3.1 .7 11.8 .7-8.2 .7 2.1 .7 3.8 .7-13.1 .7 1.9 .7 19 .7-15.3 .7-5.3 .7 4.2 .7-2.1 .7-3.9 .7 4.4 .7 1.9 .7-.1 .7 2.9 .7-13.1 .7 1.2 .7 12.8 .7-7.1 .7 9.3 .7-5.2 .7-9.7 .7 11 .7-8.8 .7 7.3 .7 5.7 .7 5.2 .7-12.1 .7 4.6 .7-1.9 .7 3.2 .7-18.5 .7 12.7 .7 4.3 .7 1.5 .7-6.4 .7 9.5 .7 2.1 .7-5.3 .7-1.2 .7-.2 .7 3.4 .7 6.4 .7 2.2 .7-10.6 .7-2.2 .7 1.2 .7 10.4 .7-4 .7 .7 .7 1.3 .7-.4 .7-2.6 .7-5 .7 2.5 .7 4.4 .7 1.7 .7-4.2 .7-.1 .7 10.2 .7-10.2 .7 4 .7-2.9 .7-2.9 .7-3.6 .7 5.7 .7-1.5 .7 9.5 .7-11.1 .7 4.2 .7 6.1 .7-4.2 .7 3.6 .7 2 .7-14 .7 7.2 .7-3 .7 13.1 .7-8.1 .7 3.5 .7 6.9 .7-11.4 .7 2.5 .7 2 .7-3.6 .7 8.6 .7-2.3 .7 1.2 .7-5.2 .7-2 .7 .1 .7 .1 .7-7 .7 11.4 .7 2.8 .7-4.5 .7-2.5 .7 3.2 .7 1.3 .7 .8 .7 8.5 .7-14.6 .7 7.1 .7 2 .7-3.1 .7-1.5 .7-4.2 .7 2.7 .7 7.5 .7 4.4 .7-11.5 .7 6.6 .7 .5 .7 3 .7-4.1 .7 1.4 .7 2.7 .7-11.2 .7 7 .7-9.9 .7-1 .7 6.6 .7-3.8 .7 11.6 .7 2.9 .7-7 .7 1 .7-.3 .7-.1 .7 2.4 .7 1.3 .7-4.5 .7-1.7 .7 1.6 .7 7.5 .7-6.7 .7 10.4 .7-9.3 .7 9 .7-14.1 .7 2.8 .7 6.6 .7 .1 .7-3.5 .7 12.3 .7-10.9 .7 1.3 .7-4.7 .7 12.4 .7-4.4 .7-2.4 .7-11.3 .7 11.2 .7-4.6 .7 4.8 .7 3 .7-9.2 .7 5.4 .7 3.7 .7-3.9 .7-2.6 .7-4 .7 2.2 .7-3.3 .7 12.6 .7-4.8 .7-7.3 .7 6.8 .7-7.1 .7-10.9 .7 24.9 .7-.2 .7-14.5 .7 4.2 .7 5.2 .7-3.2 .7-2.6 .7 2 .7 1.5 .7-1.6 .7 4.2 .7-2.3 .7-2.9 .7 4.4 .7-9.3 .7 17.2 .7-17.5 .7 9.2 .7 2.4 .7 .5 .7-.8 .7 5.5 .7-13.1 .7 5.9 .7 1.3 .7-3.5 .7-.5 .7 10.4 .7-10.9 .7 1.4 .7 1.1 .7 .5 .7 2.1 .7-1.9 .7 3.2 .7-1.2 .7 2 .7 5 .7-12.1 .7 13.8 .7-11.4 .7 6.3 .7-2.7 .7-2.3 .7-9 .7 19.8 .7-12.8 .7 .1 .7 10.4 .7-5.2 .7 10.3 .7-.9 .7-5.1 .7-2.2 .7 3.1 .7-11.1 .7 8.5 .7 .2 .7-3.1 .7 4.3 .7-9.1 .7 13.3 .7 2.5 .7-13.8 .7 8.2 .7 8 .7-5.8 .7-7.6 .7 .6 .7 10.4 .7 5.7 .7-15.7 .7 6.5 .7-4.2 .7 3 .7 3.6 .7-1.7 .7-3.2 .7 15.5 .7-12.1 .7 .1 .7 7.3 .7-5.7 .7-1 .7 6.5 .7-10.6 .7 10 .7 1.7 .7-1.8 .7-4.4 .7 1.2 .7-9.2 .7 8.9 .7 2.5 .7 3.4 .7-3.8 .7-2.7 .7-2.3 .7 4.6 .7 1.1 .7 6.1 .7-6.4 .7-2.6 .7 2.4 .7-1.9 .7 1.6 .7-10.6 .7 3.6 .7 2.4 .7 9.2 .7-2.8 .7 1.5 .7 5.7 .7-11.8 .7 12.1 .7-3.9 .7-5.7 .7 12.2 .7-15.6 .7 1.8 .7 5.3 .7 3.6 .7-3 .7-10.4 .7 10.3 .7 1.4 .7 14.6 .7-6.1 .7-6.6 .7-6.3 .7 8.1 .7-7.9 .7 7.7 .7 1.2 .7-3.9 .7 3.8 .7-2.9 .7-1 .7 11.7 .7-4.8 .7-4.6 .7-2.2 .7 5.5 .7 2.4 .7 1.8 .7 3.7 .7-5.2 .7-8.3 .7 17.4 .7-4.4 .7-1.5 .7 3 .7-15 .7 6.3 .7-.4 .7 9.5 .7-12.6 .7 4.9 .7 10.3 .7-4.4 .7-5.3 .7 12.5 .7-17.1 .7 10 .7-3.4 .7 4.3 .7-3.9 .7-2.7 .7 6 .7-8 .7 10.4 .7-4.3 .7 7.1 .7-7.1 .7-.9 .7 6.1 .7 4.9 .7-17.6 .7 12.2 .7 3.1 .7-10.8 .7 3.3 .7 8.5 .7-7.6 .7 1.3 .7 13 .7-14.1 .7 .7 .7-7.6 .7 6.8 .7-.5 .7 16.2 .7-2.4 .7-13.3 .7 17.7 .7-6.3 .7-5 .7 5.5 .7-2.2 .7-6.1 .7-5.3 .7 4.6 .7 5 .7-1.8 .7-2 .7 9.3 .7-11 .7 10.7 .7-7.4 .7 3.3 .7-6.7 .7 6.1 .7-4.1 .7-5.2 .7 9.4 .7-.2 .7 4.9 .7-3 .7-7 .7 2.2 .7-10.1 .7 7.5 .7 13.1 .7 1.2 .7-4 .7-2.5 .7 1.6 .7-.5 .7-12 .7 4.7 .7 11.2 .7 0 .7-5 .7-3 .7-.3 .7-.8 .7-2 .7-5.4 .7 11.3 .7-3.2 .7 1.4 .7 10.6 .7-6 .7-6.9 .7 7 .7-11.2 .7 14 .7-4.1 .7-2.4 .7 4.3 .7 5 .7-10.3 .7-2.7 .7 17.1 .7-11.3 .7 8.2 .7-11.6 .7 5.9 .7-5.3 .7 7.1 .7-4.7 .7-2 .7 12.3 .7-6.4 .7-12.7 .7 10 .7-3.5 .7-1.4 .7 3.6 .7 .8 .7 3 .7-4.3 .7-5.6 .7 7.4 .7 7.9 .7-12 .7 11 .7-.6 .7-4.8 .7 4.3 .7-5.5 .7 2.1 .7-3.2 .7 8.3 .7 5.1 .7-11 .7 10.5 .7-18 .7 7 .7-.5 .7 15.2 .7-12.4 .7 7.6 .7-15.2 .7 12 .7 2.7 .7-3.1 .7-14.4 .7 16 .7 3.7 .7 3 .7-4.8 .7-11.2 .7 8.3 .7 6.3 .7-9.2 .7 7.8 .7-5.5 .7 3.4 .7 3.9 .7-7.9 .7 19.9 .7-14.7 .7 1.3 .7-5.7 .7 4.6 .7-1.5 .7-6.3 .7-.2 .7 10.2 .7-1.8 .7-13.7 .7 2.9 .7 10.3 .7 1.6 .7 3.9 .7-9.9 .7 10.3 .7-4.7 .7-.8 .7 2.2 .7 6.5 .7-2.1" stroke="#f00" class="cv"/>
<path d="M144.5 1456.0l.7 109.5 .7 68.3 .7 33.7 .7 25.9 .7 14 .7 7.3 .7 11.6 .7 2.1 .7 4.3 .7-1.6 .7 6.7 .7-4.1 .7 5.8 .7-1.5 .7 2.3 .7-3.5 .7-5.5 .7-.3 .7 19.6 .7-7.7 .7 1.1 .7-2.5 .7-.8 .7 19.1 .7-21.2 .7 6.5 .7 .8 .7-5.2 .7-.1 .7 3.8 .7 2.6 .7-.2 .7 7.7 .7-10.4 .7 9.3 .7 6.3 .7-2.7 .7-10.7 .7-9.5 .7 21.4 .7-1.5 .7-5.6 .7 10.7 .7-8.8 .7 3.2 .7-5.9 .7 7.8 .7-3.7 .7-.1 .7 9.1 .7-4.4 .7-9.1 .7 12.4 .7 1.1 .7-8.8 .7 2.7 .7 2.8 .7-1.4 .7 2.4 .7 3.2 .7-6 .7 14.5 .7-15.1 .7 1.2 .7 14.1 .7 2.6 .7-12.6 .7-.9 .7-4.6 .7 12.4 .7-5 .7-5.3 .7 7.2 .7 5.6 .7-3.5 .7 8.7 .7-5.5 .7-3.6 .7-2.3 .7 3.5 .7 4.1 .7-1.7 .7 1.5 .7-4.2 .7 3.4 .7 2.8 .7-7.2 .7-5.9 .7 17 .7-6 .7-5.3 .7 4 .7-2.4 .7-7.7 .7 8.5 .7-6.6 .7 9 .7-1.6 .7 6.8 .7-6.9 .7 2.5 .7-4 .7-.9 .7-6.1 .7 12.5 .7-5.3 .7-4.9 .7 3.4 .7-4.4 .7-2.7 .7 4.3 .7 4.1 .7-9.3 .7-7.6 .7 3.2 .7 12.1 .7-15.7 .7 9.7 .7-9.1 .7 4.1 .7-5.9 .7-9.3 .7 5.2 .7 12.7 .7-13.5 .7 2.8 .7-6 .7 .2 .7 1.6 .7 0 .7 8.9 .7-12.9 .7-1.4 .7-3.1 .7-3.9 .7-1.8 .7 12.5 .7-13.9 .7 18.1 .7-2.8 .7-6.1 .7-4.4 .7 6.9 .7 .3 .7 6.6 .7-9.8 .7 2.5 .7 2.4 .7-.7 .7-1.3 .7-5.3 .7 1 .7 6 .7 3.1 .7 7.4 .7 7.9 .7-2.7 .7-6.6 .7 8.8 .7-10.4 .7-1.7 .7 16.1 .7-18.1 .7 4 .7 1.3 .7 9.8 .7-11 .7 7.7 .7-6.3 .7-4.4 .7 8 .7-.4 .7-7.3 .7 1.5 .7 .3 .7 9.5 .7-2.9 .7-1.4 .7 1.2 .7-5.5 .7 5 .7-6.2 .7-4.2 .7 3.2 .7 4.7 .7-1 .7 5.1 .7-15.5 .7 7.8 .7 3 .7-7.8 .7 6.4 .7-4 .7-4.3 .7 12 .7-14.2 .7 12.8 .7-8.1 .7-3.2 .7-.1 .7 .5 .7-.9 .7 5.8 .7-12 .7 16.7 .7-2.5 .7 2.7 .7-13.3 .7-7.6 .7 9 .7 2.1 .7 2.3 .7-4.8 .7 2 .7 1 .7-9.7 .7 18.1 .7-16.4 .7 7.3 .7 4.1 .7-10.6 .7 4 .7 8.6 .7-10.9 .7 7 .7-4.5 .7-.7 .7 2.3 .7-5.6 .7-.2 .7 6.1 .7-4.3 .7 1 .7-9.7 .7 6.3 .7 6.2 .7-2.1 .7-3.4 .7-5.1 .7-.9 .7 5.4 .7 5 .7-8 .7 6.6 .7-9.2 .7 7.8 .7-12.4 .7 6.1 .7-7.3 .7 9.1 .7-.8 .7-8.8 .7 .7 .7 1.3 .7-6.1 .7 2.7 .7-.1 .7 8.7 .7 2.9 .7-10.5 .7 .5 .7 2.3 .7-4.4 .7 .9 .7 5.7 .7-3.7 .7-2.2 .7-3.1 .7 10.8 .7-11.8 .7 3.6 .7-6.8 .7 2 .7 3.3 .7-3.1 .7 4.7 .7-3 .7-8.4 .7-5.6 .7 17.7 .7-9.1 .7 10.9 .7-8.5 .7-4.8 .7 6.8 .7-5 .7 1.1 .7-5.7 .7 8.2 .7 2 .7-9.4 .7 12.2 .7-13.4 .7 4.1 .7-10.9 .7-2 .7 21.6 .7-4.2 .7-2 .7-16.1 .7 10.1 .7 .6 .7-2.4 .7 .7 .7-7.1 .7 3.6 .7-5.8 .7 3.8 .7 3.4 .7-6.8 .7 2.2 .7-1.4 .7 1.9 .7 4.4 .7-4.3 .7 .3 .7-10.6 .7 5.3 .7 5.9 .7-9.9 .7 1.8 .7-3.6 .7 12 .7-10.5 .7-2.2 .7 6.7 .7 1.9 .7-4 .7 1.9 .7-4.9 .7-2.7 .7-2.6 .7-1.3 .7-1.6 .7 4.1 .7-3.9 .7-.2 .7 1.5 .7-4.9 .7-8.7 .7 1.8 .7-3.1 .7-5.7 .7 9.7 .7-8.4 .7-1.6 .7 0 .7 9.8 .7-7.4 .7 6.4 .7-6.6 .7-2.3 .7 5.1 .7-.2 .7-2.9 .7-6.7 .7 2.9 .7-4.2 .7 4.8 .7 1.7 .7 7.4 .7-.6 .7-4.2 .7 1.4 .7-4.2 .7 13.8 .7-7 .7 6 .7-12.5 .7 0 .7 3.4 .7-4.9 .7 .6 .7-7.3 .7 10.5 .7-4.6 .7 3.6 .7-5.8 .7-8.7 .7 12.4 .7 3.4 .7-13.6 .7 1.6 .7 3.4 .7 .1 .7-8.2 .7 18.8 .7-4.4 .7-9.2 .7-6.9 .7 11.7 .7 8.6 .7-6.8 .7 1.5 .7-12.1 .7 5.8 .7-10.4 .7 18.2 .7-8.9 .7-16 .7 .1 .7 11.4 .7-3.4 .7-4 .7 3.5 .7 6.1 .7-10.6 .7-13.5 .7 7.5 .7-7.8 .7 1.4 .7 4.8 .7-3.9 .7-6 .7 4.7 .7-5.2 .7 6.4 .7-5.2 .7 2.6 .7-4.6 .7 4.7 .7-5.7 .7 0 .7-3.7 .7 3.4 .7-10.9 .7 24.2 .7-18.5 .7 4.4 .7-3 .7 .2 .7 5.2 .7-4.7 .7 1 .7-4.7 .7 3 .7-.7 .7 17 .7-16.6 .7 2.1 .7 7.7 .7 7.5 .7-16.4 .7 1.5 .7 9.9 .7 1.9 .7-9 .7-1.5 .7 5.3 .7 9.9 .7-3.8 .7 4.8 .7-4.3 .7 .7 .7 3.8 .7-3.8 .7 2 .7-6.3 .7 1.6 .7 5.7 .7-4.1 .7-3 .7 7.4 .7-.9 .7-3.5 .7-4.5 .7 8.7 .7 8.3 .7-18.7 .7-4.5 .7 3.7 .7-1.4 .7-2.3 .7-.1 .7 10.7 .7-.4 .7 2.9 .7-4.5 .7-7.1 .7 8.2 .7-9.7 .7 1 .7-4.9 .7 12.9 .7-1.6 .7-8.5 .7 .5 .7 1.5 .7 .5 .7 3.1 .7-4.7 .7 1.4 .7-11 .7 6.1 .7-8.8 .7 19 .7-2.7 .7-4.4 .7 1.5 .7 4.2 .7-6.6 .7-14.7 .7 6.8 .7-12.6 .7 7.6 .7-3.2 .7 5.9 .7 1.3 .7-8.1 .7 2.6 .7 2.1 .7-3.3 .7-1.2 .7-13.2 .7 9.8 .7 5.7 .7-4 .7-10.6 .7 5.6 .7 1.9 .7-7.9 .7 7.9 .7-9.2 .7 1.5 .7 .1 .7 11.7 .7-15.2 .7-2.6 .7 5.8 .7-7.8 .7 2.4 .7-14.8 .7 12.7 .7-3.2 .7-8.4 .7 13.1 .7-10.3 .7-1.2 .7-7.7 .7-3.3 .7 4.2 .7-6.8 .7 9.4 .7 .4 .7-9.9 .7-7 .7 4.9 .7-5.4 .7 5 .7-1.7 .7-5.1 .7 .9 .7 3.4 .7 1.7 .7-14.4 .7 4.8 .7-7.5 .7-6.7 .7 10.7 .7-7.1 .7-3.6 .7-1 .7-5 .7-7 .7 13.4 .7-6.8 .7-5.4 .7 2 .7 0 .7-9.9 .7 2.6 .7-6.7 .7 3.7 .7-6.7 .7 13 .7-17.1 .7 2.9 .7-2.2 .7-6.5 .7 4.9 .7-7.9 .7-4.3 .7-.3 .7-6.9 .7 7.6 .7-7.2 .7-2.8 .7-18.2 .7 3 .7-11.7 .7-1.4 .7 .6 .7-11.2 .7-7.4 .7 2.8 .7-3.9 .7 2.1 .7-22.7 .7 9.7 .7-6.3 .7-4.7 .7 3.4 .7-8.9 .7-7.8 .7 5.6 .7 2 .7 10.3 .7-15.5 .7-3.6 .7-5.3 .7 8.2 .7 .1 .7 1.9 .7-8.7 .7 4.5 .7-6.7 .7 15.5 .7-6.8 .7-3.4 .7 24.9 .7 .1 .7 2.9 .7 3.8 .7-4 .7 15.1 .7-8.4 .7 19.8 .7-5.4 .7-7.4 .7 19.1 .7 10.3 .7-8.1 .7 11.2 .7-3.3 .7 1 .7-7.9 .7 23.3 .7-7.5 .7 6.1 .7-6.8 .7 2.8 .7 12.6 .7-6.9 .7 1.2 .7-3.5 .7 9.2 .7 4.2 .7-5.9 .7 2.4 .7-5 .7 15 .7-10.6 .7 2.8 .7 10.3 .7-10.5 .7-7.6 .7 2.8 .7 2.2 .7 10.7 .7-10 .7-4.1 .7 4.1 .7 .7 .7-13.4 .7 10 .7-5.3 .7-4.6 .7-18.4 .7 10.7 .7 2.6 .7-13.6 .7 9.7 .7-17.3 .7-11 .7 4 .7-6.6 .7-1.8 .7-10.9 .7 3.2 .7-15.6 .7-1.7 .7-13.2 .7-3 .7 0 .7-10.1 .7-4 .7-3.8 .7-2.6 .7-2.3 .7-5.1 .7-3.7 .7-9.6 .7-9.1 .7-10.6 .7 2.1 .7-7.1 .7-10 .7 15 .7-23.4 .7 8.4 .7-2.6 .7-7.9 .7 12.2 .7-17.6 .7-7.7 .7 10.7 .7-17.6 .7-6.8 .7-1 .7-1.5 .7 0 .7-3.1 .7-14.9 .7 7 .7 9.1 .7-15.7 .7 5.1 .7 7.5 .7 6.5 .7-6.2 .7 2.8 .7 4.4 .7 16.1 .7 3 .7-13.6 .7 3.5 .7 8.7 .7 2.3 .7 14.6 .7 2.8 .7 13.6 .7-2.7 .7-.3 .7 9.1 .7-8.7 .7-.4 .7 9.9 .7 6.3 .7-13.7 .7 14.1 .7-.2 .7-7.6 .7 3.7 .7-2.5 .7 2 .7 4.1 .7-9 .7 10.3 .7-1 .7 .2 .7-16 .7 .6 .7 14.2 .7-7.1 .7-.2 .7 .4 .7-1.9 .7 7.6 .7-.5 .7 2.6 .7 8.6 .7-6.9 .7 15.3 .7-16.3 .7 29.2 .7-18.3 .7 14.4 .7 5.6 .7-1.2 .7 8.1 .7-.9 .7-5.7 .7 15.1 .7 7.5 .7-6.7 .7-3.8 .7 8.6 .7 7.7 .7 2.3 .7 7 .7-.4 .7 2.4 .7-11.1 .7 26.8 .7-8.9 .7 8.1 .7-3.2 .7 4.8 .7 4.9 .7 12.2 .7 3.3 .7-1.4 .7 11.2 .7-9.9 .7 8.3 .7-2.3 .7 12.9 .7-3.9 .7 8.4 .7 7.2 .7-18.3 .7 26.7 .7-7.6 .7-.9 .7-6.5 .7 11.3 .7-9.2 .7 15.3 .7 .4 .7 12.9 .7-10.4 .7 9.4 .7 2 .7 6.4 .7-11.7 .7 6.9 .7-11.8 .7 3.3 .7 5.6 .7 2.3 .7-5.8 .7 5.4 .7 7.1 .7-5.7 .7 2.4 .7-3.4 .7 13.6 .7 2.9 .7-8.2 .7-1.1 .7 10.6 .7-6.1 .7-5.9 .7-3.2 .7 4.8 .7 16.2 .7-15.3 .7 20.1 .7-15.9 .7-.8 .7 9 .7-8.5 .7 3.9 .7-7.7 .7-.9 .7 3.1 .7 5.7 .7-4.7 .7-7.1 .7 14 .7-3.4 .7-.4 .7-1.7 .7-9.1 .7 21.9 .7-11.5 .7 5.9 .7 5 .7-1.3 .7-5 .7-.9 .7 1.8 .7 3.6 .7-1.7 .7-5.6 .7 5.2 .7-.2 .7 1.9 .7-2.6 .7 6.7 .7-6.5 .7 4 .7-4.6 .7-3.4 .7-2 .7 4.6 .7 4 .7 4.2 .7-7.5 .7-2.3 .7 .2 .7 10.3 .7-6.6 .7-3.3 .7 7.2 .7-11.5 .7 8.3 .7-.7 .7-.3 .7-5.5 .7 12.3 .7 4.4 .7-16.5 .7 8.8 .7 3.7 .7 9.9 .7-14.3 .7-2.2 .7 6.1 .7 12.1 .7-10.3 .7 1.7 .7 8.9 .7-21.7 .7-.1 .7 17.2 .7-.9 .7-12.6 .7 10.3 .7-3.3 .7 .4 .7-6.6 .7 1.2 .7-3.3 .7 4.3 .7-2.6 .7 9.8 .7-7 .7-13.5 .7 10.2 .7 4.6 .7-7.5 .7 3.6 .7-7.3 .7 3.3 .7-10 .7 8.9 .7-12.9 .7 14.3 .7-16.6 .7-4.1 .7 14.2 .7-4.7 .7 .9 .7 1 .7-3.3 .7-5.5 .7 5.5 .7 0 .7 .2 .7 7.7 .7-16.1 .7 3.9 .7 2.1 .7-6.4 .7-4.9 .7 3 .7 8.5 .7-8.1 .7 4.3 .7-8.2 .7 6.1 .7-6.8 .7-1.5 .7 4.9 .7-.8 .7 7.4 .7-18.2 .7 11.2 .7 4.9 .7-3.1 .7-11.9 .7-4 .7-1.7 .7 1.6 .7-3.7 .7-2.4 .7-2.1 .7-12.9 .7-3.9 .7-4.2 .7-4.3 .7 3.5 .7-1.1 .7 9.3 .7-14.4 .7-5.8 .7 5.3 .7-14.5 .7 4 .7 2 .7-2.7 .7-3.7 .7-5.7 .7-6.6 .7 4.6 .7-4 .7 5.8 .7-6.1 .7 2.6 .7-13.7 .7 13.3 .7-11.6 .7-5.2 .7-.1 .7 3.1 .7 8.9 .7-3.3 .7-11.5 .7 6.3 .7-1.8 .7-8.9 .7 2.7 .7-6.3 .7 6.2 .7-10.2 .7 10.3 .7-.7 .7 .9 .7 .3 .7 11.7 .7-7.7 .7 4.2 .7 3.9 .7 2 .7 0 .7-5.6 .7-1.6 .7 3.4 .7 3.4 .7 4.4 .7 1.2 .7 8.5 .7-5 .7 12.6 .7-2.5 .7-6.6 .7 9.4 .7-19.2 .7 25.7 .7-3.7 .7 1.6 .7-10.1 .7 25.2 .7-14.1 .7 2.1 .7 8.6 .7-5.9 .7-2.2 .7 10 .7-7.9 .7 11.4 .7-1.9 .7 7.1 .7-11.6 .7 15.4 .7-3.8 .7 11 .7-13.2 .7 15.7 .7-4.8 .7 2.1 .7-7 .7 8.9 .7 2.3 .7-6.8 .7-.1 .7 3.8 .7 14.3 .7-5.6 .7 6.1 .7-1.9 .7 .8 .7 2.4 .7-1.7 .7 11 .7-4 .7 2.3 .7-7 .7 11.6 .7-3.5 .7 3.1 .7 10.8 .7-9.7 .7 7.2 .7 6.9 .7 5.1 .7-7.1 .7 6.9 .7 2.1 .7-5.8 .7-3.5 .7 3.4 .7 16.4 .7-.7 .7-6 .7 6 .7 3.4 .7 2.2 .7 3.7 .7 14.4 .7-15 .7 7 .7-3.3 .7 2.6 .7 .4 .7 5.4 .7 0 .7 6.9 .7 1 .7-4.4 .7 17.5 .7-15.7 .7 10.2 .7 11.8 .7-14.7 .7 13 .7 1.9 .7-4.8 .7-11 .7 19.5 .7-6.4 .7-2.6 .7 11.1 .7-10.5 .7 10.9 .7-8.3 .7 6.9 .7-8.3 .7 4.5 .7-2.2 .7 1.9 .7 5.8 .7-1.4 .7 2.7 .7 6.8 .7-7.2 .7-9.2 .7 9.5 .7 2.6 .7 5.8 .7 .7 .7 0 .7-6.1 .7 5.4 .7-11.2 .7 15.8 .7-4.4 .7 .8 .7-4.6 .7 2.8 .7-3.7 .7 7.2 .7-10.3 .7 13.2 .7-2.2 .7 8.6 .7-11.4 .7-.2 .7 1.8 .7-.8 .7-.6 .7-5.5 .7 .1 .7 3.1 .7 1.7 .7-5 .7 .2 .7 5 .7 5.9 .7-5.2 .7 4.9 .7 1.8 .7-1.1 .7-6.7 .7 .2 .7-8.2 .7 6.7 .7 6.6 .7-8.7 .7 13.7 .7 .6 .7-10.1 .7 7.3 .7-13.1 .7 2.2 .7 3.9 .7 2.2 .7-1 .7-3.7 .7 16 .7-9.3 .7 .1 .7 2.4 .7-2.7 .7-2.1 .7-1.6 .7-5.7 .7 17.9 .7-13.1 .7-3.7 .7 5.2 .7-3.9 .7 20.8 .7-8.6 .7 6.5 .7 .9 .7-4.3 .7 .7 .7-6.6 .7 4.3 .7-2.2 .7 4.3 .7-3.4 .7 11.7 .7-2.1 .7-4.2 .7-8.1 .7 13.9 .7 1.8 .7-4.7 .7-6.1 .7 10.1 .7 4.1 .7-15.9 .7 14.6 .7-12.6 .7 11.4 .7 10.2 .7-8.5 .7 3 .7-3.7 .7 2.6 .7 14 .7-4.9 .7-8.4 .7 .5 .7 3 .7 13 .7-10.4 .7 5.8 .7-7.5 .7-4.4 .7 15.3 .7-7.3 .7-3.3 .7 1.1 .7 .6 .7 .9 .7-4.8 .7 15.8 .7-4.3 .7 3.6 .7-7.1 .7 4 .7-.9 .7 5.7 .7-2 .7-2.6 .7-5.7 .7-3.2 .7 2.2 .7 .8 .7 .5 .7-4.1 .7 16.1 .7-7.9 .7-13 .7 5.1 .7-1.6 .7 8.6 .7 4.5 .7-11.7 .7 8.8 .7-5.2 .7 7.7 .7 1 .7-6.1 .7 2.1 .7-4.2 .7-2.3 .7-4.7 .7 8.2 .7-2.5 .7-1.9 .7 1.5 .7-.8 .7-4.9 .7 2.6 .7 9.2 .7-7.8 .7 8.9 .7-14.4 .7-1.2 .7 8.2 .7 3.5 .7-8.1 .7 7.1 .7 1.7 .7 .7 .7-6.6 .7 .3 .7-8.9 .7 9.3 .7 1.5 .7 6.3 .7-15 .7 2.4 .7-.9 .7 10.6 .7-19.1 .7 8.1 .7 17.5 .7-7.8 .7-11.1 .7 7.1 .7 5 .7-1.6 .7-4.3 .7-3.2 .7 9 .7-4.6 .7 4.5 .7-2.3 .7-4.8 .7 10.6 .7-10.8 .7 5.2 .7-5.9 .7 2.2 .7-.1 .7-2.3 .7 5 .7 6 .7 3 .7-2.3 .7-9 .7 9.1 .7-5.8 .7 7.7 .7-17 .7 15.2 .7-11.5 .7 9.7 .7-9 .7 7.7 .7-6.7 .7-8.9 .7 5 .7 4 .7 1.4 .7-12.7 .7 5.7 .7 2.5 .7 2.7 .7 2.3 .7-5.9 .7-4.1 .7 9.9 .7-3.7 .7 6.6 .7-8 .7 6.3 .7-8.7 .7 6.2 .7-1.2 .7 1.8 .7-7.9 .7 4.3 .7-4.2 .7 3.6 .7 4.1 .7 12.9 .7-16.5 .7 3.5 .7-3.5 .7 5.5 .7-3.9 .7 3.1 .7-4 .7 11.2 .7-5.8 .7-17.2 .7 11 .7-1.3 .7-12.7 .7 7.3 .7 2.2 .7-1.5 .7 4.7 .7-10.6 .7 14.1 .7 .2 .7-2.3 .7-3.7 .7 1.9 .7-2.5 .7 9 .7-3.4 .7 8.3 .7-12.9 .7 10.2 .7-11 .7 2.4 .7-4.7 .7 8.8 .7-3 .7 3.9 .7 5 .7-8.3 .7 2.5 .7 3.1 .7-5.1 .7-2.5 .7 5.2 .7 1 .7 1.7 .7 .5 .7-8.1 .7 6.3 .7 4.6 .7-9.1 .7 4.9 .7-5.2 .7 4.7 .7 9 .7-8.3 .7-6 .7 7.6 .7-.3 .7 5.3 .7-13.4 .7 2.9 .7 5 .7-7.7 .7 15.2 .7-17 .7 6.9 .7-3.2 .7 4.9 .7 8.4 .7-.7 .7 2.1 .7-1.5 .7-14.2 .7 13.2 .7-11.6 .7 7.7 .7 .8 .7-.6 .7 6 .7-7 .7 14.1 .7-6.1 .7 3.3 .7-2.2 .7 .8 .7-5.2 .7 11.1 .7-16.7 .7 8.4 .7-2.5 .7-1.3 .7 3 .7-5.9 .7 8.9 .7-.4 .7-3.8 .7 3.5 .7-9.8 .7-4.2 .7 6.7 .7 1.9 .7 15.1 .7-15 .7 6.9 .7-1 .7 7 .7-11 .7 3 .7-4.7 .7-3.7 .7-.8 .7 1.2 .7 12.2 .7-6.3 .7-2.4 .7 .9 .7-3.2 .7 3 .7-.1 .7 3.8 .7 1.5 .7-14.1 .7 10.3 .7 6.3 .7-13.2 .7 4.3 .7 2.3 .7 5.1 .7-2.8 .7-4.5 .7 4 .7 3 .7-3.6 .7 8.1 .7-7.9 .7-8.1 .7 1.4 .7 3.6 .7-.4 .7 4.6 .7-1.5 .7 7.5 .7-5 .7 3.7 .7-12.3 .7 1.8 .7 6.1 .7-3.2 .7 2.9 .7-2.1 .7-4.7 .7 12.8 .7-3.1 .7-14.9 .7 5.2 .7 3.5 .7 3.6 .7-4.1 .7-7.1 .7 12.1 .7-5.8 .7 7.8 .7-4.9 .7 3.8 .7-.9 .7 .3 .7-7.7 .7 8.5 .7-4.5 .7-7.9 .7 4.8 .7 .4 .7 4.5 .7 1.3 .7-9.7 .7 10.2 .7-4.1 .7-5.3 .7 10.6 .7-8.6 .7-2.2 .7 10.9 .7 1.1 .7-8.4 .7 9.7 .7-.1 .7-8.1 .7 14.1 .7-11 .7 1.8 .7-14 .7 16.8 .7-6.6 .7 6.1 .7-11.5 .7 16.1 .7 1.9 .7 2.7 .7-26.3 .7 19.7 .7-1 .7-18.2 .7 12.9 .7 3.8 .7 8.6 .7-12.1 .7 6 .7-1.1 .7 2.6 .7-3.9 .7 7.5 .7 .8 .7-12.4 .7 14 .7-9.9 .7 3 .7 8.1 .7-5.2 .7 3 .7 1.7 .7-.6 .7-5.8 .7-1.9 .7 9.5 .7 .9 .7-1.8 .7-2.5 .7 6.2 .7-4.4 .7-6.9 .7 9.6 .7 1.6 .7 2 .7-8.7 .7 1.3 .7 6.4 .7-3.9 .7 2.6 .7 5.9 .7-2.5 .7 8.3 .7-8 .7 8.2 .7-3.2 .7 8.6 .7-13.5 .7-.2 .7 8 .7-9.5 .7 .6 .7 4.3 .7 1.1 .7-9.3 .7 9.4 .7-2.7 .7 2 .7 1.5 .7-1.6 .7 7.3 .7-2.9 .7-3.3 .7 1.9 .7 5.6 .7-1 .7 3 .7-7.3 .7 1.9 .7 10.6 .7-10.9 .7 9.8 .7-4.2 .7-6.6 .7-5 .7 11.5 .7-7 .7 .3 .7-5.3 .7 16.3 .7-5.7 .7-.1 .7 2.3 .7-.5 .7-.5 .7 2.6 .7-4.1 .7-12.3 .7 18.4 .7-1.5 .7-1.9 .7 8.8 .7-16 .7-8 .7 24.2 .7-5.6 .7-11 .7 7 .7 5.9 .7-9.8 .7 9.9 .7 8.8 .7-3.8 .7-7.5 .7 2.2 .7-6.7 .7 6.1 .7-2.3 .7-3.4 .7-1.7 .7 18.1 .7-9.9 .7-5.9 .7 3.5 .7 10.6 .7 .9 .7-12 .7 4.6 .7 4 .7-6.6 .7-4.4 .7 1.2 .7 5.6 .7-4.2 .7-2.7 .7 5.9 .7 6.5 .7-1.2 .7-4.9 .7 11.8 .7-14.6 .7 4 .7-7 .7 11.8 .7-4.8 .7-8.4 .7 4.8 .7 14.4 .7-5.7 .7-3.3 .7 4.2 .7-13.3 .7 4.3 .7-2.6 .7 2.8 .7 2.5 .7 5 .7 2.7 .7 0 .7 9.4 .7-17.3 .7 2.6 .7 3 .7-7.2 .7 3 .7 3.8 .7-7 .7 7.5 .7 4.1 .7-12.7 .7-6.4 .7 13 .7-6.1 .7 6.6 .7-3.4 .7 4.2 .7 4.5 .7-1.7 .7-6.5 .7-4.4 .7-7.2 .7 1.7 .7 7.5 .7 4.9 .7-4.2 .7 .4 .7-5.5 .7-.3 .7-.4 .7 12.8 .7-14.2 .7 14.4 .7-8.6 .7 7.8 .7-1.6 .7 2.8 .7 2.3 .7-10.7 .7-1.1 .7 2.9 .7-1.8 .7 7.8 .7-4.3 .7 .7 .7 2.2 .7-4.9 .7 8.6 .7-16.1 .7 11.4 .7 1.4 .7-6.9 .7 .4 .7 8.7 .7-6.7 .7-8.8 .7 3.2 .7 12.8 .7-10.3 .7 12 .7 .4 .7-8.5 .7 4.2 .7-7.3 .7 2.5 .7-1.4 .7 7.3 .7-9.9 .7 6.6 .7 1.3 .7 2.9 .7-14.1 .7 2.2 .7 5.3 .7 4 .7 2.4 .7 .7 .7 10.4 .7-7 .7 .1 .7-5.4 .7 7.4 .7 0 .7 .3 .7-3.8 .7 4.5 .7 5.3 .7-12.2 .7-7 .7 16.7 .7 0 .7-4.9 .7-.8 .7 17.9 .7-17.2 .7-3.8 .7 4.4 .7 5.7 .7-5.8 .7 1.5 .7 4.1 .7-3.7 .7 3.3 .7-.6 .7-5.3 .7 6.5 .7-6.5 .7 11.8 .7-9.9 .7 4 .7-8.3 .7 7.8 .7-4.1 .7 15.2 .7-8.5 .7 3.8 .7-12.1 .7 3 .7 6.1 .7-6.2 .7 13.9 .7-8.1 .7 3.2 .7 1.1 .7-2.2 .7 5.3 .7-7.6 .7 5.9 .7 4.8 .7-5.1 .7-.2 .7-2.2 .7 2.3 .7 3.6 .7-4.7 .7-7.6 .7 10.3 .7-1.5 .7 3.6 .7-2.1 .7 8.6 .7-14.8 .7 1.5 .7 9 .7-8.9 .7 7.6 .7-1.7 .7-10.3 .7 14.5 .7 4 .7-6.1" stroke="#00f" class="cv"/>
<path d="M144.5 1456.0l.7 69.4 .7 28.2 .7 27.2 .7 15.9 .7 1.1 .7-.5 .7 11.6 .7 2.9 .7-2.6 .7 1.8 .7 9.4 .7-3.4 .7-1.1 .7 .3 .7 5 .7 .4 .7-.5 .7-5.8 .7 6.4 .7-.6 .7 4.5 .7 6.7 .7-.3 .7-.9 .7-2.1 .7-1.6 .7 4.3 .7-3.6 .7 1.4 .7-2 .7 4.9 .7 .6 .7 11 .7-6.3 .7-4.4 .7 6.8 .7-6 .7 8.6 .7-.6 .7 12 .7-20.7 .7 6.1 .7 .4 .7 2.9 .7 2.9 .7-8.3 .7 2 .7 6.2 .7 4.2 .7-10.5 .7-1.6 .7 15 .7-1 .7 2 .7-10.4 .7 4.7 .7 2.9 .7 1.7 .7-2.4 .7 .9 .7 6.2 .7-7.2 .7-.1 .7 1.1 .7 0 .7 3.8 .7-1.4 .7-.8 .7 10.2 .7-5.7 .7-3.1 .7 8.7 .7-9.4 .7 3.1 .7-.3 .7-2.5 .7 1.1 .7 2.5 .7-8.1 .7 5.5 .7 3.3 .7 .1 .7 .1 .7 10.6 .7-8.9 .7-4.4 .7 0 .7 .5 .7 2.1 .7-4 .7 9.3 .7-13.9 .7 8.9 .7-.9 .7-8.8 .7 9.1 .7-.6 .7-6.5 .7 15.3 .7-8.7 .7-5.9 .7-1.3 .7-1.9 .7 4.6 .7-1.8 .7-8.6 .7 1.1 .7 .8 .7 .7 .7-.9 .7-2.6 .7 5.8 .7 .5 .7-5.7 .7-13 .7 9.5 .7 2.6 .7-4.4 .7 .8 .7-2 .7-9.3 .7-6.4 .7 15.5 .7-6.8 .7 4.1 .7-4.5 .7 0 .7 7.5 .7-13.9 .7 5.9 .7-5.9 .7 5.9 .7 2.1 .7 1 .7-2.4 .7-7.6 .7 8.9 .7 4 .7 1.2 .7 6.7 .7-7.4 .7-7.4 .7 3.5 .7 4.2 .7 6 .7-10.4 .7 11.8 .7-.4 .7-6.9 .7 8.8 .7-6.2 .7 4.9 .7-.6 .7 3.7 .7-6.6 .7 9.6 .7-13.4 .7 9.8 .7-.4 .7 11.5 .7-5.2 .7-5.3 .7-2.1 .7 4.6 .7-3.9 .7 14.5 .7-26.8 .7 14.1 .7-13.9 .7 17.3 .7-10.5 .7 11.6 .7-12.2 .7 7.5 .7-5.6 .7 4.2 .7-7 .7-16.6 .7 11 .7-5.1 .7 12.4 .7-2.6 .7-3.2 .7 2.1 .7-1.6 .7-4.3 .7 13 .7-9.2 .7-2.5 .7-6.8 .7 4.2 .7 3.2 .7-1.2 .7-1.7 .7 2.1 .7-5.8 .7 5.8 .7-8.2 .7 3.4 .7 .5 .7 8.3 .7-2.1 .7-2.3 .7-6.5 .7 3.8 .7 6.1 .7 2.3 .7-14.4 .7 5.3 .7 2.7 .7 1.1 .7-1.9 .7 3.3 .7-11.3 .7 15.5 .7-14.3 .7 6.1 .7 2.2 .7 3.2 .7-1.6 .7-.4 .7 1.8 .7-7.7 .7 4.5 .7 3.8 .7-12.3 .7-3.6 .7 1.8 .7 12.3 .7-1.1 .7-8.7 .7 2.8 .7 .9 .7 2.7 .7-15.7 .7 6.7 .7 1.2 .7 2.7 .7-1.6 .7-2.4 .7 2.9 .7-15.4 .7 29.3 .7-12.2 .7 0 .7-8.4 .7 5.3 .7 8.2 .7-1.6 .7-9.5 .7-7.2 .7 7 .7-2.8 .7 5.6 .7-11.5 .7 5.3 .7 2 .7-4.2 .7 7.6 .7-11.9 .7-.9 .7 4.2 .7 5.8 .7-6.4 .7-1.9 .7 6.9 .7-3.4 .7-4.4 .7 3 .7-2.3 .7 4 .7-2.9 .7-5.4 .7 1.3 .7-.2 .7 3.7 .7-.4 .7-6.8 .7 2.9 .7 2.2 .7 3.7 .7-5 .7 8.5 .7-10.6 .7 3.3 .7-6.1 .7-4 .7 5.3 .7 1.5 .7-1.3 .7-1.4 .7-3 .7-3.1 .7 2.3 .7 3.5 .7 2.1 .7-22.8 .7 20 .7 2 .7 .4 .7-5.1 .7 1 .7-6.4 .7 1.4 .7 2.7 .7-9.1 .7 1.1 .7 4.7 .7-8.7 .7 6.8 .7-8.6 .7 8.2 .7-1.4 .7-3.7 .7-2.6 .7 1.7 .7-9.7 .7 9.1 .7 2.1 .7 5.1 .7-9.6 .7 1.1 .7 7.6 .7 1.1 .7-12.4 .7 7.5 .7 0 .7-4.2 .7-8.7 .7-.4 .7 7.2 .7 8.5 .7-14.2 .7 8.2 .7 .6 .7-17.7 .7 2.2 .7 9.9 .7-4 .7-3.5 .7-4.2 .7 2.2 .7-7.9 .7 15.5 .7-20.4 .7-4.4 .7 9.4 .7 6.1 .7-10.9 .7 1.8 .7-5.5 .7 4.8 .7-5.1 .7-.1 .7-2.6 .7 4.8 .7 12.6 .7-10.3 .7 1.3 .7 10.7 .7-15.2 .7-2 .7 7.9 .7-9.3 .7 8.2 .7 4.3 .7-11.8 .7 2.9 .7 11.7 .7-14.6 .7 1.9 .7 4.9 .7-3 .7-2.9 .7 12.9 .7-11.5 .7 4.7 .7-3.9 .7 .9 .7-6.2 .7 12.1 .7-7.2 .7 8.9 .7-13 .7 3.5 .7 5 .7-2 .7-4.2 .7 2.6 .7-6.3 .7 6.8 .7-14.8 .7 14.2 .7 5.3 .7-3.6 .7-1.5 .7-8.1 .7 3.3 .7-6.4 .7 0 .7-1.7 .7-19.1 .7 21 .7-4.2 .7 .4 .7-11.1 .7 7.1 .7-2.5 .7-15.7 .7 1.3 .7 8.6 .7-4.6 .7 2.8 .7-3.7 .7 11.2 .7-18 .7 2.9 .7 2.2 .7-2 .7 4.3 .7 3 .7-6.7 .7 9.2 .7 5.2 .7-.9 .7 5 .7-4.3 .7-5.9 .7 9.8 .7-5.4 .7 6.5 .7-10.6 .7-9.8 .7 5.3 .7 7.4 .7 2.3 .7-3.7 .7 6.7 .7-11.1 .7 2.7 .7 9.3 .7-4.7 .7 .6 .7 7.2 .7-1.4 .7-9.7 .7 5.5 .7-9.9 .7 9.2 .7 2.3 .7-11.1 .7 17.6 .7 2.5 .7-7.9 .7 2.4 .7 3.1 .7-8.8 .7 6.4 .7-3.6 .7-10.3 .7 3.2 .7 1.5 .7 8.3 .7-5.5 .7 4.3 .7-8.1 .7-4.7 .7 17.2 .7 3 .7-13 .7-3.6 .7 6.8 .7-12.7 .7 4.2 .7-7 .7 9.6 .7-1.7 .7-3.9 .7-1.8 .7-5 .7 3.2 .7 10.5 .7-8.8 .7 8.1 .7-11.7 .7 3.7 .7-2.4 .7 .6 .7 5 .7-15.4 .7 14.3 .7-.8 .7-4.2 .7-.1 .7-2.1 .7 4.3 .7-4 .7-5.3 .7 4.7 .7 3.7 .7-3.7 .7-2.4 .7 .3 .7-4.3 .7-.4 .7-8.2 .7 8.3 .7 5.6 .7-8 .7-3.4 .7 8.8 .7-4.5 .7-.9 .7 1 .7 .5 .7-4.7 .7-5 .7 12.8 .7-9.7 .7-5.2 .7 4.2 .7 4.5 .7-14.7 .7 13.5 .7-8.6 .7 10.3 .7-8 .7-5.1 .7 6.1 .7-1.1 .7-9.7 .7 1.8 .7-5.2 .7 6.2 .7-13.6 .7 5.1 .7-11.7 .7 12.9 .7-16.3 .7 4.7 .7 5.4 .7-4.8 .7-2 .7-4.3 .7 1.1 .7-8.4 .7 9.4 .7 .9 .7-1.8 .7-5.8 .7 5.1 .7-5.5 .7 1 .7-4.5 .7-3.4 .7-5.7 .7-11.4 .7 15.6 .7-5.7 .7 9.3 .7-22.7 .7 12.9 .7-11.4 .7 2.8 .7-6.9 .7 3.9 .7-4.7 .7 1.7 .7-7.1 .7-1.7 .7 .5 .7-7.7 .7-7.2 .7 3.3 .7-11 .7-1.1 .7-7.7 .7-5.7 .7-16.2 .7 15.2 .7-13.9 .7 5.6 .7 1.2 .7-20.7 .7 7.2 .7-9.4 .7-1.3 .7-12.8 .7 2.5 .7-3.3 .7 2.6 .7-.6 .7-13.8 .7-7.7 .7 9.6 .7-15.7 .7-2.7 .7-1.6 .7 .2 .7-.1 .7-8 .7 1.2 .7 9.2 .7-2.5 .7-7.1 .7-1.9 .7-3.4 .7 5.8 .7-8.7 .7 2.8 .7-3.5 .7-1.1 .7 3.3 .7-.1 .7-2.4 .7 3.9 .7 2.5 .7-.6 .7 1.6 .7 5.6 .7 7.5 .7 5.3 .7-1.5 .7 .8 .7 4.4 .7 13 .7-2 .7-6.2 .7 8.4 .7 1.4 .7 4.9 .7-3 .7 12.9 .7-3.5 .7 7.6 .7 14.2 .7 .2 .7-7.3 .7 1.6 .7 3.1 .7-2.6 .7 7.2 .7 6 .7-1.9 .7 11.4 .7-2.6 .7-1.2 .7 13 .7-4.9 .7-3.3 .7 9 .7-3.5 .7-11.6 .7 4.1 .7-5.5 .7-7 .7 15.5 .7-4.1 .7-16.5 .7 7.1 .7-13.3 .7 12.2 .7-7.9 .7-3.5 .7 5.8 .7-9 .7-4 .7 3.5 .7-9.3 .7 3.2 .7-7.7 .7 1 .7-4.4 .7-2.7 .7-13.4 .7 10.8 .7-15.6 .7 5 .7-17.8 .7-3.9 .7-5.7 .7 1.7 .7-14.1 .7-1.1 .7-15.9 .7 .5 .7-1.4 .7-6.9 .7-14.5 .7 7.4 .7-12.9 .7 10.3 .7-16.3 .7 8 .7-13.1 .7-5.7 .7-9.4 .7-2.3 .7-1.2 .7-17.2 .7 11 .7-16.2 .7 .2 .7-17.5 .7 12.8 .7-2.1 .7-5.6 .7-2.3 .7-5.3 .7 2 .7 5.7 .7-7.6 .7 6.6 .7 3.4 .7-2.4 .7 5.4 .7 2.9 .7-.8 .7 18.3 .7-12.7 .7 13.8 .7-.7 .7-13.7 .7 15.1 .7 7.1 .7 1.8 .7-6.2 .7 9 .7-5.1 .7 3.2 .7 6.4 .7 4 .7 8.9 .7-5.7 .7 4.2 .7-11.7 .7 .5 .7 3.9 .7 12.1 .7-16.3 .7-1.1 .7 8.2 .7 6.9 .7-14.9 .7 7.6 .7-5.7 .7 15.1 .7-3.7 .7-2 .7-1.3 .7-.7 .7 2.4 .7-3.9 .7-.8 .7-.8 .7 6.5 .7-3.8 .7 9.5 .7-15.3 .7 15 .7 .6 .7 4.5 .7-6.9 .7-5.6 .7 5 .7 13.8 .7-4.2 .7 3.6 .7 3.7 .7 7.7 .7 4.3 .7-1.9 .7 10.4 .7 13.6 .7 7.1 .7-4.1 .7 2.3 .7 14.5 .7-3.5 .7-.7 .7 10.3 .7 9 .7 9 .7-6.6 .7 9.5 .7-1 .7 11.2 .7-1.8 .7 2.7 .7-4 .7 6 .7 2.4 .7-15.2 .7 26.1 .7-2.6 .7 .9 .7 1.1 .7 3.8 .7 2.8 .7-6.8 .7 9 .7 1.2 .7 .6 .7-7.1 .7 8.1 .7-5.3 .7 9.5 .7 5.9 .7-1.8 .7-5.8 .7-.5 .7 .5 .7 5.5 .7-4.8 .7 1.4 .7-9.8 .7 9.7 .7 1.3 .7 2.3 .7 10.5 .7-12.2 .7 1.9 .7 12.4 .7-6.3 .7 6.6 .7 4.1 .7 1.4 .7-2.1 .7 11 .7 4.8 .7-12 .7 4.9 .7 7.1 .7-6.1 .7-4.3 .7 2.9 .7 6.5 .7-10.1 .7 6.3 .7 .3 .7-6 .7 6.1 .7 0 .7 1.2 .7-.9 .7-13.5 .7 12.3 .7-2.2 .7 1.6 .7-10.3 .7 8.9 .7-3.3 .7-8.7 .7 12.4 .7-11.6 .7-1.9 .7 6.9 .7-5.9 .7 4.6 .7-3.8 .7 2.3 .7 2.4 .7-4.8 .7 4.5 .7-.2 .7-9 .7 9.2 .7-.9 .7-2.1 .7 6 .7 3.6 .7-3.8 .7-10.9 .7 11.4 .7-1.9 .7 .6 .7 4.6 .7-2.3 .7 11.9 .7-5.9 .7 0 .7 5.5 .7 1.4 .7 3.3 .7-1.7 .7-2.4 .7 2 .7-11.3 .7 4.5 .7 14.1 .7-6.8 .7 11.8 .7 .2 .7-16.3 .7 8.3 .7 13.8 .7-19.6 .7 6.3 .7-3.3 .7-.1 .7-.2 .7 1.4 .7 4.2 .7-8.4 .7 7 .7-6.5 .7 6.6 .7-1.1 .7-5.9 .7 4.9 .7-4.6 .7-.6 .7 10.7 .7-15.9 .7 12.7 .7 .8 .7-7 .7 9 .7-.9 .7-11.6 .7 9.8 .7-.1 .7-6.2 .7 7.2 .7 1.1 .7-7.6 .7-6.6 .7 13 .7-5.8 .7-5 .7 7.3 .7-10.5 .7 11 .7 10 .7-23.2 .7 17.7 .7-7.4 .7 2.5 .7-3.2 .7 7.6 .7-4.4 .7-5.2 .7-4.1 .7 3.2 .7 6.9 .7-14.3 .7 6.9 .7-2.3 .7-14.4 .7 14.6 .7-8.2 .7 10.1 .7-4.7 .7-12.6 .7-1.5 .7-6.6 .7-3.8 .7 9.8 .7-7.4 .7-2.6 .7-.6 .7 2.7 .7-.5 .7-7 .7-3 .7-.4 .7 8.5 .7-24.3 .7 2.9 .7 6.7 .7-3.8 .7 3.7 .7-1.6 .7 1.6 .7-17 .7 5.6 .7-6.5 .7 4.6 .7-6.2 .7 2 .7-10.6 .7 3 .7-5.6 .7-.6 .7-3.1 .7-5.2 .7 9.4 .7-6.6 .7 2.1 .7-13.4 .7-7.4 .7 5 .7 .5 .7 3.1 .7-.6 .7-1 .7-.1 .7-6 .7-4.9 .7-6.2 .7 6.5 .7-7.6 .7-2.6 .7 6.7 .7-2.6 .7 3 .7-8.7 .7 10.2 .7-4.3 .7-2.5 .7-2.8 .7-1.2 .7-1 .7 15.7 .7-14.4 .7 11.9 .7-3.7 .7-.7 .7 1.7 .7 3.2 .7 6.6 .7-.5 .7-1.8 .7-6 .7-.8 .7 21.1 .7-14.1 .7-1.6 .7 16 .7-12.8 .7 13.6 .7 2.4 .7-2.4 .7 5.2 .7-11.3 .7 2.3 .7 7 .7 2.5 .7 1.1 .7 4.5 .7-4.9 .7-5.9 .7 15.4 .7-1.7 .7 7.3 .7 8.6 .7-9 .7 4.6 .7-6.2 .7 11.6 .7-1.2 .7 1.4 .7 5.5 .7-9.2 .7 11.1 .7 1.4 .7 8 .7-16.4 .7 11.2 .7 14.2 .7-12.1 .7 1.7 .7 14 .7 6 .7-10.9 .7-2.4 .7 2.8 .7 3.2 .7-.2 .7 2.4 .7 7.5 .7 1.5 .7 4.5 .7-.2 .7-4.4 .7 12.7 .7-.5 .7-2.3 .7 3.9 .7 5.3 .7 .8 .7 1 .7 6.9 .7 3.6 .7-5.4 .7 3.5 .7-4 .7 6.9 .7 5.4 .7 3.9 .7-1.9 .7 .6 .7-1.6 .7 7 .7-5.2 .7 8.4 .7 1.3 .7-3.2 .7 8.5 .7-1.1 .7 6.1 .7-4.1 .7 6.9 .7 7.4 .7-5.8 .7 4.8 .7-6.2 .7 2.9 .7-6.9 .7 10.7 .7-4 .7 7.8 .7-10.6 .7 7.5 .7 6.1 .7 2.6 .7-10 .7 7.7 .7 17 .7-8.6 .7-2.4 .7-14.7 .7 10.8 .7 8.7 .7-.7 .7 2.1 .7 3.5 .7-3.8 .7 4.8 .7-13.6 .7 23.8 .7-14.4 .7-1.3 .7 12 .7-4.4 .7 2.4 .7-8.3 .7 5.1 .7 2.5 .7-9.9 .7 5 .7-.1 .7-.3 .7-2.2 .7-3 .7 9.1 .7-1 .7 4.9 .7-6.6 .7-3.2 .7-4.2 .7 8.2 .7-2.1 .7 12.5 .7 1.5 .7-3.8 .7-13.4 .7-2.7 .7 6.3 .7-3.6 .7 12.5 .7-7 .7-2.8 .7 2.1 .7 6.8 .7-11.8 .7 7.7 .7-9.8 .7 6 .7-2.4 .7 5.2 .7-.8 .7 5.6 .7-2.8 .7-6.9 .7-3.9 .7 2.8 .7 2.3 .7 1.3 .7-2.5 .7 10.3 .7-.3 .7-5.9 .7-.6 .7 2.1 .7 1.8 .7 .9 .7-7.7 .7 7.2 .7-6.9 .7 11.2 .7 4.4 .7-8.5 .7 7.6 .7-3.3 .7 .4 .7 15.2 .7-4.9 .7-1.4 .7-4.2 .7 5.3 .7-2.6 .7 4.1 .7-6.6 .7 5 .7-1.1 .7-4.8 .7 17.3 .7-4.1 .7-8 .7-3 .7 4.6 .7 .1 .7 1.8 .7-4.2 .7 4.3 .7 5.4 .7 2.5 .7-12.3 .7 11.3 .7-4.8 .7 .3 .7 4.5 .7-1.5 .7 8 .7 .6 .7-5 .7-1.3 .7 13.6 .7 .9 .7-7.6 .7-2.5 .7 6.7 .7 2.8 .7-10.4 .7 13 .7-10.4 .7 7.1 .7-8.4 .7 3.4 .7-2.6 .7 2.8 .7 5.7 .7-10.2 .7 3.5 .7 4.8 .7-5.2 .7 13.8 .7-18.7 .7 21.9 .7-17.1 .7 9.1 .7 3.6 .7-5.6 .7-10.4 .7 6.1 .7 2.3 .7 2.9 .7 2.5 .7 .9 .7 2 .7-13 .7 10.7 .7-14.8 .7 10.4 .7-6.5 .7-3.8 .7 14.8 .7-5.1 .7 5.6 .7-14 .7 2.1 .7 6.1 .7-3.1 .7 4 .7-3.9 .7 1.5 .7-4.5 .7 13.1 .7-8.8 .7-4.9 .7 10 .7-1.3 .7-1.7 .7-.2 .7-3.6 .7 1.2 .7-11.6 .7 3.3 .7 1.5 .7 8 .7 4.8 .7-7.9 .7-.8 .7 7.3 .7-8.5 .7 5.3 .7-1.5 .7-9.9 .7 8.6 .7-.9 .7-7.6 .7 .3 .7-1.6 .7 14.2 .7 3.8 .7-7.9 .7 4.5 .7-16.1 .7 14.8 .7 3 .7-2.1 .7-14.1 .7 10.9 .7-6.6 .7 6.4 .7-9.4 .7 3.6 .7-3.2 .7 5.7 .7-3.1 .7 6.7 .7-1.6 .7-2.2 .7-2.4 .7-1.5 .7 1.8 .7 4.1 .7-3.3 .7 .9 .7-1.7 .7-.2 .7-3.1 .7-6.6 .7 13.5 .7 0 .7-8.3 .7 15.9 .7-16.8 .7 11.9 .7-4 .7 .4 .7 4.6 .7-1.1 .7-4.8 .7-5.8 .7-.8 .7 7.8 .7 7.7 .7-3.7 .7-4.9 .7 2 .7 2.1 .7 5.7 .7-13.5 .7 8.2 .7-2.3 .7-5.6 .7-1.4 .7 12.6 .7-5 .7-2.9 .7 1.7 .7 4.9 .7-4.8 .7 8.4 .7-10.2 .7-2.8 .7 3.8 .7-4.5 .7 3.3 .7 8.7 .7 2.7 .7-5.8 .7-2.3 .7-6.1 .7-.4 .7 7.6 .7-1.1 .7-4 .7 .8 .7 11.1 .7-3.1 .7-5.1 .7 1.1 .7 5.8 .7-5 .7-.6 .7-9.9 .7-.5 .7-1.2 .7-1.8 .7 12.4 .7 1.9 .7-6.5 .7 7.2 .7 .1 .7-2.8 .7-7.6 .7 16.1 .7-.3 .7-10.6 .7 13.9 .7-10.4 .7-4.5 .7 2.2 .7-7.9 .7 8.3 .7-6.8 .7 15.1 .7-4.4 .7-9.3 .7 10.9 .7-12.6 .7 10.4 .7 1.8 .7-2.1 .7-6.5 .7 5.6 .7-.3 .7 1.4 .7 7.9 .7 1.3 .7-.6 .7-12.1 .7-.5 .7 4.3 .7 2.3 .7-13.6 .7 8 .7 13.3 .7-16.6 .7 2.9 .7 .2 .7 6.6 .7-2.9 .7-1.4 .7-6.5 .7 11.8 .7-3.2 .7-3.6 .7 3.8 .7 4.3 .7-12.4 .7-.3 .7 3 .7 .8 .7-11.9 .7 13.6 .7 9.5 .7-7.9 .7 7.5 .7-21.3 .7 15.3 .7 8.3 .7 1.1 .7-11.3 .7-1.7 .7 6.7 .7-8.7 .7 4.8 .7-7.1 .7 9.7 .7-.3 .7 9 .7-6.9 .7-5.5 .7 3.2 .7-6.5 .7 7.4 .7-1.3 .7 3.6 .7 2.8 .7-16 .7 12.8 .7 2.4 .7-10.6 .7 17.1 .7-14.4 .7 17.6 .7-9.2 .7 1 .7-3.8 .7 4.1 .7-11.2 .7 1.2 .7-6.3 .7 13.8 .7-6.9 .7 8 .7-.8 .7-10.7 .7 11.3 .7-2.5 .7-.3 .7 1.4 .7-2.6 .7 .2 .7 5.7 .7-11.3 .7-1.1 .7 2.4 .7 9.9 .7-7.5 .7 12.4 .7-27.6 .7 13.1 .7 1.4 .7 4 .7 5.9 .7-8.4 .7-4.6 .7 10.2 .7 3.9 .7-22.6 .7 17.3 .7-1.6 .7-6.2 .7 2 .7 4.2 .7-1.4 .7-1.6 .7-5 .7 8 .7-5.3 .7 4.2 .7-3.7 .7 4.3 .7 3 .7-2.7 .7 2.4 .7-11.1 .7 10.4 .7-.7 .7-4.9 .7 2.9 .7-14.2 .7 16.2 .7-2.4 .7-9.8 .7 15.7 .7-5.9 .7 5.5 .7-2.4 .7 4.4 .7-1.7 .7-1.5 .7 4.8 .7 2.4 .7-16.5 .7 13.2 .7-2.9 .7-2.3 .7 13.8 .7-1.3 .7-10.4 .7 .1 .7 11.2 .7-7.4 .7 2.2 .7-8.6 .7 10.6 .7 7.6 .7-8.4 .7 2.4 .7 10.7 .7-4.3 .7 3.4 .7-3.9 .7 3.5 .7-15.3 .7 5 .7-4.1 .7 21.7 .7-10.8 .7-1.3 .7-3 .7-1 .7-9.5 .7 28.2 .7-12.4 .7 1.2 .7-7.6 .7 7.8 .7 2.8 .7-2.1 .7 4.3 .7-7.6 .7 6.8 .7 3.5 .7-1.4 .7-.5 .7-2.3 .7-4.5 .7 8.9 .7-4.7 .7-2.7 .7 9.9 .7-12.7 .7 6.2 .7 7.8 .7 1.3 .7-6.8 .7 2.8 .7 3.1 .7-3 .7-3.4 .7 7 .7-1 .7 .1 .7 6 .7-4 .7-3.7 .7 3.8 .7 10.3 .7-14.1 .7 3 .7-2.5 .7 6.8 .7-8.4 .7 9.9 .7 2.3 .7-8 .7 .1 .7-3 .7 8.9 .7-5.9 .7 3.2 .7 1.6 .7-1 .7 8.8 .7 4.6 .7-20 .7 7.7 .7 6.2 .7-6.7 .7 3.2 .7 4.5 .7 6.9 .7-.8 .7-7.8 .7 2.7 .7-2.4 .7 1.3 .7-5.2 .7-3 .7 7.9 .7 7.6 .7-.9 .7-14.3 .7 9.4 .7-2.2 .7 5.2 .7-7.4 .7 11.2 .7-6 .7 4.5 .7 1.8 .7-15.4 .7 9.6 .7 9.7 .7-8.1 .7 5.8 .7-3.3 .7-4.9 .7 4.4 .7 4.4 .7 1.4 .7 1 .7-13.9 .7 10.7 .7-12 .7 7 .7-.3 .7 4.7 .7-1.6 .7 5.2 .7-10.1 .7 8.1 .7-2.3 .7-2 .7-6.5 .7 9.8 .7-1.2 .7 2.7 .7-4.4 .7-1.1 .7 3.7 .7 .5 .7 1.4 .7 6.8 .7-13.6 .7 14.5 .7-27.1 .7 21.7 .7-9.5 .7 15.6 .7-15.7 .7 10.9 .7-11.1 .7-.6 .7 10.8 .7 .6 .7-8.5 .7 17.2 .7-14.7 .7 10.5 .7-14 .7 .4 .7 6 .7-5.9 .7 8.2 .7-14.1 .7 12.9 .7-4 .7-2 .7 6.5 .7-2.3 .7-1.1 .7 7 .7-2.7 .7 .5 .7 5.3 .7-7.7 .7 5 .7-6.8 .7 5.6 .7-.4 .7-5.9 .7-5.4 .7 1.3 .7 1.8 .7 8.2 .7-3.8 .7-1 .7 4.2 .7 1.3 .7 3.6 .7-11 .7 6.2 .7 .8 .7-9.2 .7 5.8 .7-5.8 .7 3.7 .7 3.4 .7-11.7 .7 4.5 .7 .2 .7 4.8 .7-4.6 .7 6 .7-6.8 .7 1.7 .7 6.1 .7-1.7 .7-.9 .7-1.2 .7 5.7 .7 1.9 .7-9.6 .7-2 .7-1.7 .7 15.1 .7-14.4 .7-2.3 .7 8.7 .7 4.2 .7-12.4 .7 6.1 .7-7.1 .7 4.1 .7 12.8 .7-7.9 .7-2.2 .7 1.9 .7 1.3 .7-1.9 .7-5.8 .7 .2 .7 17.7 .7-15 .7 11 .7-10.3 .7 11.3 .7-3.1 .7-4.7 .7 12.4 .7-15.8 .7 4.1 .7-3.2 .7 .7 .7 2.6 .7-3 .7 3.7 .7 10.7 .7-17.8 .7 2.9 .7 1.9 .7 3 .7 8.3 .7-1.3 .7-1 .7-1.2 .7 12.2 .7-19 .7 .1 .7 6.4 .7 1.5 .7-2.1 .7-3.1 .7-2.3 .7 6 .7-2.1 .7 1.5 .7-3 .7 13.5 .7-4.6 .7 7.9 .7-12.6 .7 3.4 .7-1.4 .7 1.7 .7-1.2 .7 .8 .7-9.6 .7 9.6 .7 5.6 .7-14.1 .7 9 .7 5.4 .7 4.1 .7-7.1 .7 3.3 .7 7.4 .7-2.2 .7-9.2 .7-.6 .7 9.2 .7-4 .7-3.8 .7 2 .7 3.3 .7-2.5 .7 .1 .7 .4 .7-6.5 .7 18 .7-2.5 .7 2 .7-8.7 .7 1.8 .7 2.8 .7 1.7 .7-14.1 .7 12.3 .7-7 .7 5.4 .7-2.9 .7 13.3" stroke="#f0f" class="cv"/>
<path d="M144 1456V1605" stroke="#c0c" class="ax"/>
<path d="M144 1605V1720" stroke="#00c" class="ax"/>
<path d="M144 1720V1858" stroke="#c00" class="ax"/>
<rect x="144.0" y="2154.0" width="1304.0" height="963.6" class="fr"/>
<path d="M144.0 3117.6V3136.6M179.2 3117.6V3136.6M214.5 3117.6V3155.1M249.7 3117.6V3136.6M285.0 3117.6V3136.6M320.2 3117.6V3136.6M355.4 3117.6V3136.6M390.7 3117.6V3155.1M425.9 3117.6V3136.6M461.2 3117.6V3136.6M496.4 3117.6V3136.6M531.6 3117.6V3136.6M566.9 3117.6V3155.1M602.1 3117.6V3136.6M637.4 3117.6V3136.6M672.6 3117.6V3136.6M707.8 3117.6V3136.6M743.1 3117.6V3155.1M778.3 3117.6V3136.6M813.6 3117.6V3136.6M848.8 3117.6V3136.6M884.0 3117.6V3136.6M919.3 3117.6V3155.1M954.5 3117.6V3136.6M989.8 3117.6V3136.6M1025.0 3117.6V3136.6M1060.2 3117.6V3136.6M1095.5 3117.6V3155.1M1130.7 3117.6V3136.6M1166.0 3117.6V3136.6M1201.2 3117.6V3136.6M1236.4 3117.6V3136.6M1271.7 3117.6V3155.1M1306.9 3117.6V3136.6M1342.2 3117.6V3136.6M1377.4 3117.6V3136.6M1412.6 3117.6V3136.6M1447.9 3117.6V3155.1" class="tk"/>
<path d="M144.5 2538.0l.7 203.9 .7 126.9 .7 61.5 .7 37.1 .7 26.6 .7 13 .7 11.4 .7 10.2 .7-1.4 .7 2.9 .7 7.9 .7-2.3 .7 5 .7-3.3 .7-6.7 .7 2.1 .7-1.9 .7 16.2 .7-3 .7-3.9 .7-1.9 .7 8.3 .7-1.8 .7 3.3 .7-5.5 .7-.6 .7 15.4 .7-13 .7 5.9 .7 8.1 .7-16.6 .7 14.5 .7-2.8 .7-.5 .7 2.8 .7-7.3 .7-5.1 .7 23.1 .7-11.3 .7 7.1 .7 1.7 .7-3.8 .7 1.5 .7 2 .7 5.3 .7-5.3 .7 4.7 .7-7.9 .7-.1 .7 3.3 .7 2.2 .7 1.3 .7 8.1 .7-5.5 .7-3.8 .7 10.9 .7-8.7 .7 .5 .7 1.1 .7-4.2 .7-3.8 .7 6.9 .7-2.2 .7-2.9 .7 5.5 .7-1.6 .7-2.1 .7-6.5 .7 8.8 .7 10.4 .7-4.8 .7 .9 .7-6.1 .7 5.7 .7-9.6 .7 1 .7 5 .7-10.8 .7 7.8 .7 1 .7 7.2 .7-13.3 .7 5.7 .7-6.2 .7 .2 .7-12.1 .7 9.1 .7 10.9 .7-3.9 .7-2.4 .7 12.1 .7-11 .7-10.2 .7 5.2 .7 .2 .7 8.6 .7-14.2 .7 6.6 .7 2.5 .7-10.3 .7 4.3 .7-12.1 .7 10.6 .7-13.5 .7 8.8 .7 10.2 .7-8.5 .7-3.5 .7-1 .7 9.3 .7-10.4 .7 .9 .7-9.8 .7-1.8 .7-5.1 .7 2.8 .7-4.6 .7 7.3 .7-3.6 .7-5.9 .7-4 .7-14.5 .7 11 .7 3.4 .7 .5 .7-21.6 .7 2.5 .7 12.9 .7-7.3 .7 3.7 .7-2 .7 5.4 .7-13.5 .7 7 .7 8.5 .7-3.5 .7-4.8 .7 8 .7 .3 .7-5 .7 10.2 .7 1.5 .7-2.6 .7 7.7 .7-9.6 .7 12.5 .7-3.3 .7-2.2 .7 3.7 .7 11.4 .7-7.7 .7 2.6 .7-.3 .7 .5 .7 10.5 .7 7.6 .7-4.2 .7-4.3 .7 1.3 .7-6 .7-.8 .7-3.7 .7 14.2 .7-9.7 .7-2.1 .7 .4 .7 4.5 .7-4.1 .7 3.1 .7 .7 .7 6.3 .7-14 .7 8.3 .7-5.5 .7 1.4 .7 11 .7-5.4 .7-5.6 .7 4.7 .7-2.9 .7 6.1 .7-8.8 .7 5.2 .7-3.8 .7 1.1 .7-1 .7-2.7 .7 3.9 .7 4.7 .7-8.8 .7 1.1 .7 4 .7-6.2 .7 8.7 .7-.9 .7-16.5 .7 8.9 .7-2.5 .7 10.3 .7 .5 .7-11.7 .7 2.6 .7 3.2 .7-1.7 .7 5.8 .7 1.2 .7-2.2 .7 2.6 .7-1 .7-5.7 .7-2.1 .7-1.8 .7 8.2 .7 .3 .7 .4 .7-7.4 .7-.6 .7 3.4 .7 5.1 .7-5 .7-1 .7-5.9 .7 6.7 .7 .3 .7-8.3 .7 14.4 .7-14.8 .7 9.8 .7-6.4 .7 1.8 .7-5.4 .7 .9 .7 6.6 .7-5.1 .7-1.1 .7 6.4 .7-1.2 .7-3.3 .7 .1 .7 7.8 .7-10.6 .7 2.7 .7-.1 .7-10.2 .7-3.2 .7 10.7 .7 3.7 .7-4 .7-4.4 .7-1.1 .7 7.5 .7-6.4 .7-7.6 .7 12 .7-2.9 .7 .3 .7 3.1 .7 1 .7-4.6 .7-4.5 .7-11.1 .7 12.6 .7-3 .7 7.4 .7-.7 .7-4.9 .7 4.3 .7-8.4 .7-.4 .7-4.9 .7 2.3 .7 2.3 .7 4 .7-10.3 .7 7.8 .7 7.7 .7-20.5 .7 5.3 .7 1 .7 4.8 .7 4.7 .7-4.6 .7-7.4 .7-5 .7 3.7 .7-.5 .7 .9 .7-6.7 .7 12.5 .7-12.8 .7 7 .7-3.2 .7-7.7 .7 5.6 .7-.9 .7-1.8 .7 4.8 .7-7.6 .7 15.7 .7-8.4 .7-11.7 .7-9.2 .7 19.6 .7-6.1 .7-1.6 .7-6.4 .7-3.1 .7-3 .7 23.4 .7-5.9 .7-12.3 .7 12.5 .7-20.9 .7 13.2 .7-.6 .7-9.1 .7 1.6 .7-3.8 .7 5.2 .7 6.4 .7-2.4 .7-3.7 .7 3.2 .7-16.3 .7 20.1 .7-11.8 .7-7.4 .7 4.5 .7-2 .7 3.5 .7 .7 .7-15 .7 19.1 .7 2 .7-15.6 .7 13.2 .7-1.7 .7-1.9 .7 2.9 .7-17 .7 11 .7-10 .7 18 .7-18.8 .7-1.9 .7 12.3 .7-3.2 .7-3.8 .7 .1 .7 2.1 .7 5.6 .7-13.9 .7 .3 .7-.6 .7 2.3 .7-.1 .7-7.6 .7 8.2 .7-9.1 .7 4.7 .7-.2 .7-.4 .7 9 .7 .3 .7-3.5 .7 2.3 .7-10.7 .7 8.8 .7-8.5 .7 1 .7-.2 .7-9.3 .7 3.5 .7 2 .7 2.3 .7-3.2 .7-4.5 .7-2.2 .7 5.9 .7-7.1 .7-.5 .7 5.3 .7 1 .7-6.1 .7-5.8 .7 10.7 .7 2.3 .7-7.4 .7-.5 .7-11.4 .7 16.9 .7-11.8 .7 9 .7-8.2 .7 1.3 .7-1.3 .7-10 .7 23.8 .7-24.9 .7 7.9 .7-6.2 .7 1.9 .7 7.7 .7-19 .7 8.3 .7 2.4 .7-3.1 .7 .5 .7-7.3 .7-5.7 .7 1 .7 4.2 .7 5.7 .7-4.1 .7 8 .7-8.6 .7 .4 .7 0 .7-10.5 .7 12.8 .7-9.1 .7 4.3 .7 15.3 .7-19.3 .7 7.9 .7 1.4 .7-.3 .7-.2 .7-2.5 .7 14.6 .7-21.3 .7 6 .7 14.5 .7-4.5 .7-6.6 .7-.1 .7 4.2 .7 16.5 .7-11.2 .7-7.8 .7 7.6 .7-4.3 .7 12.2 .7-6.2 .7 5.7 .7-5.7 .7 10.6 .7-8.7 .7-.6 .7-7 .7 3.3 .7 4.4 .7-5 .7 16.2 .7-14 .7-4.4 .7 9.3 .7-8.7 .7 4.7 .7-3.2 .7-3.9 .7 11.1 .7-7.7 .7 5 .7-8.4 .7-6.6 .7 .5 .7 3.5 .7 1.3 .7 .8 .7 2 .7-10.2 .7 7.7 .7-8.4 .7 2.4 .7 17.5 .7-7.6 .7-9.4 .7 11.4 .7-2.6 .7-3.3 .7 2.7 .7-10 .7 .2 .7-4.6 .7 7.4 .7-10.7 .7 3.5 .7 4.7 .7-6 .7 4 .7 7.4 .7-16.3 .7 12.2 .7-12.5 .7-2.6 .7 5.1 .7 3 .7-11 .7-1.6 .7 .2 .7-3.1 .7 3.6 .7-6.4 .7 1.2 .7 2.1 .7-5.3 .7 7.5 .7-11.1 .7-1.6 .7 14.4 .7-3.9 .7-8.9 .7 3.2 .7-3.7 .7-5.6 .7 5.6 .7-3 .7 4.4 .7-18.1 .7 13.7 .7-4.4 .7-5.6 .7 .5 .7-.8 .7-6 .7 3.2 .7 6.6 .7-13.6 .7 5.3 .7-11.8 .7 8.8 .7 4.4 .7-3.4 .7-.5 .7-7.4 .7 8.3 .7-9 .7 9 .7-4.8 .7-4.3 .7 9.3 .7-11.3 .7 6.7 .7-6.2 .7-1.7 .7 4.3 .7-4.4 .7-3.8 .7-2.1 .7 .2 .7-2.3 .7-4 .7-5.7 .7-10.4 .7 11.8 .7-2.6 .7 6.1 .7-6.1 .7 1.9 .7 1.4 .7-12 .7-5.8 .7 7.3 .7-9.6 .7 .1 .7 7.6 .7-6.7 .7 1.1 .7-15.3 .7 5.7 .7 4.1 .7-15.2 .7 6.1 .7-1 .7-17.1 .7 19.2 .7-15.1 .7 .7 .7 7.3 .7-21.9 .7 9.6 .7-8 .7-.2 .7-7.7 .7 9.1 .7-16.4 .7 5.3 .7-1.7 .7-6.2 .7-3.8 .7-2.9 .7 4.1 .7-6.3 .7-6.4 .7-9 .7 3.4 .7-1.3 .7-6.3 .7 5.3 .7-21 .7 21.9 .7-17 .7-7.4 .7-5.3 .7 12.4 .7-3.5 .7-6.2 .7-1.1 .7-1 .7-5.4 .7 6.6 .7-4.7 .7-5.5 .7-9.2 .7 16.3 .7-9.9 .7-2.5 .7 13.7 .7-3.2 .7-12.4 .7 3.4 .7 9 .7-1.3 .7 10.6 .7 20.5 .7 7.7 .7-10.7 .7 10.5 .7 6 .7-.8 .7-3.3 .7 18.3 .7-2.5 .7 7.8 .7 5.5 .7-4.5 .7 17.2 .7-6 .7 3.1 .7-2.1 .7 7.3 .7 2.6 .7-7.8 .7 7.1 .7-4.9 .7-3.8 .7 5.5 .7 5.5 .7-.1 .7 2.9 .7-10.2 .7 1 .7 .5 .7 1 .7-6.6 .7-7.5 .7-6.6 .7 11.4 .7-4.5 .7-13.8 .7 7.4 .7-13.1 .7-1.9 .7-.4 .7-14.5 .7-6.6 .7-10.2 .7 6.4 .7-4 .7-2.4 .7-5.9 .7-7.1 .7 1.7 .7-15.7 .7 4.3 .7-2.4 .7-6.2 .7 7.8 .7-9.3 .7 2.9 .7-4.4 .7-7.9 .7 9.6 .7-6.7 .7-8.3 .7-3.4 .7-8 .7 1.5 .7-4.7 .7-3.2 .7-10.5 .7-2.3 .7-11.7 .7-16.5 .7-1.8 .7-9.1 .7-8.4 .7-.7 .7 .3 .7-17.1 .7-10.2 .7 5.4 .7 12.6 .7-24.7 .7 .1 .7-8.1 .7 3.2 .7 .2 .7-10.8 .7 6.4 .7-13.2 .7 6.6 .7-8.5 .7 7.9 .7-4 .7 5.8 .7-5.8 .7 9.7 .7 2.2 .7-.6 .7 2.4 .7 1.9 .7 8.5 .7 8.9 .7 1.6 .7 6.2 .7 10.8 .7-4.2 .7 7.9 .7 7.2 .7 2.4 .7 3.6 .7 3.2 .7 15.7 .7-5.3 .7 4.2 .7 11.3 .7 11.6 .7 4.3 .7-2.6 .7 8.8 .7 1.7 .7 .4 .7 4.7 .7 .1 .7-2.8 .7 8.5 .7-12.1 .7 9.3 .7 3.4 .7-.4 .7-10.6 .7-2.8 .7-7.9 .7 8.9 .7 14.9 .7-20.5 .7 2.4 .7 15.8 .7 1.8 .7-10.1 .7 13.3 .7 5.9 .7-6.6 .7 17.4 .7-9.1 .7 16.9 .7-2 .7-1.9 .7-1.7 .7 10.5 .7 4.9 .7 3.5 .7 1.2 .7 5.9 .7 9.7 .7-6.1 .7 7.4 .7 7.2 .7 .7 .7 8.1 .7 6.7 .7-7.9 .7 5.5 .7-15.3 .7 15.9 .7 7 .7-8.7 .7 14.7 .7-16.7 .7 18.8 .7-9.4 .7-2 .7 3.8 .7 1.9 .7-3.4 .7-1.3 .7 5.5 .7 8.8 .7-2.2 .7 6 .7-10 .7 2.4 .7 1.1 .7 3.7 .7 3.1 .7 8.8 .7-4.1 .7-1.1 .7 8.4 .7-9.9 .7-1.2 .7 12.4 .7-1.4 .7 .7 .7 5.2 .7-6.9 .7 1.2 .7 2.6 .7 1.4 .7 1.6 .7-5 .7 .5 .7-15.1 .7 19.8 .7-15.7 .7 8.1 .7 14 .7-16.1 .7-7.1 .7 17.4 .7-12.1 .7 2.1 .7 0 .7 5 .7 .3 .7-4.8 .7 7 .7-10.9 .7 9 .7-6.9 .7 7.7 .7-7.2 .7 1.7 .7 11 .7-13.9 .7 .2 .7 10.1 .7-4.2 .7-.4 .7 2.1 .7 13 .7-16.9 .7 4.7 .7 3.1 .7-5.4 .7 5.9 .7 3.7 .7-6.7 .7 12.2 .7-11.5 .7 6.5 .7 3.7 .7 16.6 .7-26.3 .7 12 .7 13.1 .7-16.5 .7 9.8 .7-4.5 .7-8.8 .7 10.3 .7-6.8 .7 5.6 .7-8.6 .7 12.5 .7-17.2 .7 12.5 .7 8.2 .7-4.1 .7-4.6 .7 .7 .7-.9 .7 17.4 .7-15.1 .7 .4 .7-3.8 .7 1.6 .7 6.2 .7-6.5 .7-.9 .7 1.7 .7 1.4 .7 3.2 .7-3.3 .7 2 .7-2.7 .7 11.3 .7-6 .7-1.9 .7 3.7 .7-1.6 .7-8.1 .7 7.9 .7 10.3 .7-6.1 .7 3.8 .7-10.1 .7-4.5 .7 4.3 .7 11 .7-13.4 .7 .6 .7 9.9 .7-8.2 .7-.5 .7 2.3 .7-2.5 .7-3.1 .7 2.2 .7-6.3 .7 2.8 .7 3 .7-10.3 .7 3.9 .7-5.8 .7 9.8 .7-1.3 .7 1.2 .7 0 .7-.6 .7-2.2 .7-8.8 .7 8.9 .7-10.7 .7 17.3 .7-11.8 .7 1.1 .7-10.7 .7 12 .7-.2 .7-15.9 .7 4.8 .7-.6 .7-2.1 .7 9.9 .7 2.9 .7-19.2 .7 10.1 .7-8.8 .7 7.4 .7-22.6 .7 9.6 .7 7.5 .7-12.3 .7 9.3 .7-10.6 .7 7.9 .7-4.1 .7-6.7 .7-2.9 .7 2.2 .7 6.3 .7-7.4 .7-4.6 .7 21 .7-27.9 .7 6.5 .7 3.2 .7-9.6 .7 4.7 .7-3.2 .7-6.8 .7 9.6 .7-9.7 .7 1.1 .7 9.9 .7-14 .7 8.5 .7 2.2 .7-2 .7-3.9 .7-4.9 .7-7.4 .7 7.5 .7 .6 .7-6.2 .7-3.7 .7 9.3 .7-11.6 .7 7.2 .7-6.1 .7-7.8 .7 16.9 .7-6.8 .7-1.6 .7-12.1 .7 5.9 .7 1.2 .7-6.6 .7 12.5 .7-20.8 .7 14.8 .7-14.3 .7 1.8 .7 1.6 .7 10.3 .7-7 .7 .4 .7-1.2 .7-2.9 .7 3.4 .7-.3 .7 3.9 .7-.1 .7-10.9 .7 10 .7 10.5 .7-9 .7 2.6 .7-3.1 .7 1 .7 4.5 .7-5.6 .7 8.1 .7-6.5 .7 12.9 .7-8.5 .7 14.2 .7 3.9 .7-12.7 .7 14.3 .7-4.5 .7 9.9 .7-8.4 .7 2.2 .7 .7 .7 9.2 .7-16.9 .7 15.4 .7-3.1 .7-2.7 .7 1.8 .7 6.9 .7-.1 .7 5.3 .7-12.4 .7-6.3 .7 7.9 .7 2.6 .7-.7 .7 9.9 .7 6.6 .7-9.6 .7-10.8 .7 16.7 .7-7.9 .7 5.3 .7 6 .7-.8 .7-.6 .7 3.9 .7 4.6 .7 1.3 .7 9.9 .7-25.8 .7 14.1 .7 3.1 .7 9.7 .7-1.3 .7 5.5 .7-10.4 .7 8.8 .7 7 .7-1.6 .7 .3 .7 5.9 .7 9.8 .7-18.5 .7 22.4 .7-5.2 .7-4.3 .7 10.1 .7-1.6 .7 8.2 .7-9.3 .7 11.6 .7-8.6 .7 8.5 .7 3.8 .7-2.5 .7 5.7 .7-5.1 .7 10.7 .7-6.9 .7 .4 .7 4.8 .7 1.9 .7-2.8 .7 10.4 .7-3.6 .7 5.3 .7-10.2 .7 2.2 .7 7 .7-2.9 .7 5.8 .7 4.9 .7 4 .7 2.9 .7-2.8 .7-7.2 .7 7.9 .7-4.9 .7 6.8 .7-7.8 .7 14.1 .7-4.2 .7-3 .7-5 .7 9.9 .7-3.7 .7 5.1 .7-4.6 .7 1.6 .7 7 .7 5.3 .7-14.6 .7 6.4 .7 3.6 .7-2.7 .7-1.3 .7 14.4 .7-16.4 .7 6.6 .7-4.6 .7 2.1 .7-12 .7 17.4 .7-6 .7-4.2 .7 14.5 .7-10.7 .7-1.8 .7-1.3 .7 10.5 .7-5.7 .7-1.9 .7-5.5 .7 2.3 .7 6.8 .7-2 .7-10.9 .7 6.2 .7 6.1 .7 13.5 .7-18.9 .7-8.1 .7 16.5 .7-6.9 .7-4.6 .7 10.3 .7-4.3 .7-4.1 .7-1.9 .7 6.6 .7 1.1 .7-10.2 .7 15.2 .7-12.4 .7 14.8 .7-5.7 .7-2.5 .7 3.2 .7-4.7 .7 3.3 .7 10 .7-11.7 .7 8.3 .7-8.8 .7 5.5 .7 6.1 .7-11.2 .7 9.2 .7-12.9 .7 6.3 .7 4.8 .7 7.9 .7-.1 .7-8.2 .7 5 .7 2.5 .7-8.9 .7 11.6 .7 5.8 .7 0 .7-9.4 .7 1.8 .7-2.2 .7 3.2 .7 2.2 .7 5.9 .7-2.4 .7-4.7 .7 10.4 .7 1.3 .7-7.4 .7 2.9 .7 1.7 .7-7.6 .7 10.7 .7 3.8 .7 7.8 .7-8.8 .7-1.8 .7 1.6 .7 4.9 .7 1.8 .7-8.4 .7 6.4 .7 3.2 .7-14 .7 19.1 .7-8.2 .7 6.4 .7-4.6 .7-.8 .7 1.2 .7 2.3 .7 3.3 .7-6.1 .7-4.5 .7 2.4 .7-1.3 .7 9.7 .7-9.4 .7 13.8 .7-7.5 .7-1.1 .7 7.8 .7-9.1 .7 .5 .7 6.1 .7-.1 .7-9.5 .7 19.1 .7-10.3 .7-9.9 .7 6 .7 6.1 .7-3.8 .7 3.6 .7 8.4 .7-7.8 .7 5.9 .7-7.2 .7-7.4 .7 12 .7-12.1 .7 9.2 .7-1.7 .7-8.2 .7 .8 .7 2.9 .7 3.2 .7 5.1 .7-6.9 .7 10 .7-5.7 .7-8.3 .7 .1 .7 3.8 .7-3.4 .7 2.3 .7 4.7 .7-2.9 .7 3.9 .7-9.3 .7-1 .7-3.1 .7-2.2 .7 7.3 .7 2.7 .7-1.5 .7 1 .7 11.1 .7-17.3 .7 4.4 .7-1.3 .7-2.4 .7 12.3 .7-7.7 .7 7 .7-13.2 .7 16.4 .7 2.1 .7-17.3 .7 4.6 .7-.7 .7 3.8 .7-10.3 .7 9.7 .7 1.3 .7-7.3 .7-9.2 .7 8.7 .7 1.6 .7 6.4 .7-7.6 .7-2.8 .7 9.9 .7-1.1 .7 2.2 .7-3.5 .7 5.9 .7-2.6 .7-12.3 .7 11.3 .7 3.6 .7-3.6 .7 8.3 .7-10.1 .7 6.8 .7-10.2 .7 7.2 .7-2.6 .7-2 .7-1.3 .7 8.8 .7 1.5 .7-5.5 .7-3.1 .7 2.3 .7 9.2 .7-10.6 .7 13 .7-15.4 .7 10.7 .7 2.1 .7 2.8 .7-9.4 .7-2.2 .7-4.1 .7 12.2 .7-6.3 .7-2.6 .7-.5 .7 2.9 .7-2.1 .7 5.4 .7-19.2 .7 15.5 .7-8.5 .7 1.6 .7-2.2 .7 .3 .7 3.8 .7-3.8 .7-10 .7 6.8 .7-.8 .7 1.9 .7-2.4 .7-1.1 .7 5.7 .7-11.9 .7 17.8 .7-15.1 .7-2.6 .7 10.1 .7 1.7 .7 1.2 .7 1.3 .7-5.1 .7-2 .7 2.1 .7-1.7 .7-2.5 .7 12.2 .7 1.7 .7-9.4 .7-.8 .7-.9 .7-6 .7 6.1 .7 1.5 .7 3.4 .7-4.8 .7-4.3 .7 14.7 .7 6.5 .7-20.5 .7 11.6 .7 6.1 .7-10.5 .7-.8 .7 8.7 .7-.9 .7-1.6 .7 13.1 .7-.3 .7-4.1 .7-3.5 .7-.9 .7 7.1 .7-5.8 .7 9.9 .7-1 .7-9.8 .7 7.9 .7 4.8 .7-4.7 .7-8.5 .7 4.1 .7-.1 .7 2.9 .7-.1 .7-1.8 .7 7 .7 3 .7-10.2 .7-4.7 .7 10.5 .7-1.8 .7 2.6 .7-5.7 .7 5.6 .7-6.3 .7 11.3 .7 3.5 .7-14.1 .7-8.9 .7 11.9 .7 .1 .7 4.2 .7-.7 .7 2.8 .7 12.5 .7-17.8 .7 1.3 .7 4.6 .7-12.3 .7 14.7 .7-7.5 .7-4.3 .7 3.5 .7 7.6 .7 2 .7 2.5 .7-4.3 .7-6.2 .7 7.3 .7-3.3 .7 13.5 .7-24 .7 20.4 .7-4.5 .7-1.8 .7-2.5 .7-2.4 .7-2 .7-3.1 .7 20 .7-5.9 .7-1.3 .7-1.5 .7-12.4 .7 9.2 .7 2.4 .7 5.8 .7-11.7 .7 7.1 .7-2.6 .7 1.6 .7-4.4 .7 6.4 .7-1.4 .7-10.6 .7 17 .7 5.5 .7-16.8 .7 11.2 .7-11.7 .7 2.5 .7 12.7 .7-8.6 .7 7.2 .7-6.7 .7 4 .7-6.5 .7 8.7 .7 1.9 .7-6.1 .7-6.9 .7 1 .7-3.2 .7 8.4 .7-.5 .7-6.8 .7 8.8 .7-8.3 .7 13.1 .7-5.6 .7 4.1 .7-12.7 .7-1.7 .7-4.7 .7 13.5 .7-9.8 .7 13.5 .7-6.7 .7 3.3 .7-11.3 .7 3.7 .7 4.1 .7 3 .7-11.2 .7 8.9 .7-6.5 .7 8.9 .7-5.7 .7-.5 .7 4 .7 4 .7-7.7 .7 8 .7-12.2 .7 7 .7-7.6 .7 7.3 .7-6.1 .7 5.3 .7 3.3 .7-8.6 .7-4.2 .7 8.8 .7 3.9 .7-1.4 .7-6.1 .7 9.7 .7-6 .7 6 .7-8.8 .7 7.5 .7 4.2 .7-9.8 .7 2.2 .7 5.3 .7-.3 .7-.7 .7-2.3 .7-7.6 .7 8.8 .7-6.8 .7 7.8 .7-13 .7 21 .7 2.8 .7-7.7 .7-6.7 .7 3.2 .7 6.8 .7-.9 .7-7.1 .7 10.6 .7-2.3 .7-.7 .7-4.5 .7 2.2 .7-3.5 .7 5.3 .7-4.3 .7 10.5 .7-5.8 .7 1.4 .7 1.1 .7 .4 .7-9 .7 15.3 .7-6 .7-3 .7-1.8 .7 2.2 .7 .9 .7 3.9 .7-4.2 .7 5.9 .7 .7 .7-4 .7 16.4 .7-12.1 .7 3 .7-.6 .7-1 .7 5.1 .7 4.4 .7-7.4 .7-3.7 .7 8.1 .7-14.2 .7 13.1 .7-1.4 .7 3.3 .7-9.6 .7 6.3 .7-2.8 .7 3.1 .7 6.5 .7-3.9 .7-1.7 .7 10.1 .7-6 .7-10.7 .7 5.7 .7 8.4 .7 .5 .7-.8 .7 .6 .7-5.9 .7 4.8 .7-5.6 .7 2.3 .7 0 .7 .7 .7 3.1 .7 1 .7-2.8 .7 10.6 .7-8 .7 11.1 .7-2.5 .7-11.7 .7 11.7 .7-12.1 .7 15.8 .7-5.8 .7-6.9 .7-6.2 .7 10 .7-4.9 .7 13.5 .7-12.5 .7 5.8 .7 4.1 .7-2.4 .7 1.6 .7-2.6 .7 5.4 .7-8.7 .7 8.3 .7-9.5 .7 7.7 .7-7 .7 5.2 .7 4.5 .7 3.6 .7-16.3 .7 5.8 .7-1 .7 12 .7-11.2 .7 8.7 .7-6.5 .7-4.9 .7 8.5 .7-6.6 .7 10.2 .7 .7 .7 2.8 .7-12.6 .7 14.2 .7-3.2 .7-14.9 .7 21.9 .7-2.8 .7-14.6 .7 7.5 .7-8.9 .7 6.6 .7 1.9 .7 2.5 .7-7.7 .7 4.4 .7-4.7 .7 7.2 .7 1.7 .7-3.1 .7 6 .7-2 .7-1.9 .7 4.4 .7-12.9 .7 6.7 .7-9.3 .7 9.7 .7-2.3 .7 7.2 .7-6.7 .7-.9 .7 3.1 .7-.1 .7 3.7 .7-7.4 .7-3.2 .7-.4 .7 15.1 .7-13 .7 4.5 .7-3.3 .7 11 .7-7.8 .7 9.9 .7-10.3 .7 5.6 .7 2.6 .7 1.3 .7-11.6 .7 4.6 .7 1.7 .7-9.4 .7 13.9 .7-1.6 .7 .8 .7-10.3 .7 8.7 .7 1.5 .7 3.3 .7-8.3 .7 6.6 .7 7.1 .7-13 .7 .2 .7 .5 .7-6.3 .7 6.3 .7 10.8 .7-13.8 .7 4.1 .7 7.6 .7-3.4 .7-1.8 .7-3 .7 1.3 .7 .7 .7 3.8 .7-3.3 .7 4.7 .7-15.2 .7 14.7 .7-7.3 .7 3 .7-2.3 .7 5.9 .7-4.1 .7 4.1 .7-7.7 .7 5.5 .7 5.7 .7-.5 .7-8 .7 2.8 .7-2.7 .7 1.5 .7 .8 .7 6.6 .7-3.3 .7 4.9 .7 .6 .7-15.1 .7 8.7 .7-3.9 .7-6.1 .7 3.1 .7 3.4 .7 12.1 .7-8.3 .7-1.2 .7 1.1 .7-3.6 .7 5.4 .7-1.1 .7-8.1 .7 6.3 .7 21.5 .7-14.5 .7-3.5 .7 4.4 .7-8.5 .7 6.1 .7 4.6 .7-13 .7 5 .7 2.2 .7 .9 .7-.9 .7 4.6 .7 4.3 .7-3.3 .7 3.9 .7 .4 .7-8.6 .7 5 .7-3.3 .7 5.8 .7-5.3 .7 1.1 .7 10.3 .7-9.9 .7-7.3 .7 9.2 .7 1.1 .7-4.2 .7 3.3 .7 5.2 .7-8.1 .7 1.9 .7-2.6 .7 5.7 .7-2.3 .7-4.1 .7 4.3 .7 10.8 .7-18.9 .7 1.9 .7 9.4 .7-9.2 .7 18.1 .7-18.4 .7 1.2 .7 4.4 .7 8.6 .7-1.3 .7-1.2 .7-1.3 .7 5.5 .7-16.6 .7 11.3 .7 6.3 .7-13.3 .7 7.6 .7 4.9 .7 .2 .7-7.3 .7 10.8 .7-7.2 .7 3.1 .7-11.4 .7 1.7 .7 .1 .7 13.6 .7-22 .7 2.7 .7 14.2 .7-3.4 .7-16.7 .7 13.8 .7 .5 .7 8.2 .7-16.8" stroke="#000" class="cv"/>
<path d="M144.5 2538.0l.7 158.3 .7 87.4 .7 42.9 .7 33.7 .7 11.4 .7 25.7 .7-2.5 .7 13.7 .7 .6 .7-6.8 .7 5.8 .7 5.7 .7 .1 .7 7 .7-1.1 .7-3.2 .7 2.9 .7-6.5 .7 1.6 .7 7.3 .7-.5 .7-6.8 .7 6.4 .7-3 .7 2.2 .7 10.6 .7-11.1 .7 2.4 .7 7.2 .7-1.8 .7 1.2 .7-7.9 .7 8.3 .7-1.2 .7-1.7 .7 2 .7 2.1 .7 6.7 .7 6.2 .7-8.7 .7 8 .7-6.6 .7-7.9 .7 8.9 .7 7.2 .7 1.3 .7-11.5 .7 17.2 .7-15.2 .7 .6 .7 1.7 .7 11 .7-5.1 .7 3.2 .7-16.2 .7 11.9 .7 0 .7 4.7 .7-6 .7 9.1 .7-9.8 .7-3.7 .7-1.2 .7 15.4 .7-2.7 .7-8.1 .7 10 .7-6.8 .7 .2 .7-7.1 .7 4.8 .7 3.5 .7 .5 .7-4.1 .7 8.2 .7 2.3 .7-12 .7 6.4 .7-10.3 .7 10.3 .7-7.4 .7 4.2 .7 1.7 .7-2.3 .7 6.8 .7-9.8 .7 1.6 .7 4.2 .7-2 .7 1.4 .7-2.6 .7-3.2 .7 7.7 .7-3.2 .7 4.2 .7 2.2 .7-9 .7-2.2 .7 1.4 .7-1.2 .7-7.2 .7 19.2 .7-6.7 .7 10.1 .7-15.5 .7 5.8 .7-2.1 .7-2.4 .7 4.9 .7-6 .7-1.3 .7 .3 .7-13.8 .7 6.9 .7-1.3 .7 11.4 .7-6.9 .7-.3 .7-2.1 .7-5.7 .7 8.5 .7-11.1 .7-7.6 .7 9.6 .7 1.8 .7-6.7 .7 .4 .7 2.3 .7 2.3 .7-5.6 .7 5.3 .7-7.7 .7 9.4 .7-18.5 .7 12.4 .7-3.3 .7-.7 .7-7.1 .7 12.8 .7-6.4 .7-3.7 .7 2.3 .7 2.7 .7 2.3 .7-4.8 .7 .6 .7 7.7 .7-1.9 .7 11.4 .7-12 .7 6.8 .7 6 .7-9.7 .7 6.9 .7-3 .7-.7 .7 8.8 .7-13.3 .7 2.6 .7-5.8 .7 9.2 .7 6.1 .7-6.2 .7 5.9 .7-8.3 .7 10.2 .7-6.7 .7-1.9 .7 11.1 .7-8.7 .7 3 .7-2.5 .7 3 .7-3.2 .7-7.1 .7 7.7 .7 .8 .7-.6 .7-3.4 .7 10.6 .7-13.7 .7 4.3 .7 .3 .7-7.1 .7-.7 .7 9.5 .7-.1 .7-3.1 .7-9.4 .7 6.7 .7 2.5 .7 1.8 .7 2.8 .7-4.2 .7 2.5 .7 3.4 .7-21.3 .7 17.4 .7-7.8 .7 4.6 .7-1.6 .7-6.7 .7 .4 .7 6.8 .7-3.4 .7 4.6 .7-6.2 .7 13.2 .7-12.9 .7 12 .7-15.2 .7 6.7 .7 2.8 .7-13.1 .7 1.5 .7 7 .7 3.7 .7 .9 .7-4.6 .7 2.4 .7-12 .7 3.6 .7 9.6 .7-10.8 .7 1.3 .7-8.2 .7 7.9 .7-7.7 .7 10 .7 5.5 .7-6.4 .7-1.1 .7-3.4 .7 4.7 .7-9.1 .7 3 .7 13.4 .7-18.6 .7 3.5 .7-4.8 .7 13.4 .7-8.2 .7-5.9 .7-.4 .7 12 .7-2.8 .7 .2 .7-5 .7 4.5 .7 1.7 .7-3.9 .7-12.5 .7-2.4 .7 2.1 .7 8.6 .7-9.8 .7 1.6 .7 5.4 .7-5.4 .7-2.7 .7 11.3 .7-3 .7 1 .7 .1 .7 2.2 .7-8.3 .7-1.4 .7-8.8 .7 7.5 .7-2.5 .7 8.2 .7-2.5 .7 3.7 .7-2.6 .7 0 .7-4 .7-2.6 .7-3.2 .7 1.4 .7-5.5 .7 6.6 .7-3 .7-10.8 .7-4.1 .7 9.9 .7 .8 .7 .4 .7 7.9 .7-10.7 .7-3.9 .7 8.2 .7 2.7 .7 2.9 .7-14.6 .7 3.5 .7-1.5 .7 9.7 .7-4.8 .7-4.2 .7 3.2 .7-6.3 .7 .2 .7 .3 .7-3 .7 .7 .7 2.6 .7-1.2 .7 5.9 .7-3.9 .7-5.6 .7-11.8 .7 3.1 .7 4.5 .7-.1 .7-5.6 .7 4.2 .7 1.8 .7-4.8 .7 1.7 .7-.7 .7-4.2 .7-1.9 .7 2.8 .7 1 .7-8 .7-6.4 .7 4.6 .7 6.6 .7-12.3 .7 12.2 .7-9.1 .7 2.7 .7-5.8 .7 6 .7-3.8 .7 .7 .7-13.1 .7 13.1 .7-13.4 .7 6.2 .7 3.8 .7-4.4 .7 3 .7-2.2 .7-.9 .7-5.1 .7 9.3 .7 .4 .7-8.8 .7-2 .7 5.6 .7-5.1 .7 4.6 .7 3.4 .7-.9 .7 4.2 .7-5.4 .7-7.9 .7 .9 .7 7.2 .7 7.1 .7-11.9 .7-2.9 .7 12 .7-8 .7 4.2 .7 1.9 .7-10.8 .7 3.3 .7-1.1 .7 5.5 .7 .6 .7-6 .7 5.4 .7-12.3 .7 11 .7-.2 .7-1.8 .7-7.7 .7 6.9 .7-5.2 .7 12.8 .7-9.3 .7 0 .7 0 .7 2.8 .7-3 .7 1.7 .7-8.4 .7 9.7 .7-9.1 .7 5.6 .7-3.7 .7 3.4 .7-7 .7-8.2 .7 .6 .7 3.7 .7 7.2 .7-10.4 .7 1.4 .7 5.1 .7-10.5 .7 3.4 .7-1.2 .7-5.5 .7 3.2 .7 3.3 .7-.9 .7-8.1 .7 16 .7-14.1 .7-4 .7-3 .7-1.9 .7 8.7 .7-19.6 .7 13.8 .7-6.6 .7 6 .7 .5 .7-6.6 .7 1.7 .7 11.7 .7-9.4 .7 2.9 .7-1.5 .7 5.9 .7 2.1 .7-1.4 .7-1.8 .7 .2 .7-8.9 .7 13 .7-9.5 .7-1.6 .7 2.8 .7-2 .7 6.4 .7 1.7 .7 3.1 .7-7 .7-2.4 .7 1.8 .7-4.4 .7 2.4 .7 14.3 .7-14.2 .7 1.9 .7 5.8 .7-1.6 .7 2.9 .7-8.1 .7-.8 .7 12.7 .7-10.1 .7 3.2 .7 1.8 .7-10.5 .7 8.7 .7-2.4 .7 6.1 .7-4.4 .7-10.1 .7 15.6 .7-17.3 .7 10.9 .7-1.6 .7 .3 .7 2.9 .7 4.8 .7-9.6 .7 1.1 .7 6.8 .7-1.4 .7 .9 .7-2.2 .7-3.2 .7-1.5 .7-.1 .7 6.9 .7 2.9 .7 2.3 .7-15.8 .7 4 .7 1.1 .7-1.1 .7-5.2 .7 16.9 .7-3.7 .7-8.9 .7-1.9 .7 2 .7-6.6 .7 4.1 .7 5.2 .7 3.6 .7-5.5 .7 .2 .7-14.3 .7-13.5 .7 21.9 .7-7.9 .7-2.6 .7 7.9 .7-14.7 .7-.9 .7 .2 .7 11.4 .7-4.3 .7-14.9 .7 17.1 .7-9.3 .7 1.4 .7-7.1 .7 13 .7-8.3 .7 3.6 .7-13 .7 7.8 .7-4.2 .7-2.8 .7-4.2 .7-.5 .7-3.7 .7 1.5 .7 2.1 .7 2 .7-12.4 .7 1.5 .7 1.1 .7-6.6 .7 5.8 .7-1.1 .7-.8 .7 1.9 .7 1.5 .7-2 .7-4 .7 .4 .7-8.5 .7-2 .7 7.1 .7-1.6 .7 7.4 .7-13.7 .7-5.1 .7 5.7 .7-4.8 .7-3.2 .7 11 .7 2.2 .7-8.9 .7-6.1 .7 4 .7-2.3 .7-7.8 .7 10.7 .7-3.5 .7 3.8 .7-10.7 .7 1.5 .7-2.1 .7-10.2 .7 20.1 .7-26.4 .7 2.5 .7 1.6 .7-9.1 .7 7.6 .7-7.5 .7-.1 .7-2.1 .7-3.9 .7-3.1 .7-4.8 .7-.7 .7-1.7 .7-9.4 .7-4.7 .7-3.3 .7 .2 .7-6.9 .7-3.4 .7-9.3 .7 14.6 .7-20.1 .7 11.7 .7-8.4 .7-2.6 .7-7.8 .7-2.7 .7-5 .7-2.4 .7-2.6 .7-.4 .7-17.1 .7 4 .7 2.2 .7-4.9 .7-16.3 .7 3.7 .7-3.5 .7-3.5 .7-16.9 .7 12.7 .7-16.8 .7 16.6 .7-11.2 .7-6.5 .7 2.1 .7-3.5 .7-3.4 .7 3.4 .7 4.1 .7-3.8 .7 11 .7 5.4 .7 3.5 .7 4.4 .7 4.7 .7 .9 .7 7.2 .7-2.9 .7 5.4 .7 8.5 .7 5.7 .7-9.1 .7-2.6 .7 22.5 .7-1.8 .7 7.1 .7-1.4 .7 0 .7-1.1 .7 1.7 .7 16.3 .7 .8 .7-.4 .7-4.6 .7 5.9 .7 2.1 .7 4.1 .7-11.7 .7 18.3 .7 8.6 .7-10.2 .7 3.8 .7 1.6 .7-6.9 .7 7.4 .7-7 .7 1.4 .7 3 .7-2.5 .7-.1 .7-6.6 .7 7.6 .7-11 .7 8.9 .7-8.7 .7-5.4 .7 4.2 .7-7 .7 .9 .7 .1 .7 3 .7-2.1 .7-4.7 .7-8.1 .7-11.5 .7 1.3 .7-6.8 .7-5.8 .7-9.4 .7-7.6 .7-.8 .7-19.4 .7-.9 .7-1.2 .7-18.8 .7-8.7 .7-3 .7-7.4 .7-2.8 .7 .4 .7-13 .7-1.3 .7-11 .7-4.4 .7-.5 .7-9.8 .7 5.7 .7-12.9 .7-2.8 .7-8.6 .7-.4 .7-6.5 .7-.3 .7-9.8 .7 6.6 .7 6.5 .7-22.4 .7 16.6 .7-12.8 .7 2.8 .7-12.6 .7 14.1 .7-18.7 .7 3.7 .7 7.4 .7-16.2 .7-6.2 .7 12.1 .7-3.3 .7-.3 .7 1.5 .7-1.4 .7 17.3 .7 1.1 .7-11.7 .7 9.2 .7 .7 .7 11.2 .7-7.7 .7 16.1 .7-6 .7-1.6 .7 6.4 .7-.1 .7 17.7 .7-9.3 .7-1.3 .7 5.3 .7 9.9 .7-10.7 .7-1.4 .7 18.8 .7-1.2 .7-3.3 .7 4.5 .7 8.8 .7-18.6 .7 23.8 .7-6.1 .7 6.3 .7-2.6 .7 18.2 .7-19.5 .7 9.7 .7-20.2 .7 14.2 .7 3.7 .7-13.2 .7-3.2 .7 11.2 .7 4.5 .7 .6 .7-10.5 .7 5.7 .7-8.8 .7 18.9 .7-10.4 .7 13.1 .7-5 .7 3.7 .7 15.1 .7-8.9 .7 16.9 .7-3.8 .7 2.4 .7 5.6 .7 16.1 .7-1.4 .7 3.5 .7-1.6 .7 19.2 .7 3.3 .7-.2 .7 6.3 .7-18.3 .7 18.7 .7 7.6 .7 3.4 .7 .1 .7 8.1 .7-1.7 .7 3.9 .7 .2 .7 11 .7-1.5 .7 4.3 .7 13.4 .7-5 .7 2.8 .7-5.5 .7 8.2 .7 10.9 .7 .1 .7-.3 .7 1.1 .7 3.6 .7 3.9 .7-1.9 .7-10 .7 26.2 .7-2.8 .7-5.3 .7 10.4 .7-13.2 .7 16.1 .7-4.3 .7 5.5 .7-5.2 .7 4.2 .7 3.8 .7 3.8 .7-1.9 .7 .5 .7-5 .7 13.2 .7-8 .7-2.3 .7-.6 .7-5 .7 2.5 .7-4.5 .7 9.3 .7-1.8 .7 1.4 .7-8.3 .7 4.3 .7-1.4 .7 8.7 .7-13.9 .7-.4 .7 15.2 .7-5.2 .7-10.8 .7 15.9 .7 .7 .7-1.9 .7-17.7 .7 12.1 .7-5.5 .7 3.3 .7-7.2 .7 18.2 .7-13.3 .7 5.3 .7 2.9 .7-1 .7-1.1 .7-4.5 .7 3.4 .7-2.4 .7-11.3 .7 18 .7-9 .7 .6 .7 .6 .7-5.3 .7 1 .7-3 .7 12.8 .7 4.3 .7-5.6 .7-6.2 .7 14.1 .7-8.3 .7-6.3 .7-.8 .7 12.1 .7 7.8 .7-9.2 .7-.6 .7 2.9 .7-2.3 .7 2.5 .7 5.6 .7-4 .7 10.7 .7-8.9 .7 11 .7-.3 .7-2.4 .7 2.1 .7 1.3 .7 12.2 .7-12.7 .7 11.7 .7-.3 .7-6.7 .7 11.4 .7-21.4 .7 15.1 .7-.1 .7 0 .7 5 .7-6.3 .7 1.7 .7 7.8 .7-6.6 .7-4.7 .7 9.1 .7-3.3 .7-2.5 .7 6.3 .7-7.2 .7-1.1 .7 3.8 .7 .3 .7 1 .7-7.3 .7 15.6 .7-6.3 .7-3.5 .7-.2 .7-15.7 .7 18.1 .7-11.5 .7 7.6 .7-10.2 .7 11.2 .7-9.2 .7 1 .7 8.8 .7-3.7 .7-13.7 .7 3.1 .7 4.2 .7-2.9 .7 5.1 .7-8.8 .7-7.2 .7 4.8 .7 3.3 .7 3.5 .7 .4 .7 2.1 .7-6.2 .7-3.1 .7 4.4 .7-5.4 .7-2.8 .7-.9 .7 6.8 .7 2.1 .7-2 .7-17.2 .7 13.5 .7-13.7 .7 2.7 .7 3.4 .7-12.4 .7-1.4 .7 .6 .7 11.3 .7-5.5 .7-13 .7 3.5 .7-2.2 .7-1.3 .7-7.9 .7 9.7 .7-12.2 .7 4.5 .7-15.9 .7 9.3 .7-3.5 .7 4.4 .7-24 .7 15 .7-.9 .7-8.3 .7 6.3 .7 2 .7-9.1 .7-2.7 .7 .7 .7-7.3 .7 2.2 .7-5.6 .7-9.1 .7-4 .7 10.4 .7-4.9 .7-8.6 .7 2.1 .7 6.2 .7-19.3 .7 2.7 .7 7.1 .7-1.1 .7-12.7 .7-.7 .7 4.8 .7 5.3 .7-9 .7-14.2 .7 17.3 .7-6.8 .7-3.3 .7-4.5 .7 12.5 .7-5.4 .7 .7 .7-.2 .7 .7 .7 2.5 .7 5.2 .7-14.8 .7 6 .7-1.4 .7 12.5 .7-10 .7-6.4 .7 9.6 .7-2.9 .7 1 .7 2.7 .7-3.7 .7-2.3 .7 22.5 .7-10.2 .7-3.3 .7 9.7 .7 5.1 .7-15.8 .7 8.3 .7 5.1 .7-4.9 .7 8.4 .7-7.8 .7 4.7 .7 4.6 .7 4.7 .7-.5 .7-2.2 .7 3.5 .7-7.9 .7 25.2 .7-12.3 .7 2.3 .7 4.7 .7 3.3 .7 .2 .7-4.2 .7-4.1 .7 9.4 .7-2.3 .7 2.4 .7 4.1 .7 2.3 .7 6.8 .7-6.9 .7-7.7 .7 13.8 .7 3 .7-13 .7 13.7 .7-1 .7-2.5 .7 5.5 .7 3 .7 3.4 .7 5.7 .7-3.3 .7 3.5 .7 17.1 .7-15.1 .7 8.6 .7 4 .7 10.6 .7 6.5 .7-8.8 .7 18.5 .7-8.9 .7 25.2 .7-14.1 .7 13.6 .7-4.1 .7 8.5 .7-5.3 .7 7.4 .7 2 .7 3 .7 6.4 .7-4.4 .7 3.1 .7-3.1 .7 8.9 .7 .3 .7 9.8 .7 1.1 .7-5.6 .7 8.5 .7 6.8 .7-6.5 .7-3.4 .7 21.8 .7-8.8 .7 2.5 .7 11.5 .7-16.7 .7 7.4 .7-10.8 .7 14.4 .7 .6 .7-5.5 .7 .7 .7 4.8 .7 .7 .7 11 .7-9.1 .7 1.5 .7 .9 .7-6.9 .7 7 .7-3.8 .7 9 .7-12 .7 6.7 .7 8.3 .7-12.2 .7 3.6 .7 14.7 .7-12.3 .7 7.8 .7 2.1 .7-7.1 .7-3.2 .7 17.9 .7-11.3 .7 6 .7-7 .7 6.1 .7-9.4 .7-.5 .7 1.6 .7 2.1 .7-.4 .7 1.3 .7 3.9 .7-5.8 .7 7.7 .7-9.3 .7 6.9 .7 3 .7 1.9 .7-21 .7 19.9 .7-19.8 .7 17 .7-8.4 .7 1.5 .7-7.6 .7 9.9 .7-1.9 .7-7.2 .7-.8 .7 7.7 .7 .6 .7-1.7 .7-6.7 .7 1.9 .7 5 .7-.7 .7 1.5 .7-5.5 .7-4.6 .7 5.6 .7 1.1 .7-5.2 .7 5.6 .7-6.7 .7 6.4 .7-4.3 .7 15.4 .7-4.5 .7-4.6 .7-8 .7 1.1 .7 11.2 .7-4 .7 3.3 .7-9.6 .7 1.1 .7 9.7 .7-1 .7-5.4 .7 3.8 .7 9.5 .7-5.9 .7 6.4 .7 6.7 .7-6.4 .7-.3 .7-3.2 .7 10.7 .7-13.9 .7 2.6 .7 6.7 .7-7.3 .7 14.1 .7-8.1 .7 7.1 .7-3.9 .7 1.2 .7 2.3 .7-10.1 .7 5.7 .7 4.3 .7 15.7 .7-6.8 .7 .4 .7-8.7 .7 11.5 .7 2.9 .7-1.8 .7 11.2 .7-21 .7 2.4 .7 5.3 .7-3.1 .7 6.5 .7 3.3 .7-2.2 .7 1.3 .7 2.3 .7 2.6 .7-7.3 .7 .4 .7 10.6 .7-8 .7-2.5 .7 6.4 .7-3.4 .7 2.7 .7-1 .7 3.8 .7 1.6 .7-9.6 .7-2.1 .7 15.4 .7-12.5 .7-4.8 .7-1.9 .7 10.2 .7-3.3 .7-6.5 .7 4.8 .7-.6 .7 11.3 .7-4.2 .7-1.3 .7-7 .7 6 .7 4.7 .7-2.8 .7 4.9 .7-5.4 .7 3.4 .7-1.3 .7-5.6 .7 10.5 .7-5.4 .7 2.5 .7-10.3 .7-.2 .7 5 .7-3.4 .7 7.8 .7-1.1 .7 4.5 .7-3.5 .7-9.5 .7 11.4 .7-8.8 .7-.4 .7 4.4 .7-.4 .7 5.7 .7 9.9 .7-13.3 .7 5.7 .7-9.1 .7 3 .7-4.7 .7 .5 .7 9.7 .7-4.9 .7 0 .7-6.9 .7 13.8 .7-10.4 .7-2.6 .7 3.5 .7 3.8 .7 .4 .7 4 .7-13.9 .7 3.5 .7 10.9 .7 3.9 .7-15.9 .7 2.9 .7-8 .7 4 .7-.3 .7 4.3 .7-6 .7 11.6 .7-5.4 .7-1.1 .7 6.5 .7-6.5 .7-5.4 .7 7 .7 11.7 .7-11.3 .7 2.3 .7-4 .7-.1 .7 4 .7-17.3 .7 7.7 .7 3.6 .7 1.9 .7 9.5 .7 5.6 .7-9.9 .7-1.1 .7 1.7 .7 4.7 .7-13.5 .7 2.8 .7 3.8 .7 .9 .7-11.9 .7 13 .7-10.9 .7 13 .7 .6 .7-16.9 .7 15.3 .7-1.6 .7-4.3 .7 8.7 .7 5.8 .7-8.3 .7-8.7 .7-2.1 .7 .9 .7 .1 .7 10.7 .7-5.7 .7-3 .7 3.5 .7-6.2 .7-1.4 .7-6.3 .7-.2 .7 2.2 .7-7.8 .7 14.4 .7-9.4 .7-4.4 .7 8 .7-11.5 .7 11.3 .7-5.6 .7 9.6 .7-13.6 .7 .6 .7-2.7 .7-2.5 .7 8 .7-7.4 .7 7.4 .7-5.5 .7 9.1 .7-20 .7 16.1 .7-2.2 .7-.5 .7-3.6 .7 12.9 .7-12 .7 4.4 .7-3.9 .7-.7 .7 2.4 .7 3.1 .7-9.9 .7 3.4 .7-5.2 .7 9.8 .7-7 .7 .6 .7 7.6 .7-3.7 .7 2.2 .7-3 .7 3 .7-1.8 .7-6.6 .7 7.3 .7-3.1 .7 .6 .7 3 .7-4.5 .7-2.6 .7 12.4 .7 3.8 .7-11.8 .7 8.4 .7-3.9 .7-5.4 .7-.8 .7 3.3 .7-.5 .7 .8 .7 1.5 .7-5.2 .7 11.2 .7-10.6 .7 .7 .7 11.2 .7-.6 .7 4.2 .7-6.9 .7-4 .7 10.1 .7-6.5 .7 .1 .7-3.7 .7 7.1 .7-15 .7 16.1 .7-13.7 .7 16 .7-13.2 .7 12.4 .7 9.9 .7-15 .7-4.8 .7 17.1 .7-13.1 .7-3.7 .7 13 .7-22.5 .7 7.4 .7 1 .7 3.4 .7-7.3 .7 15.6 .7 1.1 .7-5.9 .7-2 .7-6.3 .7 11.2 .7-6.5 .7 7.3 .7 2.2 .7-5.4 .7-11.8 .7 6.4 .7 12.7 .7-6 .7 6.3 .7-20.1 .7 11.7 .7-.4 .7-7.9 .7 5.3 .7 9 .7-2.4 .7-5.9 .7 4.7 .7 4.8 .7-12.5 .7 7.5 .7 4.1 .7-9.5 .7 11 .7-7.7 .7 6.6 .7-1 .7-3.6 .7-3 .7-2 .7 4.6 .7 .3 .7 6.6 .7-8.1 .7 2.5 .7 7.4 .7-7.3 .7 .8 .7 6.5 .7-8.3 .7 1.9 .7 2.1 .7-4.7 .7-5.3 .7-1.8 .7 7.1 .7 7.5 .7-.6 .7 3.7 .7-3.8 .7-8.4 .7-4.2 .7 5.3 .7 1.6 .7-2.5 .7 9.4 .7-9.3 .7 7.7 .7 1.3 .7-13.6 .7 7.4 .7 9.4 .7-2.1 .7-3.8 .7-6.6 .7 2.4 .7 4.5 .7 6.6 .7-4 .7-3 .7 1.9 .7 3.1 .7-13.7 .7 4.4 .7 5.8 .7 6.6 .7-.5 .7-10.1 .7 4.6 .7-4 .7 2.1 .7 3.2 .7-2.6 .7-.9 .7-3.1 .7-2.2 .7 7.9 .7 2.3 .7 2.6 .7-7.7 .7 .7 .7 11.2 .7-4.4 .7 2.8 .7-7.8 .7-.5 .7-2.2 .7 12 .7-11.4 .7-3 .7 5.6 .7 11.4 .7-6.5 .7 1.4 .7-.4 .7-.6 .7-.3 .7-6.5 .7 17.2 .7-9.6 .7 7.9 .7-14.8 .7 12 .7-9 .7-.2 .7 9.1 .7 4.6 .7 2.4 .7 .3 .7-8.3 .7 6.3 .7-7 .7 .9 .7 4.8 .7-1.4 .7 5.8 .7-14.1 .7 16.8 .7-8.8 .7 11.8 .7-1.2 .7-12.1 .7 6.6 .7 4.6 .7-7.6 .7 .9 .7 2.9 .7 6.3 .7 1.4 .7-6.8 .7 7.3 .7 4 .7-2.6 .7-8.6 .7-.1 .7 6.5 .7 3.4 .7-1.8 .7-4 .7-2.6 .7 12.4 .7-7.4 .7 11.5 .7-16.1 .7 4.8 .7-1.3 .7 13.9 .7-2.9 .7-9.1 .7-7.5 .7 17.2 .7-5.2 .7-6.5 .7-1.7 .7 10.7 .7-3 .7 2.3 .7 1.7 .7-3.8 .7 .8 .7 5.5 .7-3.9 .7-.6 .7 5.4 .7-14 .7 17.9 .7-4 .7-6.3 .7 3.5 .7 8 .7-3.3 .7-12.5 .7 4.5 .7 6.9 .7 9 .7-5.2 .7-4.9 .7 4.5 .7-2.7 .7-1.4 .7 4.1 .7-13.4 .7 17.6 .7-2.2 .7-5 .7-1.9 .7-1.5 .7 8.4 .7-.3 .7 .6 .7 8.7 .7-21 .7 8.5 .7 .1 .7 9.7 .7-6.2 .7-3.4 .7 6.6 .7 1.4 .7 6.9 .7-7.1 .7-3.5 .7-.1 .7-1.5 .7 7.4 .7 2 .7-5.5 .7 .7 .7 8.4 .7-6.8 .7 2.3 .7-8.6 .7 2.7 .7-8.3 .7 4.2 .7 9.5 .7 4.8 .7-8.3 .7-5 .7 7 .7 5.7 .7-7.1 .7 5.9 .7-5.3 .7-6.4 .7 1.8 .7 3.5 .7 13.9 .7-9.3 .7-4.5 .7 2.9 .7-.4 .7-3.6 .7 1.8 .7-.8 .7 5.5 .7 4.4 .7-1.2 .7-9 .7 4.7 .7-6.9 .7-2.1 .7 6.4 .7 2.9 .7-3.6 .7 4.8 .7 0 .7-.4 .7-4.9 .7-6.6 .7 17.2 .7-12.4 .7 6.6 .7-1.3 .7-4.6 .7 11.9 .7-6.3 .7-3.8 .7-2.2 .7-3 .7-1.6 .7 10 .7-5.5 .7-.1 .7 5.3 .7-4.7 .7 5.5 .7-7.1 .7 .7 .7 7.8 .7-8.7 .7 7 .7-.5 .7-2.7 .7-9.1 .7 1.9 .7 1.2 .7-1.1 .7 11.7 .7-9.4 .7-2 .7 4 .7 2.2 .7-8.6 .7 12.4 .7 .6 .7-7.1 .7 7.6 .7-12.8 .7 5.4 .7 2.1 .7 1.3 .7 5.8 .7-8 .7-3.7 .7 6.7 .7-.3 .7 1.6 .7-4.1 .7 2.8 .7-3.8 .7 6.3 .7-6.5 .7 .5 .7 9.9 .7-10.2 .7 4.4 .7 3.4 .7-4.5 .7 6.9 .7-7.7 .7 9 .7-13.6 .7 1.5 .7 8 .7 7.8 .7 1.3 .7-13 .7 4.9 .7-2.1 .7-8.6 .7 15.9 .7-5.6 .7 9.8 .7-5.5 .7-4 .7-.6 .7 3.1 .7 3.8 .7-4.8 .7 18.1 .7-13.8 .7-7 .7 6.8 .7 6 .7-3.6 .7-4 .7-1.6 .7-.4 .7-2 .7 3.8 .7 4.4 .7-4.2 .7 12 .7-6.5 .7-4.3 .7 2.4 .7 8.3 .7-17 .7 10.7 .7 13.4 .7-8.9 .7-10.1 .7 5.8 .7-1.8 .7 16.5 .7-18.5 .7 2.3 .7-.1 .7-5.8 .7-10 .7 16.8 .7 4.2 .7-5 .7 5.2 .7 1.5 .7-.1 .7-12.8 .7 17.5 .7-3.4 .7-.2 .7-4.1 .7 0 .7-2.7 .7 5.3 .7 2.9 .7-8 .7 7.6 .7-6.8 .7 5.8 .7-3.8 .7 5.5 .7 5.9 .7-9.1 .7-3.8 .7 .4 .7 5.8 .7-5.9" stroke="#f00" class="cv"/>
<path d="M144.5 2538.0l.7 102.5 .7 62.2 .7 26.5 .7 17.9 .7 12.8 .7 13.2 .7-1.3 .7 11.5 .7-12.5 .7 9.4 .7 4.3 .7-7.7 .7 7.8 .7-3.7 .7 8.8 .7 .1 .7 6.3 .7-7.6 .7-3.3 .7 6.8 .7 4.5 .7 .7 .7 1.3 .7 6.6 .7-7.7 .7 1.6 .7-2.7 .7 2.2 .7 9.6 .7-3 .7-15.4 .7 21.4 .7-16.7 .7 9.3 .7 8.1 .7-4 .7 2.9 .7 2.3 .7-2.5 .7-7.8 .7 9.3 .7-5.2 .7-8.8 .7 12.1 .7 5.1 .7-1.9 .7-.1 .7 9.9 .7-7.5 .7 3.9 .7-2.7 .7 7.6 .7-10.5 .7 8.7 .7 3.9 .7-11.5 .7 8 .7-12.7 .7 9.3 .7 2.6 .7-8.2 .7-4.9 .7 10.2 .7-1.7 .7 3 .7 .9 .7 3.2 .7 4.2 .7-5.8 .7-10.4 .7 12.2 .7-1.3 .7-1.1 .7 8 .7-6.9 .7-3.2 .7 4.7 .7-11 .7 14 .7-4.7 .7 9 .7-5.3 .7-1.6 .7-.9 .7-7.4 .7 6.1 .7 2 .7 3.8 .7-3 .7 1.3 .7-.2 .7-6.7 .7 4.2 .7-3.1 .7-6 .7-1.8 .7 12.2 .7 2.8 .7-.5 .7-12.9 .7 12.2 .7-.3 .7-13.2 .7 6.1 .7 6 .7-9.4 .7 5.2 .7-10.4 .7 .8 .7 5.9 .7-6.3 .7 1 .7-.9 .7-6.6 .7 13 .7-9.4 .7-1.6 .7-1.2 .7 2.2 .7-6 .7 9 .7-7.2 .7 5.4 .7-9.8 .7-1.5 .7-.2 .7 5.5 .7-9.1 .7 11.1 .7-7 .7 6.1 .7-7.4 .7 6 .7-10.4 .7-.7 .7 9 .7-6.4 .7 8.7 .7-9.4 .7 6.7 .7-6.9 .7-4.7 .7 17.6 .7-8.4 .7 6.9 .7-3.7 .7-9.6 .7 12.1 .7 4.4 .7 1.9 .7 2.6 .7-6 .7-2 .7 1.7 .7-6 .7 11 .7 .7 .7-1.4 .7-5.5 .7 8.2 .7-6 .7 10.2 .7-9.7 .7 .7 .7 1.3 .7-3.8 .7 .8 .7 3.3 .7-11.9 .7 24.2 .7-8.9 .7-.6 .7-6.4 .7 5.7 .7-1.2 .7 .4 .7-8.7 .7 7.2 .7-9.8 .7 9 .7-3.9 .7 1.3 .7 1.3 .7 6.1 .7 1.9 .7-6.7 .7-6.3 .7 13.8 .7-16 .7 4.4 .7 1.6 .7-3.1 .7 11.1 .7-5.3 .7 3.4 .7-7.7 .7 6.1 .7-5.8 .7-.2 .7 2.3 .7 .3 .7 .7 .7-4.5 .7-7.2 .7 6.2 .7-13.1 .7 12.8 .7-3.1 .7 8.6 .7-19.5 .7 25.5 .7-13.1 .7-7 .7 10.7 .7 .1 .7-.6 .7 9.3 .7-16.7 .7 5.8 .7-1 .7-4.8 .7 5 .7 5 .7-11.8 .7 6.8 .7 2.7 .7-2.2 .7-12.5 .7 9.9 .7-3.9 .7 8.5 .7-7.7 .7 11.1 .7-17.7 .7 9.1 .7-7.8 .7 14.2 .7-1.5 .7-13.9 .7 8.9 .7-4.7 .7-8.9 .7 2.8 .7 5.9 .7 2 .7-5.2 .7 3.3 .7-.2 .7-.5 .7-8.4 .7 6.9 .7 1.8 .7-11.4 .7 16.2 .7-.8 .7-7.4 .7 10.1 .7-16.1 .7-1.1 .7 1.4 .7-.9 .7 13.6 .7-10.2 .7-.9 .7 1.9 .7 6.3 .7-8.2 .7-3.3 .7 3.1 .7 5 .7-8.3 .7 8.4 .7-6.5 .7-3 .7 3.2 .7 7.7 .7-12.5 .7 8.4 .7-4.9 .7-2.6 .7-1 .7 3.7 .7-1.6 .7-1.7 .7 1.1 .7-8.7 .7 .6 .7-2.3 .7 3.1 .7 .2 .7-1.3 .7 4.4 .7-8.5 .7 3.3 .7 5.6 .7 3.9 .7-9.4 .7 5.8 .7 .4 .7-13.5 .7 6.3 .7-7.5 .7 3 .7 3.8 .7-9.6 .7 9.2 .7-4.2 .7-1.1 .7 3.7 .7-7.9 .7-5.3 .7 8.7 .7-4.6 .7 2.3 .7-5.5 .7 .3 .7-1.2 .7-2 .7 1.8 .7-.6 .7 3.6 .7 16.2 .7-21.3 .7-6 .7 10.9 .7-10.7 .7 1 .7 2.1 .7 1.2 .7-.6 .7 0 .7-2.7 .7 5.8 .7-2.3 .7-8.3 .7 1 .7-6.9 .7 10.2 .7-5.4 .7 10.8 .7-14.6 .7 11.3 .7-13.7 .7-4.6 .7 4 .7 6.1 .7 3.3 .7-10.5 .7 9.7 .7-8.3 .7-.2 .7 .9 .7 10.4 .7-8.1 .7 .5 .7-10 .7 8.9 .7 .5 .7 7.1 .7-13.6 .7 .8 .7-1.3 .7 1.3 .7 7 .7-8 .7 11.1 .7-6.9 .7-5.2 .7 1.3 .7-4 .7-.6 .7 13.8 .7-1.6 .7-10.2 .7 2.7 .7 10.8 .7-12.7 .7 4.8 .7 1.3 .7-4.1 .7-.2 .7-1.2 .7 1.9 .7-9.7 .7 7.9 .7-.1 .7-9.1 .7 8.6 .7-8.6 .7-10.3 .7 2.5 .7 9.6 .7 1.2 .7-6.7 .7-6.9 .7 5.5 .7 4.4 .7-6.7 .7-9.1 .7 9 .7-5 .7-1.3 .7-.1 .7 1.3 .7-4.9 .7-5.8 .7 3.4 .7 .2 .7 4.6 .7-13.9 .7 5 .7-4.8 .7 5.6 .7-5 .7-14 .7 21.4 .7-8.9 .7-2.3 .7-2.1 .7 2.5 .7-1 .7 6.6 .7 2 .7-.8 .7 2.9 .7-5.8 .7 8.4 .7-3.2 .7 3.7 .7 1.6 .7-4.6 .7 9.4 .7-1.6 .7-5.8 .7 12.4 .7 .2 .7-16.5 .7-3.2 .7 9.3 .7 6.4 .7 3 .7-1 .7-3.3 .7 5.5 .7-1.2 .7-6.1 .7 3.4 .7 4.7 .7-9.3 .7-.1 .7-1.3 .7 12.1 .7-4.6 .7 .6 .7-6.8 .7 1.4 .7 6.3 .7-8.5 .7 7.4 .7-6.9 .7-.5 .7 2.6 .7 1.2 .7 4.3 .7-11.8 .7 10.4 .7-13.6 .7-1 .7-7.8 .7 16.1 .7 3 .7-14.8 .7 4.3 .7-.1 .7-7.3 .7 8.3 .7 .8 .7-4.7 .7-3.3 .7 5.8 .7 2 .7-11.2 .7 6.6 .7 3.1 .7-18.5 .7 16.3 .7 7 .7-16.6 .7 13.4 .7-9.1 .7 4.3 .7-4.7 .7-5.8 .7-3.6 .7 21.4 .7-20.6 .7 5.1 .7 8.5 .7-6.7 .7-1.4 .7-12.4 .7 6.8 .7-4.5 .7-3.2 .7 10.8 .7 1.8 .7-9.3 .7-.1 .7 5.1 .7 1.7 .7-11.2 .7 11.3 .7-2 .7-5.7 .7-6.7 .7 8.3 .7 0 .7 5.1 .7-13.3 .7 11.1 .7-11 .7 4.2 .7-4 .7 .5 .7 6.9 .7-12.1 .7 7.6 .7-6.6 .7 .6 .7-4.3 .7 4.2 .7-12.6 .7 8.4 .7 6 .7-1.9 .7-14.4 .7 1.6 .7 2.6 .7 11.1 .7-13.8 .7 .8 .7-2.9 .7 1.4 .7-8.3 .7 4.5 .7-.6 .7 1.1 .7-12.3 .7 7.7 .7 3.5 .7-8.2 .7-2.7 .7-19 .7 18.4 .7 1 .7-5.9 .7-6 .7-.4 .7 9.6 .7-22.4 .7-.6 .7 5.8 .7-6.9 .7-15.5 .7 10.4 .7-1.8 .7-9.4 .7 4.6 .7-3.3 .7-13.7 .7 9.9 .7 6.3 .7-4.8 .7-18.3 .7-3.7 .7 4.8 .7-1.4 .7-11.5 .7 .6 .7 8.7 .7-8.7 .7 1.6 .7-8.6 .7 2.9 .7-11.3 .7-2.8 .7-5.2 .7-8.2 .7 5.4 .7-8.1 .7 1.9 .7 .4 .7-2.7 .7-1.6 .7-7.1 .7-1 .7 3.9 .7-9.9 .7-1.7 .7-16.5 .7 4.1 .7 8.7 .7-14 .7-4.4 .7 8.1 .7-14.7 .7 9.9 .7-7.8 .7-4 .7-8.2 .7 18.6 .7-16.7 .7 4 .7 12.1 .7-9.8 .7 11 .7-1.3 .7 .6 .7-2.4 .7 4.2 .7 7.3 .7-4.7 .7 11 .7 0 .7 3.8 .7 .4 .7 3.9 .7 1.5 .7 5.2 .7 .6 .7 3 .7-3.3 .7-.8 .7 13.4 .7 8.8 .7-6.6 .7 .2 .7 9.4 .7 8.5 .7 6.2 .7-3.1 .7-1.7 .7 8.9 .7 6.6 .7-1.9 .7 7.6 .7-7 .7 8.4 .7 4.5 .7-14.4 .7 .5 .7 7.9 .7 13.1 .7-14.9 .7-3.6 .7 6.4 .7-8.7 .7-9.3 .7 2.5 .7 11.4 .7-17.9 .7 0 .7 10.8 .7-5.2 .7 4.2 .7-14.1 .7 .1 .7 .2 .7-7.5 .7 2.1 .7-3.9 .7 .8 .7-10.7 .7-7.7 .7-1.4 .7-3.3 .7-7.2 .7-11.1 .7-10.6 .7-7.4 .7-11.3 .7 1 .7-6.7 .7 3.4 .7-13 .7-1.7 .7-1.2 .7-21.4 .7 2.8 .7-1.6 .7-1.7 .7-10.4 .7 7.4 .7-3.1 .7-5.6 .7-2.2 .7-13 .7 9.1 .7-12.7 .7-10.2 .7 7.7 .7-1.9 .7-9.7 .7-9.1 .7-.9 .7 1.9 .7-16.5 .7 16.3 .7-2.9 .7-9 .7 4.9 .7-8.1 .7-6.1 .7 9.6 .7 .2 .7-6.9 .7-.8 .7 4.6 .7 14.5 .7-5.1 .7 20.4 .7-15.4 .7 10.6 .7 2.2 .7 .8 .7 9.6 .7-5.6 .7 7.8 .7-2.9 .7-2.6 .7 14.9 .7-4.6 .7 1 .7 12.3 .7-2.2 .7 5 .7 9.3 .7-6.7 .7 3.2 .7-7.5 .7 12.5 .7 1.3 .7-9.5 .7 10.1 .7-1.4 .7-2.9 .7 1.2 .7 12 .7-18.1 .7 .3 .7 .7 .7-3.2 .7-10.6 .7 12.1 .7 .3 .7 3.5 .7-13 .7-3.6 .7 11.8 .7-7.1 .7 8.4 .7 1.2 .7 7.2 .7 .7 .7 10.7 .7-4.4 .7 22.5 .7-4.7 .7-3.9 .7 1.9 .7 8.3 .7 2.6 .7 2.4 .7 16.6 .7 2.1 .7-6.9 .7 13.3 .7 1.2 .7 8.2 .7-4.1 .7 18.9 .7-8 .7 13.4 .7-10.8 .7 12.8 .7-5.3 .7 12.5 .7-7.5 .7-2.3 .7 2.5 .7 4.9 .7 9.2 .7 1.1 .7 .8 .7 7.4 .7 5.3 .7-12.6 .7 13 .7 9 .7-14.5 .7 1.9 .7 6.8 .7 .4 .7-3 .7 3.6 .7 10.2 .7-2.9 .7-8.6 .7-4.1 .7 4.2 .7 7.9 .7-4.5 .7 .5 .7 9.3 .7-4.8 .7 .2 .7 3.9 .7 7.5 .7-5.7 .7 2.7 .7-2.7 .7 8.6 .7-14.8 .7 1.1 .7 3.8 .7 14.4 .7-2.3 .7-14.2 .7 3.9 .7 5.8 .7-2.3 .7 4.7 .7-7.4 .7-6.2 .7 12.7 .7 3.6 .7-15.2 .7-1.8 .7 8 .7-7.7 .7 12.7 .7-8.6 .7 10.5 .7-5.9 .7 2.7 .7 3 .7-4.7 .7-4.4 .7 10.7 .7-13.1 .7 15.9 .7-11 .7 .5 .7 5.1 .7 .2 .7 .6 .7-10.8 .7 3.3 .7 6.9 .7 .2 .7-2.4 .7 7.8 .7-8 .7 6.3 .7 1 .7-3.8 .7-2.7 .7 5.7 .7-1 .7 1.7 .7-7.3 .7 8.3 .7 7.2 .7-9.3 .7 3.5 .7-1 .7 7.3 .7-15 .7 21.3 .7-4.9 .7-3 .7 3.8 .7 5.6 .7-3.3 .7 2.4 .7 3.6 .7-5.2 .7 3.5 .7 4.3 .7-4.8 .7-6.3 .7 7.8 .7 7.1 .7-12.7 .7 4.4 .7 0 .7 2.7 .7-6.9 .7 2.3 .7 10.9 .7-6.8 .7-7 .7 7.8 .7-3.9 .7 8.2 .7-17.1 .7 9.4 .7 4.9 .7-12.2 .7 2.9 .7 6.8 .7-2.4 .7-1.8 .7 3.3 .7-9.2 .7 3 .7 14 .7-13 .7 5.9 .7-2.7 .7 4.9 .7-3 .7 .4 .7 4 .7-4.7 .7-11.2 .7 5.6 .7 11.2 .7-2.2 .7-7.2 .7-7.6 .7 4.6 .7 15 .7-5 .7-.1 .7-15.7 .7 1.1 .7 3.7 .7-4.8 .7 7.1 .7-7.7 .7 7.3 .7-5.1 .7-3.4 .7 5 .7-2.8 .7-3.6 .7-4.5 .7-.3 .7-12.1 .7-2.2 .7 5 .7 2.5 .7 6.9 .7-9.3 .7-9.4 .7 1 .7-5.9 .7 5 .7-1.9 .7-1.3 .7 0 .7 2.4 .7-3.6 .7-11.7 .7 9.1 .7-11.8 .7 5.9 .7-3.3 .7 6.9 .7-11.4 .7-1.7 .7-2.6 .7 4.4 .7-4.6 .7-4.8 .7 4.4 .7 5.3 .7-4.2 .7-2.2 .7-12.6 .7 .7 .7-.4 .7-11.9 .7 16.8 .7-19 .7 8.1 .7-10.8 .7 5.5 .7 2 .7-3.5 .7-9.3 .7-.6 .7 6.9 .7-7 .7-.5 .7 3 .7-19.9 .7 13.8 .7 4.4 .7 1.9 .7-6.7 .7-8.3 .7 8.8 .7 4.7 .7-13.6 .7-.4 .7 3.3 .7-1.1 .7-8.5 .7-1.3 .7 6.2 .7 4.2 .7 6.4 .7-4.5 .7 4.5 .7 7.2 .7 9.7 .7-10.6 .7-9.1 .7 11.6 .7-4.4 .7 2.8 .7 4.4 .7 0 .7-10.2 .7 2 .7 8.7 .7 3.7 .7 9.1 .7-6.4 .7-3.3 .7 1.4 .7 1 .7-.9 .7 2.4 .7 6.5 .7 6 .7-2.2 .7 6.8 .7 .9 .7 2.8 .7 1.2 .7 6.3 .7 .7 .7-12.3 .7 17.7 .7 .9 .7-2.3 .7 5.7 .7-3.3 .7 5.8 .7-4.2 .7 9.7 .7-.7 .7-8.5 .7 5.1 .7 8.6 .7-.5 .7-.5 .7-5.8 .7 3.4 .7 5.6 .7 1.7 .7-.7 .7-3.3 .7 4.3 .7-.4 .7-2.4 .7 1.5 .7 2.7 .7-2.5 .7 12 .7 3 .7 2 .7-7.4 .7 1.9 .7 7.1 .7-1.9 .7 2.8 .7 2 .7-4.8 .7 17.6 .7-12.3 .7 1.4 .7 15 .7-8 .7 13.9 .7-1.8 .7 2.2 .7-1.9 .7-3.6 .7 3.1 .7 8.7 .7 .6 .7-4.4 .7 1.8 .7 2.9 .7 5.6 .7 4 .7 3.8 .7-5.5 .7 10.9 .7-2.7 .7 5.3 .7-11.5 .7 9 .7 3.8 .7-14.3 .7 15.5 .7-1.7 .7 3.7 .7-3 .7 6.2 .7-7.5 .7 .4 .7 7.5 .7 .9 .7-10.1 .7 14.5 .7 .7 .7 .1 .7-8.4 .7 11.5 .7-3.1 .7 3.1 .7-4.3 .7-1.2 .7-.6 .7 1.3 .7 8.9 .7-8.1 .7 1.5 .7 5.8 .7-2.5 .7-8.9 .7 8.1 .7 2.1 .7 11 .7-4.6 .7-8.4 .7-.3 .7 3.8 .7 3.8 .7-5.2 .7 6.7 .7-9.7 .7 9.4 .7 4.7 .7-20.4 .7 14.1 .7 1.6 .7 1.1 .7-1.8 .7-.8 .7 2 .7-.9 .7 0 .7 7.9 .7-2.8 .7-.5 .7-8.2 .7 .8 .7 8.3 .7-11.1 .7 11 .7-12.5 .7 18.6 .7-4.6 .7-9.4 .7 .6 .7-8.3 .7 10.7 .7 6.8 .7-2.9 .7-4.4 .7 12.5 .7-7.7 .7-.4 .7-3.4 .7 5 .7 11.3 .7-11.1 .7-10.8 .7 10.5 .7 9.5 .7-3.3 .7-8.5 .7 5.1 .7-9.1 .7 11.8 .7-7.4 .7 2.4 .7 .4 .7-.1 .7 13.4 .7-.6 .7-8.7 .7 2.6 .7 9.1 .7-9.9 .7-.3 .7-1.6 .7 13.4 .7-6.9 .7-.3 .7-1.7 .7-1.9 .7 10.5 .7-8.5 .7 2 .7-5.5 .7 3.8 .7 3.8 .7 .8 .7-4.8 .7 5.5 .7 3.2 .7-12.6 .7 17.7 .7-3.9 .7-5.1 .7 6.3 .7 4.3 .7-1.8 .7 .7 .7 .3 .7 3.8 .7-10.3 .7 4.4 .7 5.5 .7-1.6 .7-5.6 .7 4.5 .7-2 .7 4.1 .7-8.7 .7 .5 .7 1.2 .7 7.2 .7 14.1 .7-7.7 .7 1.5 .7-6.2 .7 8.6 .7-6.4 .7-1.3 .7 5.6 .7-12.1 .7-5 .7 5.5 .7 14 .7-2.6 .7-3.6 .7-2.1 .7 .4 .7 3.1 .7-6.5 .7 8.7 .7-9.2 .7 12.4 .7-8.9 .7-3.1 .7 3.4 .7-3.4 .7 4.3 .7-9 .7 7 .7 3 .7 1.6 .7-4.2 .7 8.5 .7-15.6 .7 7.8 .7-1.5 .7 2.5 .7-1.5 .7 8.7 .7-7.5 .7-5.1 .7 18.2 .7-13.2 .7-1.2 .7 5.5 .7-8.1 .7 1.9 .7 5.7 .7-11.1 .7 3.8 .7 7.4 .7 4.5 .7-10.2 .7-.2 .7 6.3 .7-13.8 .7 4.1 .7-.6 .7-6.8 .7-4.6 .7 13.3 .7 7 .7-1.4 .7 3.2 .7-21.4 .7 13.9 .7 7.9 .7-11.8 .7-2.3 .7 8.8 .7-1.8 .7 3.4 .7-3.5 .7 6.7 .7-2.9 .7-2.4 .7-3.4 .7 5.8 .7-7.3 .7 8.7 .7 1 .7-1.1 .7-11.9 .7 9.2 .7-.3 .7 2.7 .7-13.1 .7 5.2 .7 2.8 .7 7.9 .7-10.7 .7 8 .7-4 .7 9.6 .7-8.7 .7-10.4 .7 7.2 .7 2.9 .7 5.4 .7-3.2 .7-5.1 .7-5.3 .7 7 .7-.8 .7 7.7 .7-2.2 .7-12.6 .7-5.1 .7 10.1 .7 3.5 .7-6.9 .7 2.2 .7 9 .7-2.8 .7-13.5 .7 10.8 .7-1.3 .7-2.4 .7 3.8 .7-.3 .7 9.9 .7-12.6 .7-5.6 .7 .9 .7 6.1 .7 6.1 .7-7.5 .7-.8 .7-1.9 .7-4.2 .7 2.4 .7-7.3 .7 10.1 .7-1.8 .7-1.9 .7-5.9 .7 2.9 .7-2 .7 4.4 .7-3.4 .7 3.3 .7 2.9 .7 1.6 .7-12.5 .7 3.7 .7-4.2 .7 12.6 .7-11.3 .7 12.1 .7-9.7 .7 8.7 .7-7.9 .7 2.3 .7 2.6 .7 .5 .7-.4 .7 5.2 .7 3.7 .7-.9 .7-6.4 .7-6.6 .7 11.3 .7-15.1 .7 19.5 .7 .3 .7-9.5 .7 10.1 .7-6.5 .7 10.4 .7-11 .7-.4 .7 .9 .7 4.8 .7-7 .7 17.6 .7-14.3 .7 11.3 .7-11.1 .7-.4 .7-2.2 .7-.5 .7 6.3 .7 3.9 .7-6 .7-5.5 .7 5.8 .7-5.6 .7-10.3 .7 15 .7-10.1 .7 5.9 .7 3.7 .7-2.5 .7 .8 .7 9.9 .7-3 .7 3.3 .7-6.7 .7 .4 .7 8.7 .7-12.4 .7 5.7 .7-.6 .7 1.5 .7 2.2 .7-1.9 .7 4.4 .7-8.3 .7 7.9 .7-7.6 .7 12.1 .7 .2 .7-5.7 .7-1 .7 3.3 .7 3.8 .7-10.5 .7 3.3 .7 11 .7-5.6 .7-5.3 .7-4.6 .7 10 .7-6.7 .7 10.4 .7-.9 .7 10.4 .7-16.4 .7 10.1 .7-9.8 .7 .8 .7 4.4 .7-3.4 .7 14.2 .7-10.1 .7-3.8 .7 16.3 .7-16.7 .7 2.2 .7 .8 .7-3.1 .7 7.3 .7 3 .7-13.4 .7 4.2 .7 .5 .7-5.6 .7 .4 .7 4.9 .7-2.9 .7 6.4 .7 2.6 .7-3.5 .7 .4 .7-6.5 .7 1.6 .7 5.2 .7 .9 .7-3.6 .7 3.3 .7-4.3 .7-5 .7 7.8 .7-3.9 .7-6.9 .7 13.5 .7-2.4 .7 1.8 .7-6.4 .7 10.4 .7-5.3 .7 2.6 .7-8.6 .7 1.8 .7 8.5 .7-6.9 .7 .3 .7 7.8 .7-1.7 .7-4.9 .7 8.9 .7-17.9 .7 7.6 .7-2.5 .7 10.8 .7 .6 .7-10.8 .7 3.3 .7 4.3 .7-2.1 .7-1.3 .7 4 .7 5.1 .7-9.6 .7-6.4 .7 5.4 .7 .5 .7-1.7 .7 5.7 .7 .3 .7 1 .7-2.1 .7-1.1 .7-6.6 .7 3.7 .7-2.6 .7 6.3 .7-2.2 .7 .5 .7 3.1 .7-4.1 .7 7.3 .7 .1 .7-10.3 .7 12.1 .7-8.4 .7-1.8 .7 2.5 .7-4.8 .7 8.8 .7 4.9 .7-14 .7 10.6 .7 1.1 .7 .8 .7 .3 .7-.7 .7-4.3 .7 7.5 .7-2.5 .7 2.8 .7-2.1 .7-2.6 .7 1.6 .7 3.8 .7 2.7 .7-15 .7 3.7 .7-1.4 .7 6.2 .7-.3 .7 5 .7-2.2 .7 8.9 .7-9.8 .7 0 .7-.2 .7 3.1 .7 2.8 .7-3 .7-1.9 .7-1.9 .7 8.5 .7-3.4 .7-1.9 .7 4.1 .7 3.6 .7 9.4 .7-1.8 .7-12.7 .7 2.7 .7-7.4 .7 .4 .7 1 .7 14.8 .7-5.1 .7-6.4 .7 4.6 .7 1.3 .7-.4 .7 11.6 .7-17.4 .7 8.2 .7 4.1 .7 1.6 .7-13.4 .7 12.8 .7-7.2 .7 4 .7-4.9 .7 12.8 .7 12.7 .7-10.6 .7-6.4 .7-7.3 .7 14.2 .7 2.1 .7-11.6 .7 11 .7-13.9 .7 3.1 .7 7.8 .7-7.6 .7 11.6 .7 4 .7-6.8 .7 2.7 .7 6.2 .7-5.3 .7 4.6 .7 1 .7-12.5 .7 17.3 .7-4.8 .7-5 .7 3.9 .7-2.3 .7 0 .7-6.1 .7 3.5 .7 .8 .7 7.8 .7-2.8 .7-.1 .7-2.3 .7 7.5 .7-19.1 .7 8.4 .7 10.1 .7-6.9 .7 5.8 .7 5.3 .7-3.9 .7-11.6 .7 6.8 .7-4.6 .7 8.7 .7 3.2 .7-6.5 .7 4.1 .7-3.5 .7 11.3 .7-9.2 .7 .7 .7 1.9 .7 2.8 .7-1.7 .7-3.6 .7 .6 .7 2.5 .7 .6 .7-4.9 .7-.9 .7 1.9 .7 3.8 .7-4.6 .7-3.1 .7 4 .7-.7 .7 5.9 .7-5.7 .7 .7 .7 12 .7-7.3 .7-7.1 .7 11.3 .7-8.1 .7-2.2 .7 7.7 .7-10.6 .7 7.1 .7 3.4 .7 1.1 .7-6.6 .7 .3 .7 2.2 .7 6.9 .7-15.6 .7 13.7 .7-2.6 .7 5.7 .7-12.9 .7 11.9 .7-10.4 .7 6.2 .7-3.6 .7-10.7 .7 12.6 .7 2.4 .7 2.6 .7-7.7 .7-2.8 .7 9.9 .7-5.5 .7 7.4 .7 2 .7-8.6 .7 .4 .7-2.8 .7-6.7 .7 10.6 .7 3.9 .7 1.8 .7-5.6 .7 9.8 .7-12.3 .7 2.7 .7-2.7 .7 .6 .7 1 .7-2.1 .7 1.4 .7 3.8 .7-.9 .7-5.9 .7 8.1 .7-6.8 .7 6.7 .7-1.9 .7-10.4 .7 4.7 .7 10.5 .7-8.3 .7 0 .7 1.2 .7 2.9 .7 2.5 .7-4.5 .7 10.5 .7-11.8 .7 .6 .7 1.5 .7 1.9 .7 6.9 .7 4.7 .7-14 .7 .9 .7 4.3 .7-3.9 .7 5.2 .7-10 .7 10.1 .7-15.9 .7 14.3 .7 .8 .7 9.6 .7-17.7 .7 8.5 .7-.2 .7-8.3 .7 6.4 .7-5.7 .7-1.6 .7-1.7 .7 6.9 .7-4.3 .7-5.3 .7 12.5 .7-10.4 .7 12.8 .7-2.2 .7-5.5 .7-3.8 .7 3.7 .7-2.1 .7 5.3 .7 .3 .7 15.3 .7-23.9 .7 8.2 .7 6.4 .7 2.7 .7 2 .7-12 .7 9.7 .7-19.2 .7 14.4 .7 6.1 .7-.5 .7-10.9 .7 3.4 .7-6.7 .7 7.8 .7-3 .7 9.1 .7-5.1 .7 7.5 .7-3.4 .7-.9 .7 11.5 .7-2.8 .7-13 .7 14.7 .7-3 .7 3.3 .7-4.3 .7-11.8 .7 7.9 .7-10.7 .7 5.8 .7 4 .7 10.7 .7-6.3 .7 1.2 .7 3.1 .7-8.5 .7 11 .7-4.5 .7-6.1 .7 2.3 .7 2.1 .7 4.8 .7 4.6 .7-9 .7 .7 .7 11.1 .7 7.7 .7-7.2 .7-8.4 .7-2.7 .7 5.8 .7-1.8 .7-5.6 .7 11.8 .7 6.6 .7-17.9 .7 .5 .7 1.8 .7-3.9 .7 11.4 .7-11.8" stroke="#00f" class="cv"/>
<path d="M144.5 2538.0l.7 52.5 .7 31.3 .7 5.1 .7 18.8 .7 6.5 .7 6.9 .7 .3 .7-2.9 .7 11 .7 2.7 .7 1.1 .7-10.2 .7 8 .7-6.8 .7 5 .7 6 .7-10.9 .7 23.7 .7-7.5 .7-9.9 .7 1.9 .7 3.5 .7 .4 .7-5 .7 6.6 .7-6.9 .7 5.7 .7 13.7 .7-9.5 .7-1.1 .7 11.1 .7-6.2 .7 2.1 .7-6 .7 9.4 .7-7.3 .7 6.9 .7-.9 .7 6.2 .7-3.6 .7-5.1 .7-5.4 .7 4.5 .7-1.8 .7 12.3 .7-10.4 .7-9.8 .7 14.8 .7 2.6 .7-9.1 .7 9.1 .7-10.8 .7 8.7 .7-1.9 .7 2.8 .7 .8 .7-5.8 .7 8.3 .7-6.9 .7 3.6 .7 7.2 .7-12.5 .7 5.6 .7 8.5 .7-1.7 .7-10.4 .7 .6 .7 6.5 .7-6.4 .7 4.2 .7-7.6 .7 11.1 .7-12.1 .7 9.7 .7 3.3 .7-7.3 .7-4.7 .7 1.8 .7-3.4 .7 20.4 .7-20.1 .7 3.6 .7 8.9 .7-1.4 .7 5.5 .7 1.6 .7-4.7 .7-2.8 .7-2.8 .7 2 .7 5.8 .7-2.2 .7-.4 .7-13.3 .7 4.3 .7-.4 .7-.1 .7-3.7 .7 8.5 .7 1 .7 3.1 .7-13.9 .7 1.2 .7-.1 .7-1.7 .7-5.7 .7 7.9 .7-16.6 .7 7.4 .7-9 .7 12.6 .7-12.5 .7-.3 .7 4.6 .7-7.3 .7 5.3 .7-5.4 .7 11 .7-19.3 .7 .3 .7 5.7 .7-4.3 .7 0 .7-5.7 .7 5.2 .7-4.8 .7 4 .7-16 .7 7.8 .7-3.5 .7 2.7 .7-7.9 .7 9.4 .7-11.8 .7 12.3 .7-1.5 .7-12.5 .7 12.7 .7-12.1 .7 14.6 .7-11 .7 9.4 .7 0 .7-6.3 .7-.1 .7 14.2 .7-4.2 .7 9.9 .7-4.9 .7 16.7 .7-13 .7 9.9 .7-6.6 .7-.4 .7 3.5 .7-6.2 .7 1.5 .7 13.4 .7-9.6 .7-4.6 .7 9.8 .7-6.8 .7 5.7 .7 6.5 .7 1.6 .7 3.5 .7-2.9 .7-2.2 .7 0 .7-.8 .7-1.3 .7 13.3 .7-12.5 .7 10.2 .7-9.5 .7 7.8 .7-22.1 .7 16.9 .7-4 .7 12.3 .7-.2 .7-11.7 .7 3.1 .7 5.5 .7-3.4 .7-1.3 .7 4.8 .7-12.8 .7 15.9 .7-6.6 .7-18.7 .7 10.6 .7 4.3 .7 12.6 .7-12.9 .7-8.6 .7 15.4 .7-5.7 .7-2.7 .7 5.4 .7-8.4 .7 1.1 .7 5.7 .7-3.6 .7 2.5 .7-7.8 .7 10.8 .7-17.6 .7-.2 .7 9.9 .7-4.9 .7 2.4 .7-1.3 .7-1.4 .7-5.4 .7 7.2 .7 5.2 .7-12.2 .7 14.7 .7-2.1 .7-13.7 .7 8.8 .7-10.8 .7 5 .7-5.6 .7 2.7 .7-7.6 .7 9 .7-5.2 .7 .5 .7-6.3 .7 10.8 .7 9.9 .7-12.8 .7 .8 .7-5.7 .7 3.3 .7-2.5 .7-4.2 .7 3.3 .7 1.7 .7 4.2 .7-3.9 .7 3 .7 5.2 .7-2.4 .7-7.8 .7-7.8 .7 8.3 .7 1.1 .7 4.6 .7-5.1 .7 14.2 .7-17.6 .7 5 .7-9.1 .7-.9 .7 3.5 .7 2.3 .7 2.2 .7-21.6 .7 23.1 .7 1.6 .7-1.2 .7-3.3 .7-5.8 .7 3.3 .7 3.6 .7-12.9 .7 8.5 .7-1.3 .7-4 .7 10.1 .7-14.1 .7-2.1 .7 4.7 .7-3.7 .7 10.4 .7-17 .7 1.4 .7 8.5 .7 1.9 .7-11.1 .7 13.2 .7-18.1 .7 15.7 .7-11 .7 1.8 .7 12.1 .7-10.7 .7-3.7 .7 4.4 .7 8.6 .7-10.5 .7-5 .7 4.9 .7-8.4 .7 2.5 .7 .2 .7 6.2 .7-6.7 .7 4.9 .7 3.2 .7 1.9 .7-18.5 .7 8.5 .7-6.5 .7 9.4 .7-2.7 .7-1.9 .7-3.4 .7-2.8 .7-4.6 .7 14.1 .7-6.9 .7 .8 .7 1 .7 2.1 .7 5.4 .7-11.9 .7 4 .7-13.1 .7 6.2 .7-2.3 .7-.2 .7 9.1 .7-6.4 .7-1 .7-.7 .7-2.4 .7-.8 .7-3.1 .7-.2 .7-.3 .7 .6 .7-10.2 .7 9.8 .7-1.4 .7 1.7 .7-9.3 .7 .2 .7 8.7 .7-9.1 .7 5.8 .7-7.1 .7-3.6 .7-2.1 .7 4 .7 .1 .7-4.7 .7 13.9 .7-8.1 .7-5.4 .7 12.5 .7-4 .7-8.9 .7-1.7 .7 4.3 .7 4.7 .7-11.8 .7 13.7 .7-8.6 .7 6.5 .7-5.5 .7 3.3 .7 .7 .7 3.4 .7-11.1 .7 14.1 .7-17.4 .7 8.5 .7 1.9 .7-3.7 .7 4.6 .7-13.7 .7 8.4 .7 5.5 .7-5.5 .7-6.2 .7 6.7 .7 0 .7-6.6 .7 12.4 .7-10.3 .7-2.9 .7 5.9 .7-4.4 .7 2.3 .7 2 .7-4 .7 5 .7-2.3 .7 4.2 .7-12.8 .7 4.8 .7 0 .7-1 .7-14.1 .7 4.4 .7 6.3 .7 .1 .7-4.2 .7-.5 .7 4.4 .7-9.8 .7-3.5 .7 11.1 .7-5.9 .7-5.3 .7-4 .7 11.7 .7-11 .7-3.6 .7 10.7 .7-15.4 .7 6.9 .7 4 .7-4.9 .7-1.2 .7 5.4 .7-8.6 .7 5.8 .7 5.6 .7-9.2 .7 14.1 .7-7.9 .7 1.5 .7-1.4 .7 6.6 .7-4.8 .7 4.7 .7 6.5 .7 .9 .7-14.1 .7 16.4 .7-9.1 .7 5.1 .7-.3 .7 1.7 .7-4.1 .7 7 .7 2.9 .7-8.2 .7 3.3 .7 4.8 .7 1.5 .7-4 .7-.4 .7 1 .7-4.6 .7 3.4 .7-3.6 .7-.6 .7-11.2 .7 2.6 .7 11.3 .7 1.6 .7-2 .7-2.3 .7-2.6 .7 4.2 .7-5.7 .7 1.7 .7 7.7 .7-16.1 .7 3.9 .7 1.5 .7-9.5 .7 3.6 .7 11.9 .7-3.2 .7-3.8 .7 7.6 .7-12.6 .7 15.5 .7-10.8 .7-3.1 .7 9 .7-3.1 .7-1.9 .7-1.8 .7-9.3 .7-1.6 .7 11.1 .7 5.1 .7-9.6 .7 4.6 .7-9.1 .7 .2 .7 7.6 .7 3.9 .7 0 .7 2.2 .7-11.1 .7 2.9 .7 4.7 .7-10.4 .7 3.2 .7 .9 .7-.9 .7 4 .7-3.4 .7-5.7 .7-11.3 .7 15.8 .7 0 .7-3.9 .7-2 .7-.8 .7 2.8 .7-10.6 .7 1.1 .7-6.4 .7 2.8 .7-4.7 .7-1.3 .7-7.8 .7 8.9 .7 4.6 .7-23.2 .7 21.8 .7-8.4 .7-4.9 .7 4.1 .7-4.3 .7-.4 .7 6.8 .7-8.1 .7-.2 .7-4.8 .7-.9 .7-5.3 .7 2.8 .7-4.9 .7 8.9 .7-8.8 .7 3.7 .7 1.6 .7-3 .7-10.7 .7 11.3 .7-20.9 .7 16.5 .7-23 .7 7.2 .7 3 .7-5.1 .7-9.2 .7 1.8 .7 7.8 .7-12.3 .7 11.1 .7 1.1 .7-.6 .7-7.6 .7-3.3 .7-3.6 .7 15.3 .7-10.1 .7-4.8 .7-3.3 .7 2.3 .7-18 .7 13.3 .7-9.6 .7-11.2 .7 16.7 .7-12 .7 4.6 .7-8.2 .7-.1 .7 8.9 .7-9 .7-1.7 .7-12.8 .7 11.3 .7-10.6 .7 3.7 .7-10.4 .7 5.2 .7-1.5 .7-13.6 .7 6.9 .7-9.4 .7 8.6 .7-7.8 .7-4.9 .7 13.1 .7-15.3 .7-9.8 .7 3.5 .7-6.5 .7 2.5 .7-16.1 .7 12.4 .7-17.7 .7-3.8 .7-6.5 .7-2 .7 8.1 .7-12.5 .7-9 .7 4.1 .7 2.2 .7 4.1 .7-6.4 .7 3.4 .7 15.8 .7-15.7 .7 2.5 .7-5.9 .7 13 .7-6.2 .7 14 .7-1.8 .7-.6 .7-5.4 .7 2.5 .7 1.5 .7 4.2 .7-.7 .7 .6 .7 5.2 .7 1.4 .7 .3 .7 9.4 .7 3.2 .7-6 .7 17.3 .7-6.9 .7 7.4 .7 6.2 .7-15.3 .7 13 .7 4.7 .7 3.8 .7-.1 .7 3.1 .7-12 .7 4.4 .7 9.6 .7-12.9 .7 9.4 .7 3.3 .7 4.2 .7 4.1 .7-2.5 .7-4.9 .7 .2 .7 8.2 .7 1.5 .7-.7 .7-1.1 .7-.1 .7-8.4 .7 7 .7 3.7 .7-11 .7 7.5 .7 .3 .7 7.7 .7-14.4 .7-2.5 .7-6.8 .7-1 .7-4.6 .7-2.8 .7 11.6 .7-6.7 .7-2 .7-14.9 .7-7.6 .7-4.6 .7 12 .7-9.5 .7-20.7 .7 .4 .7-7.2 .7-13.9 .7-5.7 .7 1.2 .7-8.4 .7-5.8 .7-9.5 .7-6.9 .7-3 .7-8.3 .7 5.5 .7-12.4 .7-2.6 .7-7.6 .7-7.2 .7-.6 .7-5.4 .7-6.4 .7 5.1 .7 2.8 .7-12.8 .7-5.7 .7-6.8 .7-7.8 .7 7.3 .7-4.3 .7-11.5 .7 .8 .7-8.8 .7 9 .7-10 .7-.5 .7 5.3 .7-22.1 .7 14.4 .7 .1 .7-1.7 .7 3.6 .7 9 .7-7.7 .7 3.1 .7 16.3 .7-.4 .7 .8 .7 5.4 .7-.2 .7 1.6 .7 4.4 .7 5.8 .7-1.1 .7-3.3 .7 10.8 .7 5.6 .7 1 .7 7.7 .7 1.3 .7 6.9 .7-1.3 .7 1.4 .7 6.9 .7 4.3 .7-4.8 .7-.2 .7 13.5 .7-8.7 .7 6 .7-3.6 .7 4.7 .7 7.1 .7 2.3 .7-15.5 .7 0 .7-9.6 .7 22.1 .7 6.1 .7-6.1 .7-1.9 .7 7.3 .7-8 .7 10.4 .7 5.7 .7 1.6 .7-.5 .7-4.1 .7 3.7 .7-.4 .7 17.8 .7-.3 .7-4.1 .7 3 .7 4.7 .7-1.9 .7 9.6 .7 3.4 .7 3.4 .7 1.9 .7-9.7 .7 16.7 .7-2.2 .7 2.8 .7 25.5 .7-10.5 .7 5.9 .7 3.4 .7 .9 .7 17 .7-15.3 .7 15.6 .7-3.1 .7 12.3 .7-.2 .7-2.1 .7-6.5 .7 14.3 .7 3 .7 .2 .7-3.3 .7 6.7 .7-5.9 .7 7.1 .7 2.1 .7-1.9 .7-3 .7 5.2 .7-2.7 .7-1.1 .7 12.6 .7-6.2 .7-2 .7 0 .7 5.1 .7-4.2 .7-2.1 .7 5.1 .7-.8 .7-5.8 .7-1 .7 12.7 .7-8.8 .7 7.9 .7-3.5 .7-3.8 .7-1.1 .7 10 .7-12.5 .7 1.2 .7-2.5 .7 3.5 .7-4.4 .7 5.5 .7-7.5 .7 9.5 .7-1.1 .7-.7 .7-4.5 .7 10.2 .7 4 .7-11.6 .7-3.3 .7 7.8 .7-4.4 .7 2.2 .7 3 .7-10.5 .7 11.7 .7-9.1 .7-.7 .7 5.2 .7 10.5 .7-10.8 .7 6.5 .7-7 .7 9 .7-1 .7 5.1 .7-4.6 .7-.3 .7-9.6 .7 12.5 .7 3.2 .7-2.5 .7 .5 .7 2.7 .7 2.2 .7-8.9 .7 5.1 .7 3.5 .7-.2 .7-5.8 .7-4.7 .7 13.3 .7 3.1 .7 6 .7-5.8 .7-6.1 .7 8.1 .7-2.1 .7-2.2 .7-3.1 .7-1.2 .7 7 .7 2.5 .7 3.4 .7 .7 .7 2 .7 9.9 .7-9.9 .7 8.5 .7-11 .7 .9 .7 1.7 .7-6.3 .7 19.3 .7-7.1 .7 3.1 .7 6.1 .7-6.4 .7 7 .7-21.1 .7 20.3 .7-4.8 .7-4.1 .7 9.4 .7-5.3 .7-3.5 .7-6.3 .7 20.6 .7-23.5 .7 14.9 .7 8.5 .7-4.9 .7-6.8 .7 2.1 .7-1.9 .7 4.7 .7-1.9 .7-6.8 .7-1.4 .7 13.8 .7-13.7 .7 .1 .7 18.1 .7-18 .7-3.6 .7 1 .7 8.5 .7-9.3 .7 2.2 .7-13 .7 8 .7 2.4 .7-1.2 .7 6.5 .7-6.5 .7-19.8 .7 5.6 .7 2.8 .7 2 .7 .6 .7 2 .7-14 .7-4.4 .7 15.1 .7-11.4 .7-9 .7 6 .7 1.1 .7-6 .7-1.6 .7 10.2 .7-13.5 .7 5.9 .7-2.3 .7-5 .7 13.1 .7-22.3 .7 19.8 .7-21.2 .7 2.1 .7 1.4 .7 2.8 .7-3.8 .7-7.4 .7-1.6 .7 6.8 .7 .3 .7-13 .7 8.1 .7-5.2 .7-3.3 .7-9.1 .7-2.4 .7 7.8 .7-19.2 .7 11 .7 3.6 .7-13 .7 16.6 .7-1.2 .7-16.4 .7 3.9 .7-1.4 .7-3.6 .7-1.1 .7 4 .7 5 .7-10.2 .7-1.3 .7-1.4 .7-6 .7 5.7 .7-7.6 .7-4.1 .7 7.6 .7-15.1 .7 6.2 .7-.5 .7 .4 .7-8.6 .7 2.5 .7 3.7 .7 3.7 .7-4.3 .7-.7 .7-3.4 .7 4.8 .7-15.3 .7 19.1 .7 2 .7-5.1 .7-4.9 .7 13.1 .7-10.6 .7 11.7 .7-8.3 .7-2.1 .7 3.6 .7-1.9 .7 3.5 .7 4.4 .7-3.4 .7-.3 .7 3.2 .7 3 .7-1.3 .7 3.8 .7 1.1 .7-.8 .7 3.2 .7-3 .7 7.1 .7-3 .7 3.4 .7-4.4 .7-5.3 .7 6.7 .7 4.2 .7 3.3 .7-.5 .7 9.9 .7-13.4 .7-.7 .7 10.5 .7-.9 .7 5.8 .7 5.3 .7 13 .7-20 .7 3.2 .7 7.4 .7-5.9 .7 5.7 .7 12.8 .7-5.6 .7 1.9 .7 7.7 .7-13.8 .7 11.4 .7 .5 .7 3.2 .7-5.4 .7 4.4 .7 3.2 .7 5.9 .7-6.6 .7 8.6 .7-13.4 .7 15.1 .7 3.2 .7-7.8 .7 4.7 .7 2.9 .7 3 .7 6.3 .7-4.1 .7-.8 .7 1.5 .7 4 .7 4.2 .7-1.3 .7-2.8 .7 2.7 .7-.9 .7 1.3 .7 3.7 .7 1.3 .7 9.1 .7-8.7 .7 8.7 .7-4.8 .7 12.5 .7-.6 .7 7.1 .7-1.8 .7-6.4 .7 7.7 .7-1.6 .7 2.6 .7-.7 .7 5.8 .7 4 .7 2.6 .7 14 .7-12.3 .7 3.1 .7 .7 .7 .8 .7 1.4 .7 3.4 .7 .1 .7 6.4 .7-.3 .7-5.8 .7 6 .7 2.9 .7-1.9 .7 1.6 .7 2 .7 5 .7-1 .7-2.6 .7 3.9 .7 8 .7-10.4 .7 9.6 .7-3.7 .7 22 .7-15.3 .7-2.1 .7 0 .7-6.7 .7 6 .7 14 .7-8.2 .7-3 .7 1.8 .7 .5 .7-5.1 .7 5.6 .7 2.1 .7-10.5 .7 6.5 .7-13.2 .7 5.4 .7 13.2 .7 2 .7 3.3 .7-16.7 .7 6.2 .7-1.4 .7 7.2 .7-4 .7-1.4 .7 2.6 .7-5.7 .7 7.4 .7-7 .7 7.4 .7-4.9 .7 .1 .7-7.3 .7-2.2 .7-.3 .7 10.7 .7-13.9 .7 18.3 .7-8.9 .7-5.4 .7 8.8 .7-8.4 .7 6.7 .7-1.7 .7 7.7 .7-1.5 .7 .3 .7-7 .7 9.3 .7-6.5 .7 1.4 .7 2.3 .7-.2 .7-7.8 .7 11.1 .7-10.9 .7 11.6 .7-2 .7 1.7 .7-5.2 .7 11.8 .7-5.1 .7 6.2 .7-7.3 .7 .9 .7 5 .7 5.9 .7-11.4 .7 4.7 .7 1.2 .7 1.9 .7-.3 .7 8.8 .7-1.1 .7-2.8 .7 5.2 .7 1.8 .7-7.7 .7 .3 .7 8.4 .7 8.4 .7-22.6 .7 10.1 .7 8.3 .7-7.4 .7 9.7 .7-2.5 .7-6.8 .7 5 .7 5.2 .7-5.8 .7 8.6 .7-.7 .7-2.5 .7 4.3 .7-3.3 .7 3.6 .7-5.8 .7 13.1 .7-8.3 .7 7.8 .7 5.5 .7-2.8 .7-8.2 .7 1 .7-1 .7 1.9 .7-6 .7-5.2 .7 11.2 .7-1.4 .7 7.8 .7 1.4 .7-16.6 .7 2.3 .7 8.9 .7 2.1 .7-5.5 .7-.4 .7-10 .7 21.7 .7-15.6 .7 6.6 .7-1.2 .7-6.5 .7 9.2 .7 3.2 .7-7.9 .7 1 .7 2.7 .7 1.7 .7-.6 .7-9.2 .7-.3 .7 2 .7-11.2 .7 7.2 .7 5.9 .7-2.5 .7-.9 .7 9.1 .7-2.9 .7 2.5 .7-5.2 .7-1.3 .7-2.3 .7 5.8 .7-10.8 .7 4.9 .7 7.7 .7 1.4 .7-4.8 .7-5.7 .7 9 .7-6.8 .7 3.2 .7-4.5 .7 14.7 .7-1.7 .7-12.3 .7-1.7 .7 5.8 .7 3.6 .7 3.3 .7-6.9 .7-6.2 .7 8.1 .7-.2 .7-9.7 .7 6.9 .7-.1 .7-3.6 .7 6.3 .7 4.3 .7-.2 .7-10 .7 1.6 .7 6.7 .7-5.3 .7-.1 .7 13.4 .7-25.1 .7 10.1 .7-1 .7 4.1 .7 9.3 .7-9.8 .7-.7 .7 2.3 .7-2.5 .7 3.6 .7 11.3 .7-17 .7 2.5 .7 .6 .7-10.7 .7 14.2 .7-3.6 .7-10 .7 8.8 .7 2.2 .7-5.6 .7 10.3 .7-8.9 .7-4.8 .7 12 .7-5 .7 1.4 .7-9.3 .7 1.1 .7 1.9 .7 4.4 .7 0 .7 7.8 .7 .8 .7-7.5 .7-1.3 .7 10.3 .7-9.7 .7 4.9 .7-8 .7 1.9 .7-1 .7-2.3 .7 5.5 .7-6.5 .7 3.7 .7 2.6 .7 8.7 .7-21.2 .7 10.1 .7 2.8 .7-5.5 .7 6.1 .7-2.1 .7-.5 .7-5.1 .7 .7 .7-.4 .7-4.4 .7 5.8 .7-6.9 .7 .3 .7-2.7 .7 12.7 .7-9.1 .7-2.1 .7 8.5 .7-6.7 .7 3.6 .7-3 .7 2.6 .7-1.2 .7-12.6 .7 18.9 .7-2.6 .7-13.1 .7 12.2 .7-6 .7 1.7 .7 6.1 .7-1.5 .7 .1 .7 5.7 .7-4.4 .7-8.4 .7-3 .7 11.7 .7-12.7 .7 7.8 .7 .7 .7-1 .7 11.5 .7-4.7 .7-2.1 .7 6.5 .7-6.2 .7 9 .7 4.9 .7-11 .7 .1 .7 7.1 .7-16.3 .7 3.7 .7 1 .7-3.2 .7 8.2 .7 1.2 .7-2 .7-.4 .7 4.6 .7 .4 .7 .4 .7-7.6 .7 .4 .7 7.2 .7-5.9 .7 4.4 .7-9.7 .7 2.1 .7-3.3 .7 3.1 .7 2.3 .7-4.4 .7 13 .7-17.4 .7 13.2 .7-9.3 .7 8.4 .7-4.4 .7 5.8 .7 1.3 .7-3.1 .7-.8 .7 4 .7 5.2 .7 5.4 .7 5.3 .7-16.4 .7 12.3 .7-4.2 .7 3 .7 1.9 .7 2.6 .7-1.9 .7-2.1 .7 8.4 .7-6.5 .7-1.4 .7 6.1 .7-11.8 .7 1.2 .7 12.6 .7-8.5 .7-8.2 .7 13.6 .7 2.2 .7-10.2 .7-2.7 .7 6.6 .7 2.2 .7-4.9 .7-1.5 .7 7.5 .7 .1 .7-11 .7 2.6 .7 4.1 .7-1.5 .7 4.4 .7 1.6 .7 7.1 .7-7.8 .7 3 .7-12.9 .7 4.5 .7 9.2 .7-13.1 .7 14.6 .7-4.1 .7-2.2 .7-1.3 .7-5.5 .7 .4 .7 2.8 .7 .4 .7 8.5 .7-11.9 .7 1.8 .7-6 .7 9.6 .7-1.2 .7 5.4 .7 3.9 .7-7.5 .7-7.6 .7 5.2 .7-.1 .7-2.2 .7-5.7 .7 7.1 .7-8.5 .7 5.5 .7-1.5 .7-12.2 .7 16.3 .7 7.6 .7-13.3 .7-1.5 .7 7.8 .7-11.8 .7 6.8 .7 1 .7-4.2 .7 2.5 .7-4 .7 1.4 .7 6.5 .7-7.9 .7 1.7 .7-.6 .7 6.4 .7-4.4 .7-2.3 .7 6.3 .7-12 .7 .8 .7 11.6 .7 8.4 .7-12 .7 4.6 .7-8.7 .7 8.1 .7 .7 .7 2.3 .7-6.5 .7 14.2 .7-14.7 .7 13.2 .7-13.1 .7 10 .7 3.3 .7 4.7 .7-11.6 .7-7.6 .7 13.4 .7-7.7 .7-1.5 .7 2.9 .7-1.3 .7 9.1 .7-2.6 .7 3 .7 1.3 .7-6.1 .7 6.1 .7 3.1 .7 3.7 .7-8.4 .7-1.8 .7-3.2 .7 3.2 .7 2.5 .7 1.6 .7-7.9 .7 5.4 .7 1.5 .7-1.6 .7 .4 .7 5.5 .7-6.3 .7 8 .7-7.5 .7 7.3 .7-6.3 .7 12.5 .7-1.7 .7 3.7 .7-10.7 .7-1.9 .7 .5 .7 6.3 .7 7.3 .7-1.2 .7 .4 .7-9.4 .7 12.7 .7-1.3 .7-6.1 .7-9.9 .7 9.6 .7 4 .7 9.4 .7-6.7 .7-1 .7 9 .7 .3 .7-5.8 .7 1.6 .7 3.6 .7-10 .7 6.1 .7-4.1 .7-2.6 .7 7.9 .7 3.3 .7 4.2 .7-5.5 .7 2 .7-6.7 .7-6.8 .7 4.7 .7 5.6 .7-5.1 .7 13.3 .7-3.5 .7-7.3 .7 10.2 .7-5.5 .7 5.3 .7-9.5 .7 5.2 .7-5.2 .7 1.4 .7 6.1 .7 4.1 .7-9.3 .7 1 .7-6 .7 3.6 .7 3.8 .7-9 .7 4.4 .7-3.5 .7 7.1 .7 3.7 .7-2.7 .7-3.1 .7-3.7 .7-3 .7 8.7 .7 8.1 .7-9.2 .7 1.3 .7-1.8 .7-3.4 .7 11.8 .7-1.7 .7-11.2 .7 1.5 .7 13.8 .7-11.4 .7 4.7 .7-4.9 .7 7.4 .7-5.5 .7 1.2 .7-2.4 .7 16.2 .7 3.9 .7-12.1 .7 2.6 .7-.2 .7-2.6 .7-.2 .7-1.1 .7 6.3 .7-10.2 .7 2.3 .7 8.5 .7-10.8 .7 16.2 .7-9.7 .7 2.7 .7 6.3 .7-6.9 .7 1.2 .7-3.5 .7 6.1 .7 1.2 .7-8 .7 8.3 .7 1.9 .7-2.4 .7-6.2 .7 9.2 .7 2.5 .7-9.5 .7-6.8 .7 6.2 .7 4.1 .7 7.1 .7-.3 .7-2.4 .7-6.7 .7 7.6 .7-3.7 .7-5.1 .7-3.8 .7 15 .7-13.6 .7 15.4 .7 5.6 .7-11.5 .7-4.4 .7 1.3 .7 .1 .7 5.8 .7 3.5 .7-9.1 .7 2.4 .7-1.5 .7 9.6 .7-.7 .7-9.5 .7 3 .7 2.6 .7-10.3 .7 6.7 .7 3.6 .7-8.1 .7 8.6 .7-.9 .7-3.2 .7 8.4 .7-10.5 .7 7.2 .7-3.6 .7 7 .7-10 .7 7.3 .7 0 .7 2.7 .7 2.4 .7-16.6 .7 7.5 .7-5.4 .7 10.8 .7 1.9 .7-8.9 .7 2.8 .7 5.5 .7-5.9 .7-1.9 .7-8.1 .7 4.8 .7 9 .7-13.2 .7 9.2 .7-.5 .7-1.3 .7 4.2 .7-8.2 .7 11.2 .7-9.7 .7 7.6 .7-8.5 .7 4.4 .7-3.2 .7 10.7 .7-14.5 .7 2.2 .7 11.1 .7-3.5 .7-4.4 .7-1.2 .7-5.3 .7 5.4 .7 3.4 .7 4.6 .7-1.4 .7 2.9 .7-5.6 .7-5.7 .7 2.1 .7 10.1 .7-7.4 .7 7 .7-15.7 .7 5.9 .7-1.5 .7 5.8 .7-5.4 .7-2.6 .7 6.8 .7-11.6 .7 9.2 .7 5.6 .7-8.2 .7 6 .7-4.2 .7 3 .7 3.3 .7 1.4 .7 0 .7-6.1 .7 12.3 .7-6.2 .7-5 .7 10.8 .7-9.1 .7 12.8 .7-5.8 .7-4.9 .7-1.8 .7-1.7 .7 .4 .7 2.9 .7 8.9 .7-6.1 .7-1.2 .7 2.9 .7-3.8 .7-4.8 .7-1.1 .7 15.8 .7-8.9 .7 10.3 .7 1.7 .7-8.4 .7 2.8 .7-5.9 .7 1.5 .7 1.3 .7-.3 .7 8.4 .7-8.4 .7 5.5 .7-3.9 .7 2.9 .7 6.7 .7-18 .7 14.9 .7-9.5 .7 4.7 .7-2.7 .7-.5 .7-4.6 .7-6.8 .7 26.2 .7-6.7 .7-5.7 .7-8.6 .7 14 .7 5.1 .7-5.9 .7-11.4 .7 6.7 .7 4.5 .7-1.6 .7 6.6 .7-11 .7 2 .7-9.8 .7 19.9" stroke="#f0f" class="cv"/>
<path d="M144 2538V2651" stroke="#c0c" class="ax"/>
<path d="M144 2651V2772" stroke="#00c" class="ax"/>
<path d="M144 2772V2896" stroke="#c00" class="ax"/>
<text x="168" y="131" class="pl">A</text>
<text x="1328" y="528.5" class="lb">ZY</text>
<text x="1328" y="647.5" class="lb">YZ</text>
<text x="1328" y="765.6" class="lb">RG</text>
<text x="1328" y="880.5" class="lb">LQ</text>
<text transform="translate(103 553.5) rotate(-90)" text-anchor="middle" class="yt">Relative intensity</text>
<text x="168" y="1180.3" class="pl">B</text>
<text x="1328" y="1575" class="lb">ZY</text>
<text x="1328" y="1683.7" class="lb">YZ</text>
<text x="1328" y="1821" class="lb">RG</text>
<text x="1328" y="1923.7" class="lb">LQ</text>
<text transform="translate(103 1603) rotate(-90)" text-anchor="middle" class="yt">Relative intensity</text>
<text x="168" y="2231" class="pl">C</text>
<text x="1328" y="2627.5" class="lb">ZY</text>
<text x="1328" y="2759.7" class="lb">YZ</text>
<text x="1328" y="2867.6" class="lb">RG</text>
<text x="1328" y="2984.6" class="lb">LQ</text>
<text transform="translate(103 2654) rotate(-90)" text-anchor="middle" class="yt">Relative intensity</text>
<text x="214.5" y="3223" text-anchor="middle" class="xl">5</text>
<text x="390.7" y="3223" text-anchor="middle" class="xl">10</text>
<text x="566.9" y="3223" text-anchor="middle" class="xl">15</text>
<text x="743.1" y="3223" text-anchor="middle" class="xl">20</text>
<text x="919.3" y="3223" text-anchor="middle" class="xl">25</text>
<text x="1095.5" y="3223" text-anchor="middle" class="xl">30</text>
<text x="1271.7" y="3223" text-anchor="middle" class="xl">35</text>
<text x="1447.9" y="3223" text-anchor="middle" class="xl">40</text>
<text x="416" y="3298" class="xt">Diffraction angle 2θ (º)</text>
</svg>
</body></html>
